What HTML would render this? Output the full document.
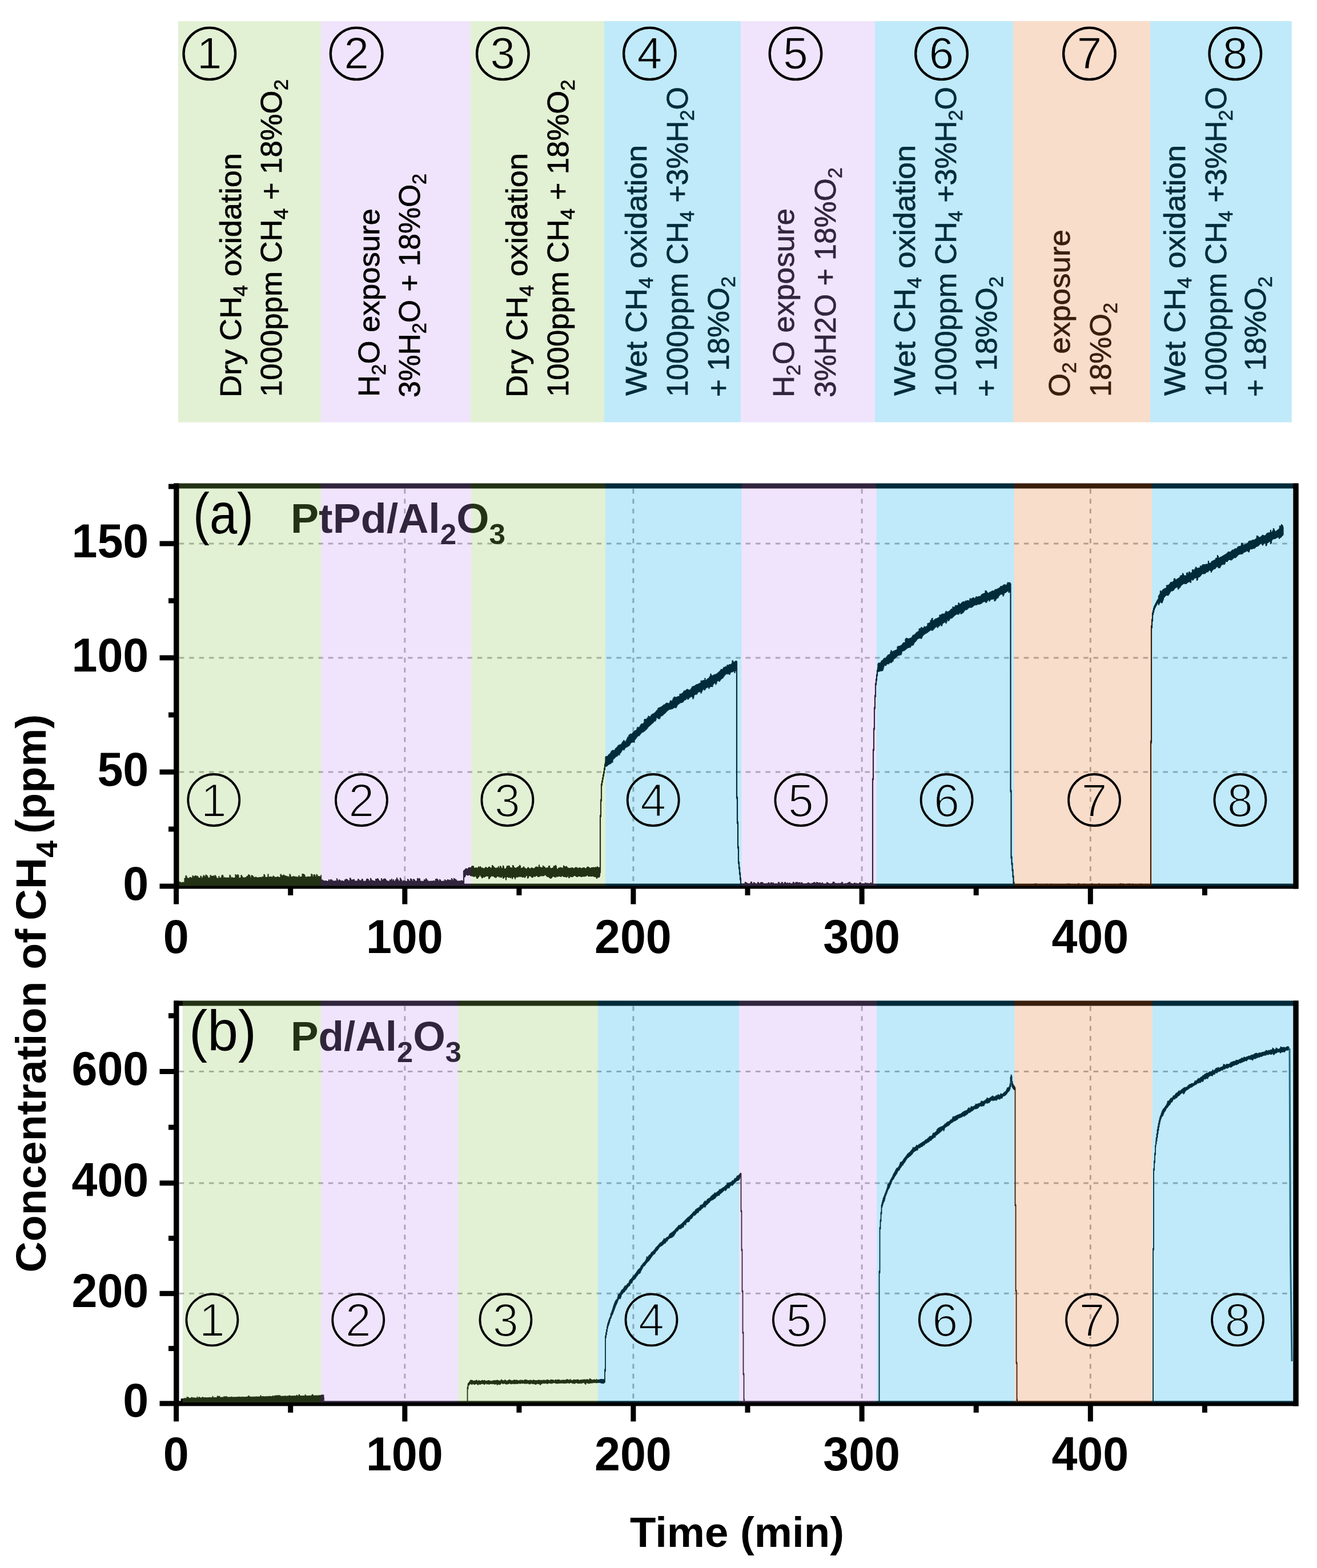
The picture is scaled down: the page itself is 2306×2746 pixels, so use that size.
<!DOCTYPE html>
<html><head><meta charset="utf-8"><title>CH4 concentration</title><style>html,body{margin:0;padding:0;background:#fff;}svg{display:block;}</style></head><body>
<svg xmlns="http://www.w3.org/2000/svg" width="2306" height="2746" viewBox="0 0 2306 2746" font-family='"Liberation Sans", Arial, sans-serif'>
<rect width="2306" height="2746" fill="#fff"/>
<rect x="312.0" y="37.0" width="249.7" height="702.5" fill="rgb(139,195,83)" fill-opacity="0.250"/>
<rect x="561.7" y="37.0" width="262.3" height="702.5" fill="rgb(195,147,243)" fill-opacity="0.250"/>
<rect x="824.0" y="37.0" width="234.0" height="702.5" fill="rgb(139,195,83)" fill-opacity="0.250"/>
<g fill="#000" stroke="#000" stroke-width="0.7">
<text transform="translate(422.1,696.0) rotate(-90)" font-size="52.0" textLength="427.8" lengthAdjust="spacingAndGlyphs"><tspan>Dry CH</tspan><tspan dy="11.0" font-size="34.3">4</tspan><tspan dy="-11.0"> oxidation</tspan></text>
<text transform="translate(493.0,695.0) rotate(-90)" font-size="52.0" textLength="556.0" lengthAdjust="spacingAndGlyphs"><tspan>1000ppm CH</tspan><tspan dy="11.0" font-size="34.3">4</tspan><tspan dy="-11.0"> + 18%O</tspan><tspan dy="11.0" font-size="34.3">2</tspan></text>
<text transform="translate(664.0,695.0) rotate(-90)" font-size="52.0" textLength="329.8" lengthAdjust="spacingAndGlyphs"><tspan>H</tspan><tspan dy="11.0" font-size="34.3">2</tspan><tspan dy="-11.0">O exposure</tspan></text>
<text transform="translate(735.4,696.0) rotate(-90)" font-size="52.0" textLength="392.0" lengthAdjust="spacingAndGlyphs"><tspan>3%H</tspan><tspan dy="11.0" font-size="34.3">2</tspan><tspan dy="-11.0">O + 18%O</tspan><tspan dy="11.0" font-size="34.3">2</tspan></text>
<text transform="translate(923.0,696.0) rotate(-90)" font-size="52.0" textLength="427.8" lengthAdjust="spacingAndGlyphs"><tspan>Dry CH</tspan><tspan dy="11.0" font-size="34.3">4</tspan><tspan dy="-11.0"> oxidation</tspan></text>
<text transform="translate(995.0,695.0) rotate(-90)" font-size="52.0" textLength="555.6" lengthAdjust="spacingAndGlyphs"><tspan>1000ppm CH</tspan><tspan dy="11.0" font-size="34.3">4</tspan><tspan dy="-11.0"> + 18%O</tspan><tspan dy="11.0" font-size="34.3">2</tspan></text>
<text transform="translate(1132.0,693.0) rotate(-90)" font-size="52.0" textLength="439.0" lengthAdjust="spacingAndGlyphs"><tspan>Wet CH</tspan><tspan dy="11.0" font-size="34.3">4</tspan><tspan dy="-11.0"> oxidation</tspan></text>
<text transform="translate(1204.0,695.0) rotate(-90)" font-size="52.0" textLength="543.0" lengthAdjust="spacingAndGlyphs"><tspan>1000ppm CH</tspan><tspan dy="11.0" font-size="34.3">4</tspan><tspan dy="-11.0"> +3%H</tspan><tspan dy="11.0" font-size="34.3">2</tspan><tspan dy="-11.0">O</tspan></text>
<text transform="translate(1276.0,695.0) rotate(-90)" font-size="52.0" textLength="211.0" lengthAdjust="spacingAndGlyphs"><tspan>+ 18%O</tspan><tspan dy="11.0" font-size="34.3">2</tspan></text>
<text transform="translate(1390.0,696.0) rotate(-90)" font-size="52.0" textLength="330.8" lengthAdjust="spacingAndGlyphs"><tspan>H</tspan><tspan dy="11.0" font-size="34.3">2</tspan><tspan dy="-11.0">O exposure</tspan></text>
<text transform="translate(1463.0,696.0) rotate(-90)" font-size="52.0" textLength="402.8" lengthAdjust="spacingAndGlyphs"><tspan>3%H2O + 18%O</tspan><tspan dy="11.0" font-size="34.3">2</tspan></text>
<text transform="translate(1601.6,693.0) rotate(-90)" font-size="52.0" textLength="439.0" lengthAdjust="spacingAndGlyphs"><tspan>Wet CH</tspan><tspan dy="11.0" font-size="34.3">4</tspan><tspan dy="-11.0"> oxidation</tspan></text>
<text transform="translate(1673.5,695.0) rotate(-90)" font-size="52.0" textLength="543.0" lengthAdjust="spacingAndGlyphs"><tspan>1000ppm CH</tspan><tspan dy="11.0" font-size="34.3">4</tspan><tspan dy="-11.0"> +3%H</tspan><tspan dy="11.0" font-size="34.3">2</tspan><tspan dy="-11.0">O</tspan></text>
<text transform="translate(1744.5,695.0) rotate(-90)" font-size="52.0" textLength="211.0" lengthAdjust="spacingAndGlyphs"><tspan>+ 18%O</tspan><tspan dy="11.0" font-size="34.3">2</tspan></text>
<text transform="translate(1873.0,695.0) rotate(-90)" font-size="52.0" textLength="293.0" lengthAdjust="spacingAndGlyphs"><tspan>O</tspan><tspan dy="11.0" font-size="34.3">2</tspan><tspan dy="-11.0"> exposure</tspan></text>
<text transform="translate(1945.0,695.0) rotate(-90)" font-size="52.0" textLength="165.0" lengthAdjust="spacingAndGlyphs"><tspan>18%O</tspan><tspan dy="11.0" font-size="34.3">2</tspan></text>
<text transform="translate(2074.7,693.0) rotate(-90)" font-size="52.0" textLength="439.0" lengthAdjust="spacingAndGlyphs"><tspan>Wet CH</tspan><tspan dy="11.0" font-size="34.3">4</tspan><tspan dy="-11.0"> oxidation</tspan></text>
<text transform="translate(2146.7,695.0) rotate(-90)" font-size="52.0" textLength="543.0" lengthAdjust="spacingAndGlyphs"><tspan>1000ppm CH</tspan><tspan dy="11.0" font-size="34.3">4</tspan><tspan dy="-11.0"> +3%H</tspan><tspan dy="11.0" font-size="34.3">2</tspan><tspan dy="-11.0">O</tspan></text>
<text transform="translate(2216.0,695.0) rotate(-90)" font-size="52.0" textLength="211.0" lengthAdjust="spacingAndGlyphs"><tspan>+ 18%O</tspan><tspan dy="11.0" font-size="34.3">2</tspan></text>
</g>
<rect x="1058.0" y="37.0" width="239.0" height="702.5" fill="rgb(3,171,231)" fill-opacity="0.250"/>
<rect x="1297.0" y="37.0" width="235.0" height="702.5" fill="rgb(195,147,243)" fill-opacity="0.250"/>
<rect x="1532.0" y="37.0" width="242.0" height="702.5" fill="rgb(3,171,231)" fill-opacity="0.250"/>
<rect x="1774.0" y="37.0" width="240.0" height="702.5" fill="rgb(231,119,47)" fill-opacity="0.250"/>
<rect x="2014.0" y="37.0" width="247.8" height="702.5" fill="rgb(3,171,231)" fill-opacity="0.250"/>
<circle cx="366.8" cy="93.9" r="45.3" fill="none" stroke="#000" stroke-width="4.3"/><text x="366.8" y="120.2" font-size="78.0" text-anchor="middle" stroke="rgb(226,240,212)" stroke-width="1.1">1</text>
<circle cx="624.1" cy="93.9" r="45.3" fill="none" stroke="#000" stroke-width="4.3"/><text x="624.1" y="120.2" font-size="78.0" text-anchor="middle" stroke="rgb(240,228,252)" stroke-width="1.1">2</text>
<circle cx="880.3" cy="93.9" r="45.3" fill="none" stroke="#000" stroke-width="4.3"/><text x="880.3" y="120.2" font-size="78.0" text-anchor="middle" stroke="rgb(226,240,212)" stroke-width="1.1">3</text>
<circle cx="1137.4" cy="93.9" r="45.3" fill="none" stroke="#000" stroke-width="4.3"/><text x="1137.4" y="120.2" font-size="78.0" text-anchor="middle" stroke="rgb(192,234,249)" stroke-width="1.1">4</text>
<circle cx="1393.0" cy="93.9" r="45.3" fill="none" stroke="#000" stroke-width="4.3"/><text x="1393.0" y="120.2" font-size="78.0" text-anchor="middle" stroke="rgb(240,228,252)" stroke-width="1.1">5</text>
<circle cx="1648.5" cy="93.9" r="45.3" fill="none" stroke="#000" stroke-width="4.3"/><text x="1648.5" y="120.2" font-size="78.0" text-anchor="middle" stroke="rgb(192,234,249)" stroke-width="1.1">6</text>
<circle cx="1907.4" cy="93.9" r="45.3" fill="none" stroke="#000" stroke-width="4.3"/><text x="1907.4" y="120.2" font-size="78.0" text-anchor="middle" stroke="rgb(249,221,203)" stroke-width="1.1">7</text>
<circle cx="2162.8" cy="93.9" r="45.3" fill="none" stroke="#000" stroke-width="4.3"/><text x="2162.8" y="120.2" font-size="78.0" text-anchor="middle" stroke="rgb(192,234,249)" stroke-width="1.1">8</text>
<line x1="313.8" y1="1352.0" x2="2263.0" y2="1352.0" stroke="#aaa" stroke-width="3" stroke-dasharray="8.5,8.9" fill="none"/>
<line x1="313.8" y1="1152.0" x2="2263.0" y2="1152.0" stroke="#aaa" stroke-width="3" stroke-dasharray="8.5,8.9" fill="none"/>
<line x1="313.8" y1="952.0" x2="2263.0" y2="952.0" stroke="#aaa" stroke-width="3" stroke-dasharray="8.5,8.9" fill="none"/>
<line x1="708.8" y1="856.0" x2="708.8" y2="1547.0" stroke="#aaa" stroke-width="3" stroke-dasharray="8.5,8.9" fill="none"/>
<line x1="1108.9" y1="856.0" x2="1108.9" y2="1547.0" stroke="#aaa" stroke-width="3" stroke-dasharray="8.5,8.9" fill="none"/>
<line x1="1509.1" y1="856.0" x2="1509.1" y2="1547.0" stroke="#aaa" stroke-width="3" stroke-dasharray="8.5,8.9" fill="none"/>
<line x1="1909.3" y1="856.0" x2="1909.3" y2="1547.0" stroke="#aaa" stroke-width="3" stroke-dasharray="8.5,8.9" fill="none"/>
<path d="M313.0,1545.8 314.0,1545.8 314.0,1544.2 315.0,1544.2 315.0,1545.2 316.0,1545.2 316.0,1545.8 317.0,1545.8 317.0,1546.0 318.0,1546.0 318.0,1545.7 319.0,1545.7 319.0,1545.5 320.0,1545.5 320.0,1545.2 321.0,1545.2 321.0,1545.7 322.0,1545.7 322.0,1545.8 323.0,1545.8 323.0,1538.5 324.0,1538.5 324.0,1537.7 325.0,1537.7 325.0,1533.7 326.0,1533.7 326.0,1534.2 327.0,1534.2 327.0,1538.4 328.0,1538.4 328.0,1537.7 329.0,1537.7 329.0,1538.0 330.0,1538.0 330.0,1538.4 331.0,1538.4 331.0,1538.5 332.0,1538.5 332.0,1536.6 333.0,1536.6 333.0,1536.4 334.0,1536.4 334.0,1537.3 335.0,1537.3 335.0,1538.7 336.0,1538.7 336.0,1537.6 337.0,1537.6 337.0,1533.5 338.0,1533.5 338.0,1537.3 339.0,1537.3 339.0,1535.2 340.0,1535.2 340.0,1535.9 341.0,1535.9 341.0,1534.4 342.0,1534.4 342.0,1533.3 343.0,1533.3 343.0,1534.9 344.0,1534.9 344.0,1536.2 345.0,1536.2 345.0,1534.4 346.0,1534.4 346.0,1535.1 347.0,1535.1 347.0,1538.6 348.0,1538.6 348.0,1537.5 349.0,1537.5 349.0,1537.5 350.0,1537.5 350.0,1538.2 351.0,1538.2 351.0,1534.1 352.0,1534.1 352.0,1535.8 353.0,1535.8 353.0,1538.6 354.0,1538.6 354.0,1538.0 355.0,1538.0 355.0,1535.5 356.0,1535.5 356.0,1533.1 357.0,1533.1 357.0,1533.9 358.0,1533.9 358.0,1535.7 359.0,1535.7 359.0,1538.1 360.0,1538.1 360.0,1532.0 361.0,1532.0 361.0,1537.3 362.0,1537.3 362.0,1533.4 363.0,1533.4 363.0,1535.2 364.0,1535.2 364.0,1538.3 365.0,1538.3 365.0,1537.9 366.0,1537.9 366.0,1537.2 367.0,1537.2 367.0,1538.2 368.0,1538.2 368.0,1532.9 369.0,1532.9 369.0,1538.2 370.0,1538.2 370.0,1534.1 371.0,1534.1 371.0,1534.7 372.0,1534.7 372.0,1537.8 373.0,1537.8 373.0,1533.9 374.0,1533.9 374.0,1534.9 375.0,1534.9 375.0,1535.3 376.0,1535.3 376.0,1532.9 377.0,1532.9 377.0,1534.1 378.0,1534.1 378.0,1535.7 379.0,1535.7 379.0,1538.1 380.0,1538.1 380.0,1538.0 381.0,1538.0 381.0,1538.1 382.0,1538.1 382.0,1538.2 383.0,1538.2 383.0,1534.6 384.0,1534.6 384.0,1538.0 385.0,1538.0 385.0,1537.9 386.0,1537.9 386.0,1537.4 387.0,1537.4 387.0,1537.0 388.0,1537.0 388.0,1533.5 389.0,1533.5 389.0,1532.4 390.0,1532.4 390.0,1533.8 391.0,1533.8 391.0,1538.1 392.0,1538.1 392.0,1537.3 393.0,1537.3 393.0,1536.5 394.0,1536.5 394.0,1537.5 395.0,1537.5 395.0,1537.8 396.0,1537.8 396.0,1537.1 397.0,1537.1 397.0,1537.5 398.0,1537.5 398.0,1537.4 399.0,1537.4 399.0,1537.1 400.0,1537.1 400.0,1538.0 401.0,1538.0 401.0,1537.3 402.0,1537.3 402.0,1532.3 403.0,1532.3 403.0,1534.0 404.0,1534.0 404.0,1537.9 405.0,1537.9 405.0,1537.2 406.0,1537.2 406.0,1536.9 407.0,1536.9 407.0,1537.0 408.0,1537.0 408.0,1537.4 409.0,1537.4 409.0,1537.7 410.0,1537.7 410.0,1537.6 411.0,1537.6 411.0,1537.4 412.0,1537.4 412.0,1531.5 413.0,1531.5 413.0,1533.0 414.0,1533.0 414.0,1534.1 415.0,1534.1 415.0,1532.9 416.0,1532.9 416.0,1531.6 417.0,1531.6 417.0,1533.0 418.0,1533.0 418.0,1537.8 419.0,1537.8 419.0,1537.7 420.0,1537.7 420.0,1537.8 421.0,1537.8 421.0,1537.0 422.0,1537.0 422.0,1532.7 423.0,1532.7 423.0,1534.4 424.0,1534.4 424.0,1535.5 425.0,1535.5 425.0,1537.7 426.0,1537.7 426.0,1537.4 427.0,1537.4 427.0,1537.2 428.0,1537.2 428.0,1537.2 429.0,1537.2 429.0,1537.3 430.0,1537.3 430.0,1536.3 431.0,1536.3 431.0,1536.3 432.0,1536.3 432.0,1534.6 433.0,1534.6 433.0,1535.4 434.0,1535.4 434.0,1533.6 435.0,1533.6 435.0,1531.5 436.0,1531.5 436.0,1532.6 437.0,1532.6 437.0,1534.2 438.0,1534.2 438.0,1537.4 439.0,1537.4 439.0,1537.5 440.0,1537.5 440.0,1533.0 441.0,1533.0 441.0,1533.4 442.0,1533.4 442.0,1534.2 443.0,1534.2 443.0,1535.3 444.0,1535.3 444.0,1537.2 445.0,1537.2 445.0,1536.8 446.0,1536.8 446.0,1536.3 447.0,1536.3 447.0,1536.2 448.0,1536.2 448.0,1536.2 449.0,1536.2 449.0,1536.5 450.0,1536.5 450.0,1537.3 451.0,1537.3 451.0,1537.3 452.0,1537.3 452.0,1537.0 453.0,1537.0 453.0,1536.5 454.0,1536.5 454.0,1536.7 455.0,1536.7 455.0,1537.3 456.0,1537.3 456.0,1536.3 457.0,1536.3 457.0,1537.0 458.0,1537.0 458.0,1537.2 459.0,1537.2 459.0,1535.6 460.0,1535.6 460.0,1535.7 461.0,1535.7 461.0,1536.0 462.0,1536.0 462.0,1531.3 463.0,1531.3 463.0,1532.8 464.0,1532.8 464.0,1536.6 465.0,1536.6 465.0,1536.4 466.0,1536.4 466.0,1536.7 467.0,1536.7 467.0,1536.5 468.0,1536.5 468.0,1535.9 469.0,1535.9 469.0,1531.1 470.0,1531.1 470.0,1537.0 471.0,1537.0 471.0,1536.0 472.0,1536.0 472.0,1535.9 473.0,1535.9 473.0,1535.7 474.0,1535.7 474.0,1535.4 475.0,1535.4 475.0,1536.9 476.0,1536.9 476.0,1536.7 477.0,1536.7 477.0,1535.9 478.0,1535.9 478.0,1534.0 479.0,1534.0 479.0,1535.1 480.0,1535.1 480.0,1535.5 481.0,1535.5 481.0,1536.9 482.0,1536.9 482.0,1536.6 483.0,1536.6 483.0,1536.5 484.0,1536.5 484.0,1536.1 485.0,1536.1 485.0,1536.7 486.0,1536.7 486.0,1535.4 487.0,1535.4 487.0,1536.3 488.0,1536.3 488.0,1536.7 489.0,1536.7 489.0,1536.6 490.0,1536.6 490.0,1536.8 491.0,1536.8 491.0,1531.1 492.0,1531.1 492.0,1532.4 493.0,1532.4 493.0,1535.9 494.0,1535.9 494.0,1533.7 495.0,1533.7 495.0,1536.2 496.0,1536.2 496.0,1532.0 497.0,1532.0 497.0,1533.0 498.0,1533.0 498.0,1533.3 499.0,1533.3 499.0,1534.5 500.0,1534.5 500.0,1534.2 501.0,1534.2 501.0,1534.5 502.0,1534.5 502.0,1535.9 503.0,1535.9 503.0,1535.1 504.0,1535.1 504.0,1535.0 505.0,1535.0 505.0,1536.3 506.0,1536.3 506.0,1536.4 507.0,1536.4 507.0,1530.9 508.0,1530.9 508.0,1532.6 509.0,1532.6 509.0,1536.6 510.0,1536.6 510.0,1535.7 511.0,1535.7 511.0,1536.5 512.0,1536.5 512.0,1535.8 513.0,1535.8 513.0,1534.5 514.0,1534.5 514.0,1535.0 515.0,1535.0 515.0,1536.2 516.0,1536.2 516.0,1535.2 517.0,1535.2 517.0,1536.4 518.0,1536.4 518.0,1536.2 519.0,1536.2 519.0,1535.6 520.0,1535.6 520.0,1536.3 521.0,1536.3 521.0,1536.2 522.0,1536.2 522.0,1536.0 523.0,1536.0 523.0,1533.4 524.0,1533.4 524.0,1536.4 525.0,1536.4 525.0,1535.9 526.0,1535.9 526.0,1536.1 527.0,1536.1 527.0,1535.6 528.0,1535.6 528.0,1535.6 529.0,1535.6 529.0,1530.7 530.0,1530.7 530.0,1531.3 531.0,1531.3 531.0,1530.8 532.0,1530.8 532.0,1531.5 533.0,1531.5 533.0,1532.9 534.0,1532.9 534.0,1536.2 535.0,1536.2 535.0,1536.0 536.0,1536.0 536.0,1535.9 537.0,1535.9 537.0,1536.2 538.0,1536.2 538.0,1535.7 539.0,1535.7 539.0,1535.4 540.0,1535.4 540.0,1535.5 541.0,1535.5 541.0,1536.0 542.0,1536.0 542.0,1536.1 543.0,1536.1 543.0,1535.1 544.0,1535.1 544.0,1535.8 545.0,1535.8 545.0,1530.6 546.0,1530.6 546.0,1531.9 547.0,1531.9 547.0,1535.9 548.0,1535.9 548.0,1535.9 549.0,1535.9 549.0,1532.0 550.0,1532.0 550.0,1531.8 551.0,1531.8 551.0,1532.8 552.0,1532.8 552.0,1535.7 553.0,1535.7 553.0,1535.6 554.0,1535.6 554.0,1531.4 555.0,1531.4 555.0,1532.7 556.0,1532.7 556.0,1535.7 557.0,1535.7 557.0,1535.2 558.0,1535.2 558.0,1534.5 559.0,1534.5 559.0,1535.6 560.0,1535.6 560.0,1535.2 561.0,1535.2 561.0,1535.6 562.0,1535.6 562.0,1532.6 562.5,1532.6 562.5,1543.5 563.5,1543.5 563.5,1540.8 564.5,1540.8 564.5,1541.3 565.5,1541.3 565.5,1543.3 566.5,1543.3 566.5,1542.7 567.5,1542.7 567.5,1542.8 568.5,1542.8 568.5,1543.3 569.5,1543.3 569.5,1542.7 570.5,1542.7 570.5,1542.7 571.5,1542.7 571.5,1543.5 572.5,1543.5 572.5,1543.4 573.5,1543.4 573.5,1543.5 574.5,1543.5 574.5,1543.0 575.5,1543.0 575.5,1540.7 576.5,1540.7 576.5,1542.6 577.5,1542.6 577.5,1542.6 578.5,1542.6 578.5,1540.4 579.5,1540.4 579.5,1540.9 580.5,1540.9 580.5,1540.9 581.5,1540.9 581.5,1542.4 582.5,1542.4 582.5,1543.1 583.5,1543.1 583.5,1542.9 584.5,1542.9 584.5,1543.3 585.5,1543.3 585.5,1543.2 586.5,1543.2 586.5,1542.7 587.5,1542.7 587.5,1542.9 588.5,1542.9 588.5,1543.1 589.5,1543.1 589.5,1538.6 590.5,1538.6 590.5,1541.4 591.5,1541.4 591.5,1543.0 592.5,1543.0 592.5,1542.8 593.5,1542.8 593.5,1540.7 594.5,1540.7 594.5,1541.5 595.5,1541.5 595.5,1542.0 596.5,1542.0 596.5,1543.4 597.5,1543.4 597.5,1543.3 598.5,1543.3 598.5,1542.3 599.5,1542.3 599.5,1543.4 600.5,1543.4 600.5,1543.2 601.5,1543.2 601.5,1543.3 602.5,1543.3 602.5,1543.4 603.5,1543.4 603.5,1540.9 604.5,1540.9 604.5,1542.6 605.5,1542.6 605.5,1539.7 606.5,1539.7 606.5,1539.8 607.5,1539.8 607.5,1540.4 608.5,1540.4 608.5,1541.4 609.5,1541.4 609.5,1542.6 610.5,1542.6 610.5,1543.3 611.5,1543.3 611.5,1542.3 612.5,1542.3 612.5,1537.7 613.5,1537.7 613.5,1538.9 614.5,1538.9 614.5,1540.9 615.5,1540.9 615.5,1543.3 616.5,1543.3 616.5,1541.1 617.5,1541.1 617.5,1540.7 618.5,1540.7 618.5,1541.1 619.5,1541.1 619.5,1540.1 620.5,1540.1 620.5,1542.9 621.5,1542.9 621.5,1543.3 622.5,1543.3 622.5,1542.8 623.5,1542.8 623.5,1542.9 624.5,1542.9 624.5,1543.4 625.5,1543.4 625.5,1542.8 626.5,1542.8 626.5,1539.5 627.5,1539.5 627.5,1540.1 628.5,1540.1 628.5,1541.7 629.5,1541.7 629.5,1542.5 630.5,1542.5 630.5,1543.1 631.5,1543.1 631.5,1541.8 632.5,1541.8 632.5,1542.9 633.5,1542.9 633.5,1539.3 634.5,1539.3 634.5,1540.3 635.5,1540.3 635.5,1543.5 636.5,1543.5 636.5,1543.4 637.5,1543.4 637.5,1543.0 638.5,1543.0 638.5,1543.5 639.5,1543.5 639.5,1543.4 640.5,1543.4 640.5,1542.7 641.5,1542.7 641.5,1539.9 642.5,1539.9 642.5,1539.0 643.5,1539.0 643.5,1539.6 644.5,1539.6 644.5,1540.4 645.5,1540.4 645.5,1542.8 646.5,1542.8 646.5,1543.3 647.5,1543.3 647.5,1542.7 648.5,1542.7 648.5,1538.2 649.5,1538.2 649.5,1540.1 650.5,1540.1 650.5,1541.3 651.5,1541.3 651.5,1543.1 652.5,1543.1 652.5,1542.4 653.5,1542.4 653.5,1543.1 654.5,1543.1 654.5,1542.7 655.5,1542.7 655.5,1543.5 656.5,1543.5 656.5,1543.3 657.5,1543.3 657.5,1539.5 658.5,1539.5 658.5,1539.7 659.5,1539.7 659.5,1543.1 660.5,1543.1 660.5,1538.5 661.5,1538.5 661.5,1539.4 662.5,1539.4 662.5,1540.9 663.5,1540.9 663.5,1543.0 664.5,1543.0 664.5,1542.6 665.5,1542.6 665.5,1543.3 666.5,1543.3 666.5,1543.4 667.5,1543.4 667.5,1538.6 668.5,1538.6 668.5,1541.1 669.5,1541.1 669.5,1540.9 670.5,1540.9 670.5,1542.3 671.5,1542.3 671.5,1539.3 672.5,1539.3 672.5,1540.6 673.5,1540.6 673.5,1538.9 674.5,1538.9 674.5,1539.8 675.5,1539.8 675.5,1541.2 676.5,1541.2 676.5,1542.7 677.5,1542.7 677.5,1542.9 678.5,1542.9 678.5,1543.0 679.5,1543.0 679.5,1543.0 680.5,1543.0 680.5,1543.4 681.5,1543.4 681.5,1543.4 682.5,1543.4 682.5,1540.8 683.5,1540.8 683.5,1541.5 684.5,1541.5 684.5,1542.7 685.5,1542.7 685.5,1539.4 686.5,1539.4 686.5,1542.4 687.5,1542.4 687.5,1542.9 688.5,1542.9 688.5,1540.5 689.5,1540.5 689.5,1543.4 690.5,1543.4 690.5,1543.5 691.5,1543.5 691.5,1542.8 692.5,1542.8 692.5,1540.3 693.5,1540.3 693.5,1541.2 694.5,1541.2 694.5,1537.4 695.5,1537.4 695.5,1540.2 696.5,1540.2 696.5,1540.7 697.5,1540.7 697.5,1543.3 698.5,1543.3 698.5,1542.9 699.5,1542.9 699.5,1543.4 700.5,1543.4 700.5,1537.5 701.5,1537.5 701.5,1539.8 702.5,1539.8 702.5,1541.1 703.5,1541.1 703.5,1543.2 704.5,1543.2 704.5,1543.2 705.5,1543.2 705.5,1543.2 706.5,1543.2 706.5,1542.1 707.5,1542.1 707.5,1542.5 708.5,1542.5 708.5,1542.9 709.5,1542.9 709.5,1543.0 710.5,1543.0 710.5,1543.3 711.5,1543.3 711.5,1543.5 712.5,1543.5 712.5,1543.3 713.5,1543.3 713.5,1539.7 714.5,1539.7 714.5,1540.7 715.5,1540.7 715.5,1542.9 716.5,1542.9 716.5,1543.2 717.5,1543.2 717.5,1542.9 718.5,1542.9 718.5,1538.8 719.5,1538.8 719.5,1539.6 720.5,1539.6 720.5,1540.7 721.5,1540.7 721.5,1543.3 722.5,1543.3 722.5,1543.1 723.5,1543.1 723.5,1539.6 724.5,1539.6 724.5,1540.4 725.5,1540.4 725.5,1541.5 726.5,1541.5 726.5,1543.3 727.5,1543.3 727.5,1543.2 728.5,1543.2 728.5,1543.1 729.5,1543.1 729.5,1542.8 730.5,1542.8 730.5,1538.3 731.5,1538.3 731.5,1540.1 732.5,1540.1 732.5,1539.4 733.5,1539.4 733.5,1538.3 734.5,1538.3 734.5,1539.7 735.5,1539.7 735.5,1543.0 736.5,1543.0 736.5,1543.1 737.5,1543.1 737.5,1543.5 738.5,1543.5 738.5,1543.3 739.5,1543.3 739.5,1543.4 740.5,1543.4 740.5,1543.4 741.5,1543.4 741.5,1543.5 742.5,1543.5 742.5,1540.6 743.5,1540.6 743.5,1541.1 744.5,1541.1 744.5,1541.4 745.5,1541.4 745.5,1538.7 746.5,1538.7 746.5,1540.4 747.5,1540.4 747.5,1541.2 748.5,1541.2 748.5,1543.4 749.5,1543.4 749.5,1543.0 750.5,1543.0 750.5,1543.0 751.5,1543.0 751.5,1543.3 752.5,1543.3 752.5,1543.5 753.5,1543.5 753.5,1543.3 754.5,1543.3 754.5,1543.2 755.5,1543.2 755.5,1543.1 756.5,1543.1 756.5,1543.3 757.5,1543.3 757.5,1543.2 758.5,1543.2 758.5,1542.6 759.5,1542.6 759.5,1542.7 760.5,1542.7 760.5,1543.3 761.5,1543.3 761.5,1543.2 762.5,1543.2 762.5,1539.6 763.5,1539.6 763.5,1542.8 764.5,1542.8 764.5,1539.2 765.5,1539.2 765.5,1540.0 766.5,1540.0 766.5,1541.3 767.5,1541.3 767.5,1543.2 768.5,1543.2 768.5,1543.2 769.5,1543.2 769.5,1540.3 770.5,1540.3 770.5,1541.0 771.5,1541.0 771.5,1542.9 772.5,1542.9 772.5,1543.4 773.5,1543.4 773.5,1543.5 774.5,1543.5 774.5,1543.3 775.5,1543.3 775.5,1543.0 776.5,1543.0 776.5,1543.0 777.5,1543.0 777.5,1543.2 778.5,1543.2 778.5,1540.5 779.5,1540.5 779.5,1542.0 780.5,1542.0 780.5,1543.5 781.5,1543.5 781.5,1542.1 782.5,1542.1 782.5,1542.8 783.5,1542.8 783.5,1540.4 784.5,1540.4 784.5,1541.0 785.5,1541.0 785.5,1541.8 786.5,1541.8 786.5,1543.5 787.5,1543.5 787.5,1541.2 788.5,1541.2 788.5,1541.8 789.5,1541.8 789.5,1542.3 790.5,1542.3 790.5,1538.3 791.5,1538.3 791.5,1540.2 792.5,1540.2 792.5,1542.0 793.5,1542.0 793.5,1542.0 794.5,1542.0 794.5,1538.3 795.5,1538.3 795.5,1539.2 796.5,1539.2 796.5,1541.9 797.5,1541.9 797.5,1540.0 798.5,1540.0 798.5,1541.4 799.5,1541.4 799.5,1542.8 800.5,1542.8 800.5,1542.9 801.5,1542.9 801.5,1543.0 802.5,1543.0 802.5,1543.1 803.5,1543.1 803.5,1542.9 804.5,1542.9 804.5,1543.2 805.5,1543.2 805.5,1543.1 806.5,1543.1 806.5,1542.5 807.5,1542.5 807.5,1542.2 808.5,1542.2 808.5,1542.1 809.5,1542.1 809.5,1543.0 810.5,1543.0 810.5,1543.4 811.5,1543.4 811.5,1524.9 812.5,1524.9 812.5,1524.3 813.5,1524.3 813.5,1523.4 814.5,1523.4 814.5,1522.1 815.5,1522.1 815.5,1521.1 816.5,1521.1 816.5,1521.4 817.5,1521.4 817.5,1522.4 818.5,1522.4 818.5,1522.1 819.5,1522.1 819.5,1520.4 820.5,1520.4 820.5,1519.5 821.5,1519.5 821.5,1519.4 822.5,1519.4 822.5,1519.7 823.5,1519.7 823.5,1519.5 824.5,1519.5 824.5,1519.6 825.5,1519.6 825.5,1517.3 826.5,1517.3 826.5,1517.1 827.5,1517.1 827.5,1516.7 828.5,1516.7 828.5,1517.4 829.5,1517.4 829.5,1520.0 830.5,1520.0 830.5,1520.3 831.5,1520.3 831.5,1520.1 832.5,1520.1 832.5,1519.9 833.5,1519.9 833.5,1519.8 834.5,1519.8 834.5,1519.9 835.5,1519.9 835.5,1520.4 836.5,1520.4 836.5,1520.6 837.5,1520.6 837.5,1517.9 838.5,1517.9 838.5,1518.9 839.5,1518.9 839.5,1520.1 840.5,1520.1 840.5,1517.7 841.5,1517.7 841.5,1519.4 842.5,1519.4 842.5,1519.9 843.5,1519.9 843.5,1520.5 844.5,1520.5 844.5,1520.0 845.5,1520.0 845.5,1520.8 846.5,1520.8 846.5,1521.2 847.5,1521.2 847.5,1521.3 848.5,1521.3 848.5,1520.6 849.5,1520.6 849.5,1519.0 850.5,1519.0 850.5,1518.8 851.5,1518.8 851.5,1520.2 852.5,1520.2 852.5,1520.7 853.5,1520.7 853.5,1520.5 854.5,1520.5 854.5,1519.6 855.5,1519.6 855.5,1518.3 856.5,1518.3 856.5,1518.2 857.5,1518.2 857.5,1519.6 858.5,1519.6 858.5,1520.2 859.5,1520.2 859.5,1520.0 860.5,1520.0 860.5,1520.0 861.5,1520.0 861.5,1515.7 862.5,1515.7 862.5,1516.7 863.5,1516.7 863.5,1517.4 864.5,1517.4 864.5,1519.5 865.5,1519.5 865.5,1519.4 866.5,1519.4 866.5,1520.0 867.5,1520.0 867.5,1521.1 868.5,1521.1 868.5,1521.1 869.5,1521.1 869.5,1519.8 870.5,1519.8 870.5,1519.8 871.5,1519.8 871.5,1521.0 872.5,1521.0 872.5,1517.7 873.5,1517.7 873.5,1520.9 874.5,1520.9 874.5,1520.8 875.5,1520.8 875.5,1516.9 876.5,1516.9 876.5,1517.9 877.5,1517.9 877.5,1520.8 878.5,1520.8 878.5,1520.6 879.5,1520.6 879.5,1520.2 880.5,1520.2 880.5,1516.2 881.5,1516.2 881.5,1518.0 882.5,1518.0 882.5,1521.6 883.5,1521.6 883.5,1521.6 884.5,1521.6 884.5,1521.5 885.5,1521.5 885.5,1521.4 886.5,1521.4 886.5,1519.0 887.5,1519.0 887.5,1516.5 888.5,1516.5 888.5,1517.2 889.5,1517.2 889.5,1520.0 890.5,1520.0 890.5,1516.0 891.5,1516.0 891.5,1517.1 892.5,1517.1 892.5,1519.9 893.5,1519.9 893.5,1519.6 894.5,1519.6 894.5,1519.7 895.5,1519.7 895.5,1520.1 896.5,1520.1 896.5,1520.0 897.5,1520.0 897.5,1515.7 898.5,1515.7 898.5,1516.4 899.5,1516.4 899.5,1519.2 900.5,1519.2 900.5,1519.6 901.5,1519.6 901.5,1520.4 902.5,1520.4 902.5,1520.6 903.5,1520.6 903.5,1520.2 904.5,1520.2 904.5,1519.6 905.5,1519.6 905.5,1518.9 906.5,1518.9 906.5,1519.3 907.5,1519.3 907.5,1517.7 908.5,1517.7 908.5,1521.0 909.5,1521.0 909.5,1515.4 910.5,1515.4 910.5,1516.3 911.5,1516.3 911.5,1520.7 912.5,1520.7 912.5,1520.9 913.5,1520.9 913.5,1520.2 914.5,1520.2 914.5,1519.8 915.5,1519.8 915.5,1519.8 916.5,1519.8 916.5,1517.8 917.5,1517.8 917.5,1519.8 918.5,1519.8 918.5,1520.2 919.5,1520.2 919.5,1521.0 920.5,1521.0 920.5,1521.7 921.5,1521.7 921.5,1522.3 922.5,1522.3 922.5,1521.6 923.5,1521.6 923.5,1519.5 924.5,1519.5 924.5,1519.1 925.5,1519.1 925.5,1520.4 926.5,1520.4 926.5,1521.3 927.5,1521.3 927.5,1521.6 928.5,1521.6 928.5,1521.3 929.5,1521.3 929.5,1520.3 930.5,1520.3 930.5,1519.9 931.5,1519.9 931.5,1520.0 932.5,1520.0 932.5,1520.5 933.5,1520.5 933.5,1521.4 934.5,1521.4 934.5,1521.5 935.5,1521.5 935.5,1520.7 936.5,1520.7 936.5,1519.8 937.5,1519.8 937.5,1518.6 938.5,1518.6 938.5,1518.1 939.5,1518.1 939.5,1518.4 940.5,1518.4 940.5,1518.7 941.5,1518.7 941.5,1519.0 942.5,1519.0 942.5,1518.9 943.5,1518.9 943.5,1514.8 944.5,1514.8 944.5,1518.4 945.5,1518.4 945.5,1518.8 946.5,1518.8 946.5,1519.2 947.5,1519.2 947.5,1519.5 948.5,1519.5 948.5,1519.5 949.5,1519.5 949.5,1519.3 950.5,1519.3 950.5,1516.4 951.5,1516.4 951.5,1518.0 952.5,1518.0 952.5,1518.1 953.5,1518.1 953.5,1518.6 954.5,1518.6 954.5,1520.5 955.5,1520.5 955.5,1520.7 956.5,1520.7 956.5,1520.4 957.5,1520.4 957.5,1519.7 958.5,1519.7 958.5,1519.8 959.5,1519.8 959.5,1520.7 960.5,1520.7 960.5,1516.5 961.5,1516.5 961.5,1516.4 962.5,1516.4 962.5,1519.5 963.5,1519.5 963.5,1520.9 964.5,1520.9 964.5,1521.4 965.5,1521.4 965.5,1520.8 966.5,1520.8 966.5,1520.4 967.5,1520.4 967.5,1520.0 968.5,1520.0 968.5,1519.3 969.5,1519.3 969.5,1516.6 970.5,1516.6 970.5,1516.9 971.5,1516.9 971.5,1518.1 972.5,1518.1 972.5,1515.4 973.5,1515.4 973.5,1517.5 974.5,1517.5 974.5,1521.6 975.5,1521.6 975.5,1522.3 976.5,1522.3 976.5,1522.7 977.5,1522.7 977.5,1520.0 978.5,1520.0 978.5,1521.7 979.5,1521.7 979.5,1519.8 980.5,1519.8 980.5,1519.0 981.5,1519.0 981.5,1519.5 982.5,1519.5 982.5,1519.9 983.5,1519.9 983.5,1520.2 984.5,1520.2 984.5,1520.2 985.5,1520.2 985.5,1520.0 986.5,1520.0 986.5,1516.2 987.5,1516.2 987.5,1517.1 988.5,1517.1 988.5,1518.2 989.5,1518.2 989.5,1518.1 990.5,1518.1 990.5,1517.7 991.5,1517.7 991.5,1517.3 992.5,1517.3 992.5,1519.0 993.5,1519.0 993.5,1519.8 994.5,1519.8 994.5,1520.3 995.5,1520.3 995.5,1520.5 996.5,1520.5 996.5,1520.5 997.5,1520.5 997.5,1520.4 998.5,1520.4 998.5,1520.3 999.5,1520.3 999.5,1520.1 1000.5,1520.1 1000.5,1519.9 1001.5,1519.9 1001.5,1519.7 1002.5,1519.7 1002.5,1520.2 1003.5,1520.2 1003.5,1521.4 1004.5,1521.4 1004.5,1521.6 1005.5,1521.6 1005.5,1520.7 1006.5,1520.7 1006.5,1519.8 1007.5,1519.8 1007.5,1519.1 1008.5,1519.1 1008.5,1519.0 1009.5,1519.0 1009.5,1519.6 1010.5,1519.6 1010.5,1520.3 1011.5,1520.3 1011.5,1521.0 1012.5,1521.0 1012.5,1520.9 1013.5,1520.9 1013.5,1519.9 1014.5,1519.9 1014.5,1519.6 1015.5,1519.6 1015.5,1520.2 1016.5,1520.2 1016.5,1520.7 1017.5,1520.7 1017.5,1521.1 1018.5,1521.1 1018.5,1520.9 1019.5,1520.9 1019.5,1520.3 1020.5,1520.3 1020.5,1519.9 1021.5,1519.9 1021.5,1519.6 1022.5,1519.6 1022.5,1519.8 1023.5,1519.8 1023.5,1520.5 1024.5,1520.5 1024.5,1521.0 1025.5,1521.0 1025.5,1521.2 1026.5,1521.2 1026.5,1520.5 1027.5,1520.5 1027.5,1518.8 1028.5,1518.8 1028.5,1518.2 1029.5,1518.2 1029.5,1518.6 1030.5,1518.6 1030.5,1519.1 1031.5,1519.1 1031.5,1519.8 1032.5,1519.8 1032.5,1520.4 1033.5,1520.4 1033.5,1521.0 1034.5,1521.0 1034.5,1520.7 1035.5,1520.7 1035.5,1519.4 1036.5,1519.4 1036.5,1519.5 1037.5,1519.5 1037.5,1520.9 1038.5,1520.9 1038.5,1519.0 1039.5,1519.0 1039.5,1519.4 1040.5,1519.4 1040.5,1520.5 1041.5,1520.5 1041.5,1519.3 1042.5,1519.3 1042.5,1518.8 1043.5,1518.8 1043.5,1519.1 1044.5,1519.1 1044.5,1519.5 1045.5,1519.5 1045.5,1517.9 1046.5,1517.9 1046.5,1518.9 1047.5,1518.9 1047.5,1519.7 1048.5,1519.7 1048.5,1520.3 1049.5,1520.3 1049.5,1519.1 1050.5,1519.1 1050.5,1427.7 1051.5,1427.7 1051.5,1400.2 1052.5,1400.2 1052.5,1372.7 1053.5,1372.7 1053.5,1367.4 1054.5,1367.4 1054.5,1362.0 1055.5,1362.0 1055.5,1356.6 1056.5,1356.6 1056.5,1351.2 1057.5,1351.2 1057.5,1345.1 1058.5,1345.1 1058.5,1338.2 1059.5,1338.2 1059.5,1334.7 1060.0,1334.7 1060.0,1325.6 1061.0,1325.6 1061.0,1324.5 1062.0,1324.5 1062.0,1324.7 1063.0,1324.7 1063.0,1325.0 1064.0,1325.0 1064.0,1323.8 1065.0,1323.8 1065.0,1322.3 1066.0,1322.3 1066.0,1321.2 1067.0,1321.2 1067.0,1320.5 1068.0,1320.5 1068.0,1319.8 1069.0,1319.8 1069.0,1317.9 1070.0,1317.9 1070.0,1316.1 1071.0,1316.1 1071.0,1314.9 1072.0,1314.9 1072.0,1314.3 1073.0,1314.3 1073.0,1313.9 1074.0,1313.9 1074.0,1314.3 1075.0,1314.3 1075.0,1314.8 1076.0,1314.8 1076.0,1313.5 1077.0,1313.5 1077.0,1311.7 1078.0,1311.7 1078.0,1310.4 1079.0,1310.4 1079.0,1309.5 1080.0,1309.5 1080.0,1308.7 1081.0,1308.7 1081.0,1307.3 1082.0,1307.3 1082.0,1305.9 1083.0,1305.9 1083.0,1305.1 1084.0,1305.1 1084.0,1304.6 1085.0,1304.6 1085.0,1304.2 1086.0,1304.2 1086.0,1304.0 1087.0,1304.0 1087.0,1303.8 1088.0,1303.8 1088.0,1302.4 1089.0,1302.4 1089.0,1300.7 1090.0,1300.7 1090.0,1299.2 1091.0,1299.2 1091.0,1297.9 1092.0,1297.9 1092.0,1296.6 1093.0,1296.6 1093.0,1298.1 1094.0,1298.1 1094.0,1299.6 1095.0,1299.6 1095.0,1299.0 1096.0,1299.0 1096.0,1297.1 1097.0,1297.1 1097.0,1295.0 1098.0,1295.0 1098.0,1292.8 1099.0,1292.8 1099.0,1290.5 1100.0,1290.5 1100.0,1290.4 1101.0,1290.4 1101.0,1287.2 1102.0,1287.2 1102.0,1288.0 1103.0,1288.0 1103.0,1285.5 1104.0,1285.5 1104.0,1285.3 1105.0,1285.3 1105.0,1286.9 1106.0,1286.9 1106.0,1285.4 1107.0,1285.4 1107.0,1284.2 1108.0,1284.2 1108.0,1283.1 1109.0,1283.1 1109.0,1282.1 1110.0,1282.1 1110.0,1281.0 1111.0,1281.0 1111.0,1280.0 1112.0,1280.0 1112.0,1279.6 1113.0,1279.6 1113.0,1279.4 1114.0,1279.4 1114.0,1278.3 1115.0,1278.3 1115.0,1275.8 1116.0,1275.8 1116.0,1273.3 1117.0,1273.3 1117.0,1274.0 1118.0,1274.0 1118.0,1274.6 1119.0,1274.6 1119.0,1273.8 1120.0,1273.8 1120.0,1272.0 1121.0,1272.0 1121.0,1270.3 1122.0,1270.3 1122.0,1268.9 1123.0,1268.9 1123.0,1267.6 1124.0,1267.6 1124.0,1267.6 1125.0,1267.6 1125.0,1267.9 1126.0,1267.9 1126.0,1267.3 1127.0,1267.3 1127.0,1265.5 1128.0,1265.5 1128.0,1260.1 1129.0,1260.1 1129.0,1259.3 1130.0,1259.3 1130.0,1260.4 1131.0,1260.4 1131.0,1259.7 1132.0,1259.7 1132.0,1259.7 1133.0,1259.7 1133.0,1257.0 1134.0,1257.0 1134.0,1257.6 1135.0,1257.6 1135.0,1254.0 1136.0,1254.0 1136.0,1254.5 1137.0,1254.5 1137.0,1256.3 1138.0,1256.3 1138.0,1255.9 1139.0,1255.9 1139.0,1254.1 1140.0,1254.1 1140.0,1252.4 1141.0,1252.4 1141.0,1251.6 1142.0,1251.6 1142.0,1250.7 1143.0,1250.7 1143.0,1250.2 1144.0,1250.2 1144.0,1249.8 1145.0,1249.8 1145.0,1249.3 1146.0,1249.3 1146.0,1248.4 1147.0,1248.4 1147.0,1247.5 1148.0,1247.5 1148.0,1246.3 1149.0,1246.3 1149.0,1245.0 1150.0,1245.0 1150.0,1243.9 1151.0,1243.9 1151.0,1243.1 1152.0,1243.1 1152.0,1240.3 1153.0,1240.3 1153.0,1239.6 1154.0,1239.6 1154.0,1239.8 1155.0,1239.8 1155.0,1239.0 1156.0,1239.0 1156.0,1238.6 1157.0,1238.6 1157.0,1238.1 1158.0,1238.1 1158.0,1237.5 1159.0,1237.5 1159.0,1237.0 1160.0,1237.0 1160.0,1236.1 1161.0,1236.1 1161.0,1235.1 1162.0,1235.1 1162.0,1234.4 1163.0,1234.4 1163.0,1234.1 1164.0,1234.1 1164.0,1233.9 1165.0,1233.9 1165.0,1232.7 1166.0,1232.7 1166.0,1231.6 1167.0,1231.6 1167.0,1231.2 1168.0,1231.2 1168.0,1231.3 1169.0,1231.3 1169.0,1231.5 1170.0,1231.5 1170.0,1232.1 1171.0,1232.1 1171.0,1232.8 1172.0,1232.8 1172.0,1230.8 1173.0,1230.8 1173.0,1228.1 1174.0,1228.1 1174.0,1226.9 1175.0,1226.9 1175.0,1228.0 1176.0,1228.0 1176.0,1229.1 1177.0,1229.1 1177.0,1226.5 1178.0,1226.5 1178.0,1223.9 1179.0,1223.9 1179.0,1222.2 1180.0,1222.2 1180.0,1221.0 1181.0,1221.0 1181.0,1220.3 1182.0,1220.3 1182.0,1221.1 1183.0,1221.1 1183.0,1222.0 1184.0,1222.0 1184.0,1221.4 1185.0,1221.4 1185.0,1220.5 1186.0,1220.5 1186.0,1219.9 1187.0,1219.9 1187.0,1219.9 1188.0,1219.9 1188.0,1219.9 1189.0,1219.9 1189.0,1219.3 1190.0,1219.3 1190.0,1215.7 1191.0,1215.7 1191.0,1215.3 1192.0,1215.3 1192.0,1216.1 1193.0,1216.1 1193.0,1214.9 1194.0,1214.9 1194.0,1214.4 1195.0,1214.4 1195.0,1213.9 1196.0,1213.9 1196.0,1212.4 1197.0,1212.4 1197.0,1210.7 1198.0,1210.7 1198.0,1209.7 1199.0,1209.7 1199.0,1209.8 1200.0,1209.8 1200.0,1209.9 1201.0,1209.9 1201.0,1208.6 1202.0,1208.6 1202.0,1207.3 1203.0,1207.3 1203.0,1207.1 1204.0,1207.1 1204.0,1207.6 1205.0,1207.6 1205.0,1208.2 1206.0,1208.2 1206.0,1208.7 1207.0,1208.7 1207.0,1209.1 1208.0,1209.1 1208.0,1208.3 1209.0,1208.3 1209.0,1207.1 1210.0,1207.1 1210.0,1205.8 1211.0,1205.8 1211.0,1204.1 1212.0,1204.1 1212.0,1202.4 1213.0,1202.4 1213.0,1202.2 1214.0,1202.2 1214.0,1201.9 1215.0,1201.9 1215.0,1201.6 1216.0,1201.6 1216.0,1201.1 1217.0,1201.1 1217.0,1200.5 1218.0,1200.5 1218.0,1199.7 1219.0,1199.7 1219.0,1198.9 1220.0,1198.9 1220.0,1198.7 1221.0,1198.7 1221.0,1198.6 1222.0,1198.6 1222.0,1198.2 1223.0,1198.2 1223.0,1197.5 1224.0,1197.5 1224.0,1196.8 1225.0,1196.8 1225.0,1196.6 1226.0,1196.6 1226.0,1196.4 1227.0,1196.4 1227.0,1192.6 1228.0,1192.6 1228.0,1192.2 1229.0,1192.2 1229.0,1193.4 1230.0,1193.4 1230.0,1192.4 1231.0,1192.4 1231.0,1191.5 1232.0,1191.5 1232.0,1191.3 1233.0,1191.3 1233.0,1191.3 1234.0,1191.3 1234.0,1187.8 1235.0,1187.8 1235.0,1191.5 1236.0,1191.5 1236.0,1191.6 1237.0,1191.6 1237.0,1190.5 1238.0,1190.5 1238.0,1189.3 1239.0,1189.3 1239.0,1188.6 1240.0,1188.6 1240.0,1188.1 1241.0,1188.1 1241.0,1187.4 1242.0,1187.4 1242.0,1185.6 1243.0,1185.6 1243.0,1183.8 1244.0,1183.8 1244.0,1180.2 1245.0,1180.2 1245.0,1182.3 1246.0,1182.3 1246.0,1183.4 1247.0,1183.4 1247.0,1184.2 1248.0,1184.2 1248.0,1183.0 1249.0,1183.0 1249.0,1182.4 1250.0,1182.4 1250.0,1181.8 1251.0,1181.8 1251.0,1181.4 1252.0,1181.4 1252.0,1181.2 1253.0,1181.2 1253.0,1181.0 1254.0,1181.0 1254.0,1180.4 1255.0,1180.4 1255.0,1179.9 1256.0,1179.9 1256.0,1179.1 1257.0,1179.1 1257.0,1178.1 1258.0,1178.1 1258.0,1177.3 1259.0,1177.3 1259.0,1176.4 1260.0,1176.4 1260.0,1175.5 1261.0,1175.5 1261.0,1174.0 1262.0,1174.0 1262.0,1172.5 1263.0,1172.5 1263.0,1172.1 1264.0,1172.1 1264.0,1172.4 1265.0,1172.4 1265.0,1172.3 1266.0,1172.3 1266.0,1170.4 1267.0,1170.4 1267.0,1168.6 1268.0,1168.6 1268.0,1168.5 1269.0,1168.5 1269.0,1168.9 1270.0,1168.9 1270.0,1167.0 1271.0,1167.0 1271.0,1168.4 1272.0,1168.4 1272.0,1167.9 1273.0,1167.9 1273.0,1164.6 1274.0,1164.6 1274.0,1165.0 1275.0,1165.0 1275.0,1166.2 1276.0,1166.2 1276.0,1164.7 1277.0,1164.7 1277.0,1163.5 1278.0,1163.5 1278.0,1163.9 1279.0,1163.9 1279.0,1164.3 1280.0,1164.3 1280.0,1163.3 1281.0,1163.3 1281.0,1161.9 1282.0,1161.9 1282.0,1156.9 1283.0,1156.9 1283.0,1157.8 1284.0,1157.8 1284.0,1160.6 1285.0,1160.6 1285.0,1159.8 1286.0,1159.8 1286.0,1159.0 1287.0,1159.0 1287.0,1158.3 1288.0,1158.3 1288.0,1157.6 1289.0,1157.6 1289.0,1157.4 1289.5,1157.4 1289.5,1158.7 1290.5,1158.7 1290.5,1395.6 1291.5,1395.6 1291.5,1439.2 1292.5,1439.2 1292.5,1482.7 1293.5,1482.7 1293.5,1509.3 1294.5,1509.3 1294.5,1518.8 1295.5,1518.8 1295.5,1528.3 1296.5,1528.3 1296.5,1537.7 1297.5,1537.7 1297.5,1547.5 1298.5,1547.5 1298.5,1547.6 1299.5,1547.6 1299.5,1547.8 1300.5,1547.8 1300.5,1547.9 1301.5,1547.9 1301.5,1547.9 1302.5,1547.9 1302.5,1547.6 1303.5,1547.6 1303.5,1547.2 1304.5,1547.2 1304.5,1544.9 1305.5,1544.9 1305.5,1545.5 1306.5,1545.5 1306.5,1546.1 1307.5,1546.1 1307.5,1546.5 1308.5,1546.5 1308.5,1547.4 1309.5,1547.4 1309.5,1547.7 1310.5,1547.7 1310.5,1547.6 1311.5,1547.6 1311.5,1547.5 1312.5,1547.5 1312.5,1547.4 1313.5,1547.4 1313.5,1547.0 1314.5,1547.0 1314.5,1544.3 1315.5,1544.3 1315.5,1544.5 1316.5,1544.5 1316.5,1547.1 1317.5,1547.1 1317.5,1547.5 1318.5,1547.5 1318.5,1547.7 1319.5,1547.7 1319.5,1545.3 1320.5,1545.3 1320.5,1546.0 1321.5,1546.0 1321.5,1546.9 1322.5,1546.9 1322.5,1547.9 1323.5,1547.9 1323.5,1547.9 1324.5,1547.9 1324.5,1547.7 1325.5,1547.7 1325.5,1547.9 1326.5,1547.9 1326.5,1545.1 1327.5,1545.1 1327.5,1545.5 1328.5,1545.5 1328.5,1547.8 1329.5,1547.8 1329.5,1547.4 1330.5,1547.4 1330.5,1547.0 1331.5,1547.0 1331.5,1545.5 1332.5,1545.5 1332.5,1547.4 1333.5,1547.4 1333.5,1545.2 1334.5,1545.2 1334.5,1545.7 1335.5,1545.7 1335.5,1546.3 1336.5,1546.3 1336.5,1547.9 1337.5,1547.9 1337.5,1547.6 1338.5,1547.6 1338.5,1547.6 1339.5,1547.6 1339.5,1547.8 1340.5,1547.8 1340.5,1547.4 1341.5,1547.4 1341.5,1547.6 1342.5,1547.6 1342.5,1547.4 1343.5,1547.4 1343.5,1547.4 1344.5,1547.4 1344.5,1546.7 1345.5,1546.7 1345.5,1545.7 1346.5,1545.7 1346.5,1547.2 1347.5,1547.2 1347.5,1547.5 1348.5,1547.5 1348.5,1547.7 1349.5,1547.7 1349.5,1545.5 1350.5,1545.5 1350.5,1546.0 1351.5,1546.0 1351.5,1546.3 1352.5,1546.3 1352.5,1547.9 1353.5,1547.9 1353.5,1546.1 1354.5,1546.1 1354.5,1547.8 1355.5,1547.8 1355.5,1547.8 1356.5,1547.8 1356.5,1547.7 1357.5,1547.7 1357.5,1547.5 1358.5,1547.5 1358.5,1547.6 1359.5,1547.6 1359.5,1547.8 1360.5,1547.8 1360.5,1547.9 1361.5,1547.9 1361.5,1547.6 1362.5,1547.6 1362.5,1545.0 1363.5,1545.0 1363.5,1545.2 1364.5,1545.2 1364.5,1547.4 1365.5,1547.4 1365.5,1547.9 1366.5,1547.9 1366.5,1547.0 1367.5,1547.0 1367.5,1547.7 1368.5,1547.7 1368.5,1545.0 1369.5,1545.0 1369.5,1545.4 1370.5,1545.4 1370.5,1547.5 1371.5,1547.5 1371.5,1547.7 1372.5,1547.7 1372.5,1547.8 1373.5,1547.8 1373.5,1545.4 1374.5,1545.4 1374.5,1545.2 1375.5,1545.2 1375.5,1546.8 1376.5,1546.8 1376.5,1546.9 1377.5,1546.9 1377.5,1547.2 1378.5,1547.2 1378.5,1546.0 1379.5,1546.0 1379.5,1547.9 1380.5,1547.9 1380.5,1548.0 1381.5,1548.0 1381.5,1546.3 1382.5,1546.3 1382.5,1546.4 1383.5,1546.4 1383.5,1547.7 1384.5,1547.7 1384.5,1547.9 1385.5,1547.9 1385.5,1547.6 1386.5,1547.6 1386.5,1547.3 1387.5,1547.3 1387.5,1547.2 1388.5,1547.2 1388.5,1544.9 1389.5,1544.9 1389.5,1545.8 1390.5,1545.8 1390.5,1546.8 1391.5,1546.8 1391.5,1548.0 1392.5,1548.0 1392.5,1546.3 1393.5,1546.3 1393.5,1545.0 1394.5,1545.0 1394.5,1546.9 1395.5,1546.9 1395.5,1545.2 1396.5,1545.2 1396.5,1546.2 1397.5,1546.2 1397.5,1547.0 1398.5,1547.0 1398.5,1545.8 1399.5,1545.8 1399.5,1545.5 1400.5,1545.5 1400.5,1547.6 1401.5,1547.6 1401.5,1547.9 1402.5,1547.9 1402.5,1545.3 1403.5,1545.3 1403.5,1546.3 1404.5,1546.3 1404.5,1546.7 1405.5,1546.7 1405.5,1547.8 1406.5,1547.8 1406.5,1547.8 1407.5,1547.8 1407.5,1547.7 1408.5,1547.7 1408.5,1547.9 1409.5,1547.9 1409.5,1547.6 1410.5,1547.6 1410.5,1547.5 1411.5,1547.5 1411.5,1547.7 1412.5,1547.7 1412.5,1547.2 1413.5,1547.2 1413.5,1547.4 1414.5,1547.4 1414.5,1545.8 1415.5,1545.8 1415.5,1546.4 1416.5,1546.4 1416.5,1547.9 1417.5,1547.9 1417.5,1547.1 1418.5,1547.1 1418.5,1547.8 1419.5,1547.8 1419.5,1547.8 1420.5,1547.8 1420.5,1547.7 1421.5,1547.7 1421.5,1546.8 1422.5,1546.8 1422.5,1546.5 1423.5,1546.5 1423.5,1547.3 1424.5,1547.3 1424.5,1545.6 1425.5,1545.6 1425.5,1545.2 1426.5,1545.2 1426.5,1546.2 1427.5,1546.2 1427.5,1546.9 1428.5,1546.9 1428.5,1547.7 1429.5,1547.7 1429.5,1545.2 1430.5,1545.2 1430.5,1545.7 1431.5,1545.7 1431.5,1545.8 1432.5,1545.8 1432.5,1546.5 1433.5,1546.5 1433.5,1548.0 1434.5,1548.0 1434.5,1546.2 1435.5,1546.2 1435.5,1546.1 1436.5,1546.1 1436.5,1546.8 1437.5,1546.8 1437.5,1547.5 1438.5,1547.5 1438.5,1547.2 1439.5,1547.2 1439.5,1545.8 1440.5,1545.8 1440.5,1547.7 1441.5,1547.7 1441.5,1547.8 1442.5,1547.8 1442.5,1548.0 1443.5,1548.0 1443.5,1548.0 1444.5,1548.0 1444.5,1547.9 1445.5,1547.9 1445.5,1547.9 1446.5,1547.9 1446.5,1547.6 1447.5,1547.6 1447.5,1545.4 1448.5,1545.4 1448.5,1546.7 1449.5,1546.7 1449.5,1546.4 1450.5,1546.4 1450.5,1547.4 1451.5,1547.4 1451.5,1547.8 1452.5,1547.8 1452.5,1547.8 1453.5,1547.8 1453.5,1547.5 1454.5,1547.5 1454.5,1547.7 1455.5,1547.7 1455.5,1547.6 1456.5,1547.6 1456.5,1547.2 1457.5,1547.2 1457.5,1546.3 1458.5,1546.3 1458.5,1544.5 1459.5,1544.5 1459.5,1544.7 1460.5,1544.7 1460.5,1545.8 1461.5,1545.8 1461.5,1547.9 1462.5,1547.9 1462.5,1547.0 1463.5,1547.0 1463.5,1547.5 1464.5,1547.5 1464.5,1547.1 1465.5,1547.1 1465.5,1548.0 1466.5,1548.0 1466.5,1547.4 1467.5,1547.4 1467.5,1547.0 1468.5,1547.0 1468.5,1547.0 1469.5,1547.0 1469.5,1547.4 1470.5,1547.4 1470.5,1547.4 1471.5,1547.4 1471.5,1546.9 1472.5,1546.9 1472.5,1548.0 1473.5,1548.0 1473.5,1545.1 1474.5,1545.1 1474.5,1545.1 1475.5,1545.1 1475.5,1547.6 1476.5,1547.6 1476.5,1547.8 1477.5,1547.8 1477.5,1547.9 1478.5,1547.9 1478.5,1547.9 1479.5,1547.9 1479.5,1547.8 1480.5,1547.8 1480.5,1547.1 1481.5,1547.1 1481.5,1547.7 1482.5,1547.7 1482.5,1547.9 1483.5,1547.9 1483.5,1546.5 1484.5,1546.5 1484.5,1546.8 1485.5,1546.8 1485.5,1545.3 1486.5,1545.3 1486.5,1545.8 1487.5,1545.8 1487.5,1544.9 1488.5,1544.9 1488.5,1547.8 1489.5,1547.8 1489.5,1546.9 1490.5,1546.9 1490.5,1547.4 1491.5,1547.4 1491.5,1547.6 1492.5,1547.6 1492.5,1547.5 1493.5,1547.5 1493.5,1547.9 1494.5,1547.9 1494.5,1547.5 1495.5,1547.5 1495.5,1546.4 1496.5,1546.4 1496.5,1546.6 1497.5,1546.6 1497.5,1547.5 1498.5,1547.5 1498.5,1547.0 1499.5,1547.0 1499.5,1547.0 1500.5,1547.0 1500.5,1547.3 1501.5,1547.3 1501.5,1548.0 1502.5,1548.0 1502.5,1547.9 1503.5,1547.9 1503.5,1547.8 1504.5,1547.8 1504.5,1546.5 1505.5,1546.5 1505.5,1545.4 1506.5,1545.4 1506.5,1546.0 1507.5,1546.0 1507.5,1547.8 1508.5,1547.8 1508.5,1547.6 1509.5,1547.6 1509.5,1547.4 1510.5,1547.4 1510.5,1547.6 1511.5,1547.6 1511.5,1547.7 1512.5,1547.7 1512.5,1547.9 1513.5,1547.9 1513.5,1547.7 1514.5,1547.7 1514.5,1546.2 1515.5,1546.2 1515.5,1547.5 1516.5,1547.5 1516.5,1546.9 1517.5,1546.9 1517.5,1546.8 1518.5,1546.8 1518.5,1546.9 1519.5,1546.9 1519.5,1547.3 1520.5,1547.3 1520.5,1547.4 1521.5,1547.4 1521.5,1548.0 1522.5,1548.0 1522.5,1547.1 1523.5,1547.1 1523.5,1547.8 1524.5,1547.8 1524.5,1545.8 1525.5,1545.8 1525.5,1547.8 1526.5,1547.8 1526.5,1547.8 1527.5,1547.8 1527.5,1363.3 1528.5,1363.3 1528.5,1312.0 1529.5,1312.0 1529.5,1275.2 1530.5,1275.2 1530.5,1238.6 1531.5,1238.6 1531.5,1217.5 1532.5,1217.5 1532.5,1196.5 1533.5,1196.5 1533.5,1188.9 1534.5,1188.9 1534.5,1181.2 1535.5,1181.2 1535.5,1173.5 1536.5,1173.5 1536.5,1169.6 1537.0,1169.6 1537.0,1162.6 1538.0,1162.6 1538.0,1161.2 1539.0,1161.2 1539.0,1160.9 1540.0,1160.9 1540.0,1161.3 1541.0,1161.3 1541.0,1161.3 1542.0,1161.3 1542.0,1159.5 1543.0,1159.5 1543.0,1157.7 1544.0,1157.7 1544.0,1156.9 1545.0,1156.9 1545.0,1156.3 1546.0,1156.3 1546.0,1155.4 1547.0,1155.4 1547.0,1153.9 1548.0,1153.9 1548.0,1152.5 1549.0,1152.5 1549.0,1153.0 1550.0,1153.0 1550.0,1153.5 1551.0,1153.5 1551.0,1152.6 1552.0,1152.6 1552.0,1150.7 1553.0,1150.7 1553.0,1149.0 1554.0,1149.0 1554.0,1147.9 1555.0,1147.9 1555.0,1146.8 1556.0,1146.8 1556.0,1146.5 1557.0,1146.5 1557.0,1146.6 1558.0,1146.6 1558.0,1145.3 1559.0,1145.3 1559.0,1142.2 1560.0,1142.2 1560.0,1139.1 1561.0,1139.1 1561.0,1140.5 1562.0,1140.5 1562.0,1141.9 1563.0,1141.9 1563.0,1142.4 1564.0,1142.4 1564.0,1140.2 1565.0,1140.2 1565.0,1140.5 1566.0,1140.5 1566.0,1139.5 1567.0,1139.5 1567.0,1139.1 1568.0,1139.1 1568.0,1138.7 1569.0,1138.7 1569.0,1138.6 1570.0,1138.6 1570.0,1137.5 1571.0,1137.5 1571.0,1132.9 1572.0,1132.9 1572.0,1131.9 1573.0,1131.9 1573.0,1131.8 1574.0,1131.8 1574.0,1131.7 1575.0,1131.7 1575.0,1131.4 1576.0,1131.4 1576.0,1131.1 1577.0,1131.1 1577.0,1130.7 1578.0,1130.7 1578.0,1129.8 1579.0,1129.8 1579.0,1129.0 1580.0,1129.0 1580.0,1127.6 1581.0,1127.6 1581.0,1126.2 1582.0,1126.2 1582.0,1125.4 1583.0,1125.4 1583.0,1125.7 1584.0,1125.7 1584.0,1125.9 1585.0,1125.9 1585.0,1119.7 1586.0,1119.7 1586.0,1117.8 1587.0,1117.8 1587.0,1117.6 1588.0,1117.6 1588.0,1118.2 1589.0,1118.2 1589.0,1118.7 1590.0,1118.7 1590.0,1119.1 1591.0,1119.1 1591.0,1118.5 1592.0,1118.5 1592.0,1118.2 1593.0,1118.2 1593.0,1117.9 1594.0,1117.9 1594.0,1117.5 1595.0,1117.5 1595.0,1117.0 1596.0,1117.0 1596.0,1116.5 1597.0,1116.5 1597.0,1114.6 1598.0,1114.6 1598.0,1112.8 1599.0,1112.8 1599.0,1112.0 1600.0,1112.0 1600.0,1112.0 1601.0,1112.0 1601.0,1111.7 1602.0,1111.7 1602.0,1110.6 1603.0,1110.6 1603.0,1109.4 1604.0,1109.4 1604.0,1108.4 1605.0,1108.4 1605.0,1107.3 1606.0,1107.3 1606.0,1106.6 1607.0,1106.6 1607.0,1106.2 1608.0,1106.2 1608.0,1105.8 1609.0,1105.8 1609.0,1101.1 1610.0,1101.1 1610.0,1101.1 1611.0,1101.1 1611.0,1102.2 1612.0,1102.2 1612.0,1100.0 1613.0,1100.0 1613.0,1098.5 1614.0,1098.5 1614.0,1099.6 1615.0,1099.6 1615.0,1100.6 1616.0,1100.6 1616.0,1100.2 1617.0,1100.2 1617.0,1099.4 1618.0,1099.4 1618.0,1097.1 1619.0,1097.1 1619.0,1097.7 1620.0,1097.7 1620.0,1099.3 1621.0,1099.3 1621.0,1098.2 1622.0,1098.2 1622.0,1097.1 1623.0,1097.1 1623.0,1096.1 1624.0,1096.1 1624.0,1091.9 1625.0,1091.9 1625.0,1091.7 1626.0,1091.7 1626.0,1092.4 1627.0,1092.4 1627.0,1090.5 1628.0,1090.5 1628.0,1090.5 1629.0,1090.5 1629.0,1086.5 1630.0,1086.5 1630.0,1087.0 1631.0,1087.0 1631.0,1083.7 1632.0,1083.7 1632.0,1082.5 1633.0,1082.5 1633.0,1086.6 1634.0,1086.6 1634.0,1087.3 1635.0,1087.3 1635.0,1086.7 1636.0,1086.7 1636.0,1085.2 1637.0,1085.2 1637.0,1084.0 1638.0,1084.0 1638.0,1083.8 1639.0,1083.8 1639.0,1083.7 1640.0,1083.7 1640.0,1083.1 1641.0,1083.1 1641.0,1082.5 1642.0,1082.5 1642.0,1082.0 1643.0,1082.0 1643.0,1081.6 1644.0,1081.6 1644.0,1081.2 1645.0,1081.2 1645.0,1077.0 1646.0,1077.0 1646.0,1077.2 1647.0,1077.2 1647.0,1076.8 1648.0,1076.8 1648.0,1076.7 1649.0,1076.7 1649.0,1075.3 1650.0,1075.3 1650.0,1075.2 1651.0,1075.2 1651.0,1075.1 1652.0,1075.1 1652.0,1075.2 1653.0,1075.2 1653.0,1075.3 1654.0,1075.3 1654.0,1074.6 1655.0,1074.6 1655.0,1072.5 1656.0,1072.5 1656.0,1070.4 1657.0,1070.4 1657.0,1071.2 1658.0,1071.2 1658.0,1071.9 1659.0,1071.9 1659.0,1071.9 1660.0,1071.9 1660.0,1071.3 1661.0,1071.3 1661.0,1070.7 1662.0,1070.7 1662.0,1070.0 1663.0,1070.0 1663.0,1069.3 1664.0,1069.3 1664.0,1068.2 1665.0,1068.2 1665.0,1067.0 1666.0,1067.0 1666.0,1066.4 1667.0,1066.4 1667.0,1066.5 1668.0,1066.5 1668.0,1062.8 1669.0,1062.8 1669.0,1063.0 1670.0,1063.0 1670.0,1065.1 1671.0,1065.1 1671.0,1063.6 1672.0,1063.6 1672.0,1061.6 1673.0,1061.6 1673.0,1060.1 1674.0,1060.1 1674.0,1060.5 1675.0,1060.5 1675.0,1060.8 1676.0,1060.8 1676.0,1060.3 1677.0,1060.3 1677.0,1059.5 1678.0,1059.5 1678.0,1055.8 1679.0,1055.8 1679.0,1056.8 1680.0,1056.8 1680.0,1059.4 1681.0,1059.4 1681.0,1058.4 1682.0,1058.4 1682.0,1057.4 1683.0,1057.4 1683.0,1056.4 1684.0,1056.4 1684.0,1055.3 1685.0,1055.3 1685.0,1054.3 1686.0,1054.3 1686.0,1053.9 1687.0,1053.9 1687.0,1053.6 1688.0,1053.6 1688.0,1054.3 1689.0,1054.3 1689.0,1055.3 1690.0,1055.3 1690.0,1052.4 1691.0,1052.4 1691.0,1052.8 1692.0,1052.8 1692.0,1053.2 1693.0,1053.2 1693.0,1051.6 1694.0,1051.6 1694.0,1052.1 1695.0,1052.1 1695.0,1051.8 1696.0,1051.8 1696.0,1052.2 1697.0,1052.2 1697.0,1052.4 1698.0,1052.4 1698.0,1048.2 1699.0,1048.2 1699.0,1048.7 1700.0,1048.7 1700.0,1050.3 1701.0,1050.3 1701.0,1048.8 1702.0,1048.8 1702.0,1047.7 1703.0,1047.7 1703.0,1047.2 1704.0,1047.2 1704.0,1046.6 1705.0,1046.6 1705.0,1047.8 1706.0,1047.8 1706.0,1048.9 1707.0,1048.9 1707.0,1048.2 1708.0,1048.2 1708.0,1046.3 1709.0,1046.3 1709.0,1044.9 1710.0,1044.9 1710.0,1045.4 1711.0,1045.4 1711.0,1046.0 1712.0,1046.0 1712.0,1045.5 1713.0,1045.5 1713.0,1044.6 1714.0,1044.6 1714.0,1044.3 1715.0,1044.3 1715.0,1044.6 1716.0,1044.6 1716.0,1045.0 1717.0,1045.0 1717.0,1043.5 1718.0,1043.5 1718.0,1041.9 1719.0,1041.9 1719.0,1040.9 1720.0,1040.9 1720.0,1040.3 1721.0,1040.3 1721.0,1039.8 1722.0,1039.8 1722.0,1039.6 1723.0,1039.6 1723.0,1039.4 1724.0,1039.4 1724.0,1038.9 1725.0,1038.9 1725.0,1034.3 1726.0,1034.3 1726.0,1035.0 1727.0,1035.0 1727.0,1035.7 1728.0,1035.7 1728.0,1037.5 1729.0,1037.5 1729.0,1038.3 1730.0,1038.3 1730.0,1039.1 1731.0,1039.1 1731.0,1038.8 1732.0,1038.8 1732.0,1037.9 1733.0,1037.9 1733.0,1037.0 1734.0,1037.0 1734.0,1036.7 1735.0,1036.7 1735.0,1036.3 1736.0,1036.3 1736.0,1035.6 1737.0,1035.6 1737.0,1034.9 1738.0,1034.9 1738.0,1034.6 1739.0,1034.6 1739.0,1035.0 1740.0,1035.0 1740.0,1035.3 1741.0,1035.3 1741.0,1034.0 1742.0,1034.0 1742.0,1032.7 1743.0,1032.7 1743.0,1032.2 1744.0,1032.2 1744.0,1032.3 1745.0,1032.3 1745.0,1032.2 1746.0,1032.2 1746.0,1031.5 1747.0,1031.5 1747.0,1030.8 1748.0,1030.8 1748.0,1030.3 1749.0,1030.3 1749.0,1030.0 1750.0,1030.0 1750.0,1029.2 1751.0,1029.2 1751.0,1028.0 1752.0,1028.0 1752.0,1026.7 1753.0,1026.7 1753.0,1026.8 1754.0,1026.8 1754.0,1026.9 1755.0,1026.9 1755.0,1026.3 1756.0,1026.3 1756.0,1025.2 1757.0,1025.2 1757.0,1024.3 1758.0,1024.3 1758.0,1024.1 1759.0,1024.1 1759.0,1023.8 1760.0,1023.8 1760.0,1024.4 1761.0,1024.4 1761.0,1025.3 1762.0,1025.3 1762.0,1024.8 1763.0,1024.8 1763.0,1022.5 1764.0,1022.5 1764.0,1020.2 1765.0,1020.2 1765.0,1020.3 1766.0,1020.3 1766.0,1020.4 1767.0,1020.4 1767.0,1020.4 1768.0,1020.4 1768.0,1020.4 1769.0,1020.4 1769.0,1022.4 1770.0,1022.4 1770.0,1383.9 1771.0,1383.9 1771.0,1500.2 1772.0,1500.2 1772.0,1511.3 1773.0,1511.3 1773.0,1522.5 1774.0,1522.5 1774.0,1533.7 1775.0,1533.7 1775.0,1544.8 1776.0,1544.8 1776.0,1549.3 1777.0,1549.3 1777.0,1549.2 1778.0,1549.2 1778.0,1549.2 1779.0,1549.2 1779.0,1548.8 1780.0,1548.8 1780.0,1549.1 1781.0,1549.1 1781.0,1549.1 1782.0,1549.1 1782.0,1548.6 1783.0,1548.6 1783.0,1549.0 1784.0,1549.0 1784.0,1549.3 1785.0,1549.3 1785.0,1549.2 1786.0,1549.2 1786.0,1549.2 1787.0,1549.2 1787.0,1549.1 1788.0,1549.1 1788.0,1549.3 1789.0,1549.3 1789.0,1549.1 1790.0,1549.1 1790.0,1549.2 1791.0,1549.2 1791.0,1548.9 1792.0,1548.9 1792.0,1549.1 1793.0,1549.1 1793.0,1548.9 1794.0,1548.9 1794.0,1548.9 1795.0,1548.9 1795.0,1549.2 1796.0,1549.2 1796.0,1549.3 1797.0,1549.3 1797.0,1549.2 1798.0,1549.2 1798.0,1549.0 1799.0,1549.0 1799.0,1549.2 1800.0,1549.2 1800.0,1549.0 1801.0,1549.0 1801.0,1548.9 1802.0,1548.9 1802.0,1548.8 1803.0,1548.8 1803.0,1548.7 1804.0,1548.7 1804.0,1549.1 1805.0,1549.1 1805.0,1548.9 1806.0,1548.9 1806.0,1549.3 1807.0,1549.3 1807.0,1548.8 1808.0,1548.8 1808.0,1548.7 1809.0,1548.7 1809.0,1548.9 1810.0,1548.9 1810.0,1548.9 1811.0,1548.9 1811.0,1547.9 1812.0,1547.9 1812.0,1548.1 1813.0,1548.1 1813.0,1549.1 1814.0,1549.1 1814.0,1547.5 1815.0,1547.5 1815.0,1548.9 1816.0,1548.9 1816.0,1549.1 1817.0,1549.1 1817.0,1549.0 1818.0,1549.0 1818.0,1548.8 1819.0,1548.8 1819.0,1549.2 1820.0,1549.2 1820.0,1549.1 1821.0,1549.1 1821.0,1549.0 1822.0,1549.0 1822.0,1549.1 1823.0,1549.1 1823.0,1549.2 1824.0,1549.2 1824.0,1548.7 1825.0,1548.7 1825.0,1549.3 1826.0,1549.3 1826.0,1549.3 1827.0,1549.3 1827.0,1549.0 1828.0,1549.0 1828.0,1549.1 1829.0,1549.1 1829.0,1548.8 1830.0,1548.8 1830.0,1548.7 1831.0,1548.7 1831.0,1549.2 1832.0,1549.2 1832.0,1548.8 1833.0,1548.8 1833.0,1548.1 1834.0,1548.1 1834.0,1549.3 1835.0,1549.3 1835.0,1548.8 1836.0,1548.8 1836.0,1549.2 1837.0,1549.2 1837.0,1549.0 1838.0,1549.0 1838.0,1548.9 1839.0,1548.9 1839.0,1549.2 1840.0,1549.2 1840.0,1548.1 1841.0,1548.1 1841.0,1549.3 1842.0,1549.3 1842.0,1548.3 1843.0,1548.3 1843.0,1548.5 1844.0,1548.5 1844.0,1549.1 1845.0,1549.1 1845.0,1549.2 1846.0,1549.2 1846.0,1548.8 1847.0,1548.8 1847.0,1548.8 1848.0,1548.8 1848.0,1549.2 1849.0,1549.2 1849.0,1549.3 1850.0,1549.3 1850.0,1549.3 1851.0,1549.3 1851.0,1549.1 1852.0,1549.1 1852.0,1549.2 1853.0,1549.2 1853.0,1549.0 1854.0,1549.0 1854.0,1548.8 1855.0,1548.8 1855.0,1548.9 1856.0,1548.9 1856.0,1549.2 1857.0,1549.2 1857.0,1549.0 1858.0,1549.0 1858.0,1549.2 1859.0,1549.2 1859.0,1549.3 1860.0,1549.3 1860.0,1549.2 1861.0,1549.2 1861.0,1549.0 1862.0,1549.0 1862.0,1549.1 1863.0,1549.1 1863.0,1549.2 1864.0,1549.2 1864.0,1549.3 1865.0,1549.3 1865.0,1549.3 1866.0,1549.3 1866.0,1549.2 1867.0,1549.2 1867.0,1548.9 1868.0,1548.9 1868.0,1548.9 1869.0,1548.9 1869.0,1547.6 1870.0,1547.6 1870.0,1549.1 1871.0,1549.1 1871.0,1549.1 1872.0,1549.1 1872.0,1547.9 1873.0,1547.9 1873.0,1548.4 1874.0,1548.4 1874.0,1548.6 1875.0,1548.6 1875.0,1548.9 1876.0,1548.9 1876.0,1549.3 1877.0,1549.3 1877.0,1549.2 1878.0,1549.2 1878.0,1549.2 1879.0,1549.2 1879.0,1549.0 1880.0,1549.0 1880.0,1549.0 1881.0,1549.0 1881.0,1549.2 1882.0,1549.2 1882.0,1549.1 1883.0,1549.1 1883.0,1549.1 1884.0,1549.1 1884.0,1549.2 1885.0,1549.2 1885.0,1549.3 1886.0,1549.3 1886.0,1549.2 1887.0,1549.2 1887.0,1549.1 1888.0,1549.1 1888.0,1547.3 1889.0,1547.3 1889.0,1547.8 1890.0,1547.8 1890.0,1549.1 1891.0,1549.1 1891.0,1549.3 1892.0,1549.3 1892.0,1549.2 1893.0,1549.2 1893.0,1548.9 1894.0,1548.9 1894.0,1549.0 1895.0,1549.0 1895.0,1549.2 1896.0,1549.2 1896.0,1549.1 1897.0,1549.1 1897.0,1548.1 1898.0,1548.1 1898.0,1548.0 1899.0,1548.0 1899.0,1548.4 1900.0,1548.4 1900.0,1548.4 1901.0,1548.4 1901.0,1548.8 1902.0,1548.8 1902.0,1548.9 1903.0,1548.9 1903.0,1549.2 1904.0,1549.2 1904.0,1549.1 1905.0,1549.1 1905.0,1549.1 1906.0,1549.1 1906.0,1549.2 1907.0,1549.2 1907.0,1549.0 1908.0,1549.0 1908.0,1549.0 1909.0,1549.0 1909.0,1549.2 1910.0,1549.2 1910.0,1549.2 1911.0,1549.2 1911.0,1547.4 1912.0,1547.4 1912.0,1548.0 1913.0,1548.0 1913.0,1549.0 1914.0,1549.0 1914.0,1549.2 1915.0,1549.2 1915.0,1549.2 1916.0,1549.2 1916.0,1549.2 1917.0,1549.2 1917.0,1549.2 1918.0,1549.2 1918.0,1549.2 1919.0,1549.2 1919.0,1549.3 1920.0,1549.3 1920.0,1549.2 1921.0,1549.2 1921.0,1549.1 1922.0,1549.1 1922.0,1549.0 1923.0,1549.0 1923.0,1549.1 1924.0,1549.1 1924.0,1547.3 1925.0,1547.3 1925.0,1549.0 1926.0,1549.0 1926.0,1549.2 1927.0,1549.2 1927.0,1549.2 1928.0,1549.2 1928.0,1549.3 1929.0,1549.3 1929.0,1549.2 1930.0,1549.2 1930.0,1549.1 1931.0,1549.1 1931.0,1549.2 1932.0,1549.2 1932.0,1549.0 1933.0,1549.0 1933.0,1548.7 1934.0,1548.7 1934.0,1548.8 1935.0,1548.8 1935.0,1549.2 1936.0,1549.2 1936.0,1549.3 1937.0,1549.3 1937.0,1549.2 1938.0,1549.2 1938.0,1548.9 1939.0,1548.9 1939.0,1548.8 1940.0,1548.8 1940.0,1548.9 1941.0,1548.9 1941.0,1549.1 1942.0,1549.1 1942.0,1548.7 1943.0,1548.7 1943.0,1548.8 1944.0,1548.8 1944.0,1549.2 1945.0,1549.2 1945.0,1549.2 1946.0,1549.2 1946.0,1549.2 1947.0,1549.2 1947.0,1549.3 1948.0,1549.3 1948.0,1549.3 1949.0,1549.3 1949.0,1549.2 1950.0,1549.2 1950.0,1549.2 1951.0,1549.2 1951.0,1549.1 1952.0,1549.1 1952.0,1549.0 1953.0,1549.0 1953.0,1549.1 1954.0,1549.1 1954.0,1549.2 1955.0,1549.2 1955.0,1549.2 1956.0,1549.2 1956.0,1549.3 1957.0,1549.3 1957.0,1549.2 1958.0,1549.2 1958.0,1549.3 1959.0,1549.3 1959.0,1549.0 1960.0,1549.0 1960.0,1549.2 1961.0,1549.2 1961.0,1547.3 1962.0,1547.3 1962.0,1547.6 1963.0,1547.6 1963.0,1549.2 1964.0,1549.2 1964.0,1549.2 1965.0,1549.2 1965.0,1547.8 1966.0,1547.8 1966.0,1547.8 1967.0,1547.8 1967.0,1549.1 1968.0,1549.1 1968.0,1548.6 1969.0,1548.6 1969.0,1549.0 1970.0,1549.0 1970.0,1549.2 1971.0,1549.2 1971.0,1549.1 1972.0,1549.1 1972.0,1549.0 1973.0,1549.0 1973.0,1548.9 1974.0,1548.9 1974.0,1548.0 1975.0,1548.0 1975.0,1548.0 1976.0,1548.0 1976.0,1548.8 1977.0,1548.8 1977.0,1547.7 1978.0,1547.7 1978.0,1548.3 1979.0,1548.3 1979.0,1548.4 1980.0,1548.4 1980.0,1549.1 1981.0,1549.1 1981.0,1549.2 1982.0,1549.2 1982.0,1549.1 1983.0,1549.1 1983.0,1547.9 1984.0,1547.9 1984.0,1549.0 1985.0,1549.0 1985.0,1549.0 1986.0,1549.0 1986.0,1549.1 1987.0,1549.1 1987.0,1549.1 1988.0,1549.1 1988.0,1549.3 1989.0,1549.3 1989.0,1548.9 1990.0,1548.9 1990.0,1548.8 1991.0,1548.8 1991.0,1549.0 1992.0,1549.0 1992.0,1549.1 1993.0,1549.1 1993.0,1548.9 1994.0,1548.9 1994.0,1549.0 1995.0,1549.0 1995.0,1549.2 1996.0,1549.2 1996.0,1549.2 1997.0,1549.2 1997.0,1547.9 1998.0,1547.9 1998.0,1548.1 1999.0,1548.1 1999.0,1549.2 2000.0,1549.2 2000.0,1549.3 2001.0,1549.3 2001.0,1548.9 2002.0,1548.9 2002.0,1548.9 2003.0,1548.9 2003.0,1549.1 2004.0,1549.1 2004.0,1549.2 2005.0,1549.2 2005.0,1549.3 2006.0,1549.3 2006.0,1549.2 2007.0,1549.2 2007.0,1549.1 2008.0,1549.1 2008.0,1549.2 2009.0,1549.2 2009.0,1549.2 2010.0,1549.2 2010.0,1549.0 2011.0,1549.0 2011.0,1548.7 2012.0,1548.7 2012.0,1548.7 2013.0,1548.7 2013.0,1549.2 2014.0,1549.2 2014.0,1548.4 2014.5,1548.4 2014.5,1297.2 2015.5,1297.2 2015.5,1095.7 2016.5,1095.7 2016.5,1084.4 2017.5,1084.4 2017.5,1073.1 2018.5,1073.1 2018.5,1069.0 2019.5,1069.0 2019.5,1064.9 2020.5,1064.9 2020.5,1061.9 2021.5,1061.9 2021.5,1060.0 2022.5,1060.0 2022.5,1058.1 2023.5,1058.1 2023.5,1056.1 2024.5,1056.1 2024.5,1054.2 2025.5,1054.2 2025.5,1052.2 2026.5,1052.2 2026.5,1050.4 2027.5,1050.4 2027.5,1049.1 2028.4,1049.1 2028.4,1043.5 2029.4,1043.5 2029.4,1042.0 2030.4,1042.0 2030.4,1040.4 2031.4,1040.4 2031.4,1034.7 2032.4,1034.7 2032.4,1037.7 2033.4,1037.7 2033.4,1036.2 2034.4,1036.2 2034.4,1034.7 2035.4,1034.7 2035.4,1033.3 2036.4,1033.3 2036.4,1032.4 2037.4,1032.4 2037.4,1031.6 2038.4,1031.6 2038.4,1031.1 2039.4,1031.1 2039.4,1030.7 2040.4,1030.7 2040.4,1030.3 2041.4,1030.3 2041.4,1029.8 2042.4,1029.8 2042.4,1025.1 2043.4,1025.1 2043.4,1025.2 2044.4,1025.2 2044.4,1025.1 2045.4,1025.1 2045.4,1024.4 2046.4,1024.4 2046.4,1024.7 2047.4,1024.7 2047.4,1023.1 2048.4,1023.1 2048.4,1021.5 2049.4,1021.5 2049.4,1019.9 2050.4,1019.9 2050.4,1019.7 2051.4,1019.7 2051.4,1019.8 2052.4,1019.8 2052.4,1019.5 2053.4,1019.5 2053.4,1018.6 2054.4,1018.6 2054.4,1017.8 2055.4,1017.8 2055.4,1013.5 2056.4,1013.5 2056.4,1013.1 2057.4,1013.1 2057.4,1015.0 2058.4,1015.0 2058.4,1015.1 2059.4,1015.1 2059.4,1015.1 2060.4,1015.1 2060.4,1014.4 2061.4,1014.4 2061.4,1013.8 2062.4,1013.8 2062.4,1013.1 2063.4,1013.1 2063.4,1012.4 2064.4,1012.4 2064.4,1011.8 2065.4,1011.8 2065.4,1011.1 2066.4,1011.1 2066.4,1008.5 2067.4,1008.5 2067.4,1008.1 2068.4,1008.1 2068.4,1007.6 2069.4,1007.6 2069.4,1008.2 2070.4,1008.2 2070.4,1004.2 2071.4,1004.2 2071.4,1005.3 2072.4,1005.3 2072.4,1008.1 2073.4,1008.1 2073.4,1007.9 2074.4,1007.9 2074.4,1008.2 2075.4,1008.2 2075.4,1008.6 2076.4,1008.6 2076.4,1008.3 2077.4,1008.3 2077.4,1003.6 2078.4,1003.6 2078.4,1002.9 2079.4,1002.9 2079.4,1005.2 2080.4,1005.2 2080.4,1005.1 2081.4,1005.1 2081.4,1001.7 2082.4,1001.7 2082.4,1001.5 2083.4,1001.5 2083.4,1003.0 2084.4,1003.0 2084.4,1003.4 2085.4,1003.4 2085.4,1003.9 2086.4,1003.9 2086.4,1002.7 2087.4,1002.7 2087.4,997.9 2088.4,997.9 2088.4,997.5 2089.4,997.5 2089.4,999.4 2090.4,999.4 2090.4,998.8 2091.4,998.8 2091.4,997.3 2092.4,997.3 2092.4,995.8 2093.4,995.8 2093.4,993.0 2094.4,993.0 2094.4,994.0 2095.4,994.0 2095.4,996.0 2096.4,996.0 2096.4,995.5 2097.4,995.5 2097.4,994.9 2098.4,994.9 2098.4,994.7 2099.4,994.7 2099.4,994.5 2100.4,994.5 2100.4,994.4 2101.4,994.4 2101.4,991.2 2102.4,991.2 2102.4,991.9 2103.4,991.9 2103.4,992.3 2104.4,992.3 2104.4,990.3 2105.4,990.3 2105.4,989.2 2106.4,989.2 2106.4,988.9 2107.4,988.9 2107.4,988.7 2108.4,988.7 2108.4,988.8 2109.4,988.8 2109.4,989.0 2110.4,989.0 2110.4,988.7 2111.4,988.7 2111.4,988.2 2112.4,988.2 2112.4,988.0 2113.4,988.0 2113.4,988.0 2114.4,988.0 2114.4,988.0 2115.4,988.0 2115.4,982.7 2116.4,982.7 2116.4,986.2 2117.4,986.2 2117.4,986.0 2118.4,986.0 2118.4,986.4 2119.4,986.4 2119.4,986.5 2120.4,986.5 2120.4,984.9 2121.4,984.9 2121.4,983.3 2122.4,983.3 2122.4,982.7 2123.4,982.7 2123.4,982.3 2124.4,982.3 2124.4,981.8 2125.4,981.8 2125.4,981.2 2126.4,981.2 2126.4,980.6 2127.4,980.6 2127.4,980.9 2128.4,980.9 2128.4,977.8 2129.4,977.8 2129.4,977.4 2130.4,977.4 2130.4,977.8 2131.4,977.8 2131.4,972.7 2132.4,972.7 2132.4,974.3 2133.4,974.3 2133.4,977.7 2134.4,977.7 2134.4,977.3 2135.4,977.3 2135.4,976.5 2136.4,976.5 2136.4,975.9 2137.4,975.9 2137.4,975.6 2138.4,975.6 2138.4,975.2 2139.4,975.2 2139.4,974.6 2140.4,974.6 2140.4,973.9 2141.4,973.9 2141.4,973.3 2142.4,973.3 2142.4,972.7 2143.4,972.7 2143.4,972.2 2144.4,972.2 2144.4,971.6 2145.4,971.6 2145.4,970.9 2146.4,970.9 2146.4,970.3 2147.4,970.3 2147.4,969.6 2148.4,969.6 2148.4,968.8 2149.4,968.8 2149.4,967.6 2150.4,967.6 2150.4,966.4 2151.4,966.4 2151.4,966.6 2152.4,966.6 2152.4,966.9 2153.4,966.9 2153.4,966.7 2154.4,966.7 2154.4,966.3 2155.4,966.3 2155.4,965.7 2156.4,965.7 2156.4,964.4 2157.4,964.4 2157.4,963.2 2158.4,963.2 2158.4,963.0 2159.4,963.0 2159.4,963.1 2160.4,963.1 2160.4,962.7 2161.4,962.7 2161.4,961.7 2162.4,961.7 2162.4,960.8 2163.4,960.8 2163.4,961.0 2164.4,961.0 2164.4,961.2 2165.4,961.2 2165.4,960.4 2166.4,960.4 2166.4,958.8 2167.4,958.8 2167.4,957.5 2168.4,957.5 2168.4,957.2 2169.4,957.2 2169.4,956.9 2170.4,956.9 2170.4,956.7 2171.4,956.7 2171.4,956.5 2172.4,956.5 2172.4,956.0 2173.4,956.0 2173.4,951.3 2174.4,951.3 2174.4,951.1 2175.4,951.1 2175.4,952.4 2176.4,952.4 2176.4,954.7 2177.4,954.7 2177.4,954.5 2178.4,954.5 2178.4,954.1 2179.4,954.1 2179.4,953.6 2180.4,953.6 2180.4,953.2 2181.4,953.2 2181.4,952.9 2182.4,952.9 2182.4,952.4 2183.4,952.4 2183.4,951.9 2184.4,951.9 2184.4,951.0 2185.4,951.0 2185.4,949.5 2186.4,949.5 2186.4,947.9 2187.4,947.9 2187.4,947.6 2188.4,947.6 2188.4,947.4 2189.4,947.4 2189.4,947.2 2190.4,947.2 2190.4,947.0 2191.4,947.0 2191.4,946.8 2192.4,946.8 2192.4,946.2 2193.4,946.2 2193.4,945.5 2194.4,945.5 2194.4,945.6 2195.4,945.6 2195.4,945.7 2196.4,945.7 2196.4,945.5 2197.4,945.5 2197.4,944.7 2198.4,944.7 2198.4,943.9 2199.4,943.9 2199.4,943.0 2200.4,943.0 2200.4,938.4 2201.4,938.4 2201.4,938.8 2202.4,938.8 2202.4,939.4 2203.4,939.4 2203.4,941.1 2204.4,941.1 2204.4,941.1 2205.4,941.1 2205.4,941.1 2206.4,941.1 2206.4,940.7 2207.4,940.7 2207.4,940.1 2208.4,940.1 2208.4,939.4 2209.4,939.4 2209.4,938.2 2210.4,938.2 2210.4,937.1 2211.4,937.1 2211.4,937.5 2212.4,937.5 2212.4,937.9 2213.4,937.9 2213.4,938.1 2214.4,938.1 2214.4,938.2 2215.4,938.2 2215.4,937.9 2216.4,937.9 2216.4,936.3 2217.4,936.3 2217.4,934.8 2218.4,934.8 2218.4,934.0 2219.4,934.0 2219.4,933.4 2220.4,933.4 2220.4,933.0 2221.4,933.0 2221.4,933.0 2222.4,933.0 2222.4,933.0 2223.4,933.0 2223.4,932.4 2224.4,932.4 2224.4,928.4 2225.4,928.4 2225.4,932.1 2226.4,932.1 2226.4,933.3 2227.4,933.3 2227.4,930.8 2228.4,930.8 2228.4,929.0 2229.4,929.0 2229.4,925.6 2230.4,925.6 2230.4,927.2 2231.4,927.2 2231.4,929.6 2232.4,929.6 2232.4,931.8 2233.4,931.8 2233.4,931.0 2234.4,931.0 2234.4,930.1 2235.4,930.1 2235.4,929.3 2236.4,929.3 2236.4,928.6 2237.4,928.6 2237.4,927.8 2238.4,927.8 2238.4,927.0 2239.4,927.0 2239.4,926.2 2240.4,926.2 2240.4,921.1 2241.4,921.1 2241.4,921.2 2242.4,921.2 2242.4,921.2 2243.4,921.2 2243.4,918.7 2244.4,918.7 2244.4,919.5 2245.4,919.5 2245.4,920.9 2246.4,920.9 2246.4,923.5 2247.0,923.5 2247.0,936.9 2246.4,936.9 2246.4,937.0 2245.4,937.0 2245.4,938.5 2244.4,938.5 2244.4,939.5 2243.4,939.5 2243.4,940.8 2242.4,940.8 2242.4,941.2 2241.4,941.2 2241.4,941.9 2240.4,941.9 2240.4,943.2 2239.4,943.2 2239.4,940.1 2238.4,940.1 2238.4,940.7 2237.4,940.7 2237.4,941.1 2236.4,941.1 2236.4,941.5 2235.4,941.5 2235.4,941.8 2234.4,941.8 2234.4,942.5 2233.4,942.5 2233.4,943.2 2232.4,943.2 2232.4,943.5 2231.4,943.5 2231.4,943.6 2230.4,943.6 2230.4,943.8 2229.4,943.8 2229.4,944.2 2228.4,944.2 2228.4,944.5 2227.4,944.5 2227.4,946.4 2226.4,946.4 2226.4,950.8 2225.4,950.8 2225.4,952.5 2224.4,952.5 2224.4,948.5 2223.4,948.5 2223.4,947.4 2222.4,947.4 2222.4,948.6 2221.4,948.6 2221.4,949.8 2220.4,949.8 2220.4,950.5 2219.4,950.5 2219.4,950.9 2218.4,950.9 2218.4,954.5 2217.4,954.5 2217.4,955.8 2216.4,955.8 2216.4,951.5 2215.4,951.5 2215.4,951.2 2214.4,951.2 2214.4,950.8 2213.4,950.8 2213.4,951.3 2212.4,951.3 2212.4,953.1 2211.4,953.1 2211.4,954.9 2210.4,954.9 2210.4,953.3 2209.4,953.3 2209.4,951.7 2208.4,951.7 2208.4,951.5 2207.4,951.5 2207.4,952.2 2206.4,952.2 2206.4,953.0 2205.4,953.0 2205.4,954.0 2204.4,954.0 2204.4,955.0 2203.4,955.0 2203.4,955.8 2202.4,955.8 2202.4,956.4 2201.4,956.4 2201.4,956.9 2200.4,956.9 2200.4,957.1 2199.4,957.1 2199.4,957.4 2198.4,957.4 2198.4,958.7 2197.4,958.7 2197.4,960.0 2196.4,960.0 2196.4,960.4 2195.4,960.4 2195.4,960.3 2194.4,960.3 2194.4,960.3 2193.4,960.3 2193.4,960.9 2192.4,960.9 2192.4,961.6 2191.4,961.6 2191.4,961.3 2190.4,961.3 2190.4,960.8 2189.4,960.8 2189.4,961.3 2188.4,961.3 2188.4,963.5 2187.4,963.5 2187.4,966.8 2186.4,966.8 2186.4,966.1 2185.4,966.1 2185.4,965.4 2184.4,965.4 2184.4,963.3 2183.4,963.3 2183.4,964.5 2182.4,964.5 2182.4,965.6 2181.4,965.6 2181.4,966.0 2180.4,966.0 2180.4,966.5 2179.4,966.5 2179.4,966.9 2178.4,966.9 2178.4,967.3 2177.4,967.3 2177.4,967.9 2176.4,967.9 2176.4,969.1 2175.4,969.1 2175.4,970.2 2174.4,970.2 2174.4,970.2 2173.4,970.2 2173.4,970.2 2172.4,970.2 2172.4,970.3 2171.4,970.3 2171.4,970.5 2170.4,970.5 2170.4,970.7 2169.4,970.7 2169.4,971.2 2168.4,971.2 2168.4,971.7 2167.4,971.7 2167.4,972.8 2166.4,972.8 2166.4,974.0 2165.4,974.0 2165.4,975.0 2164.4,975.0 2164.4,975.9 2163.4,975.9 2163.4,976.8 2162.4,976.8 2162.4,976.6 2161.4,976.6 2161.4,976.5 2160.4,976.5 2160.4,977.0 2159.4,977.0 2159.4,978.1 2158.4,978.1 2158.4,979.1 2157.4,979.1 2157.4,979.9 2156.4,979.9 2156.4,980.8 2155.4,980.8 2155.4,980.6 2154.4,980.6 2154.4,980.2 2153.4,980.2 2153.4,980.0 2152.4,980.0 2152.4,980.2 2151.4,980.2 2151.4,980.3 2150.4,980.3 2150.4,981.8 2149.4,981.8 2149.4,983.3 2148.4,983.3 2148.4,983.6 2147.4,983.6 2147.4,983.2 2146.4,983.2 2146.4,983.0 2145.4,983.0 2145.4,986.6 2144.4,986.6 2144.4,988.3 2143.4,988.3 2143.4,986.1 2142.4,986.1 2142.4,987.8 2141.4,987.8 2141.4,988.8 2140.4,988.8 2140.4,988.7 2139.4,988.7 2139.4,988.6 2138.4,988.6 2138.4,990.7 2137.4,990.7 2137.4,992.0 2136.4,992.0 2136.4,994.3 2135.4,994.3 2135.4,993.2 2134.4,993.2 2134.4,994.7 2133.4,994.7 2133.4,993.2 2132.4,993.2 2132.4,991.7 2131.4,991.7 2131.4,992.0 2130.4,992.0 2130.4,992.9 2129.4,992.9 2129.4,993.9 2128.4,993.9 2128.4,995.2 2127.4,995.2 2127.4,996.5 2126.4,996.5 2126.4,996.5 2125.4,996.5 2125.4,996.6 2124.4,996.6 2124.4,997.4 2123.4,997.4 2123.4,998.8 2122.4,998.8 2122.4,999.6 2121.4,999.6 2121.4,1002.2 2120.4,1002.2 2120.4,998.5 2119.4,998.5 2119.4,999.4 2118.4,999.4 2118.4,997.2 2117.4,997.2 2117.4,998.3 2116.4,998.3 2116.4,1000.0 2115.4,1000.0 2115.4,1001.7 2114.4,1001.7 2114.4,1001.7 2113.4,1001.7 2113.4,1001.7 2112.4,1001.7 2112.4,1002.3 2111.4,1002.3 2111.4,1003.3 2110.4,1003.3 2110.4,1004.3 2109.4,1004.3 2109.4,1004.6 2108.4,1004.6 2108.4,1005.0 2107.4,1005.0 2107.4,1004.8 2106.4,1004.8 2106.4,1004.3 2105.4,1004.3 2105.4,1004.6 2104.4,1004.6 2104.4,1005.8 2103.4,1005.8 2103.4,1007.1 2102.4,1007.1 2102.4,1008.3 2101.4,1008.3 2101.4,1009.4 2100.4,1009.4 2100.4,1010.2 2099.4,1010.2 2099.4,1010.6 2098.4,1010.6 2098.4,1011.1 2097.4,1011.1 2097.4,1014.9 2096.4,1014.9 2096.4,1016.5 2095.4,1016.5 2095.4,1012.2 2094.4,1012.2 2094.4,1012.1 2093.4,1012.1 2093.4,1012.1 2092.4,1012.1 2092.4,1012.4 2091.4,1012.4 2091.4,1012.8 2090.4,1012.8 2090.4,1014.3 2089.4,1014.3 2089.4,1015.8 2088.4,1015.8 2088.4,1015.9 2087.4,1015.9 2087.4,1015.1 2086.4,1015.1 2086.4,1014.8 2085.4,1014.8 2085.4,1020.2 2084.4,1020.2 2084.4,1018.3 2083.4,1018.3 2083.4,1018.8 2082.4,1018.8 2082.4,1019.0 2081.4,1019.0 2081.4,1019.3 2080.4,1019.3 2080.4,1019.7 2079.4,1019.7 2079.4,1020.2 2078.4,1020.2 2078.4,1021.2 2077.4,1021.2 2077.4,1022.2 2076.4,1022.2 2076.4,1022.4 2075.4,1022.4 2075.4,1022.2 2074.4,1022.2 2074.4,1022.0 2073.4,1022.0 2073.4,1022.1 2072.4,1022.1 2072.4,1022.2 2071.4,1022.2 2071.4,1022.9 2070.4,1022.9 2070.4,1023.8 2069.4,1023.8 2069.4,1024.6 2068.4,1024.6 2068.4,1025.2 2067.4,1025.2 2067.4,1027.2 2066.4,1027.2 2066.4,1028.9 2065.4,1028.9 2065.4,1028.0 2064.4,1028.0 2064.4,1031.1 2063.4,1031.1 2063.4,1031.8 2062.4,1031.8 2062.4,1028.2 2061.4,1028.2 2061.4,1028.4 2060.4,1028.4 2060.4,1028.6 2059.4,1028.6 2059.4,1029.0 2058.4,1029.0 2058.4,1029.5 2057.4,1029.5 2057.4,1030.4 2056.4,1030.4 2056.4,1031.8 2055.4,1031.8 2055.4,1033.3 2054.4,1033.3 2054.4,1033.9 2053.4,1033.9 2053.4,1034.6 2052.4,1034.6 2052.4,1034.9 2051.4,1034.9 2051.4,1034.9 2050.4,1034.9 2050.4,1035.3 2049.4,1035.3 2049.4,1037.0 2048.4,1037.0 2048.4,1038.7 2047.4,1038.7 2047.4,1040.4 2046.4,1040.4 2046.4,1042.0 2045.4,1042.0 2045.4,1042.8 2044.4,1042.8 2044.4,1042.3 2043.4,1042.3 2043.4,1041.9 2042.4,1041.9 2042.4,1042.5 2041.4,1042.5 2041.4,1043.2 2040.4,1043.2 2040.4,1044.1 2039.4,1044.1 2039.4,1045.2 2038.4,1045.2 2038.4,1046.5 2037.4,1046.5 2037.4,1050.0 2036.4,1050.0 2036.4,1052.8 2035.4,1052.8 2035.4,1055.2 2034.4,1055.2 2034.4,1056.0 2033.4,1056.0 2033.4,1054.4 2032.4,1054.4 2032.4,1054.6 2031.4,1054.6 2031.4,1054.8 2030.4,1054.8 2030.4,1057.0 2029.4,1057.0 2029.4,1059.2 2028.4,1059.2 2028.4,1054.5 2027.5,1054.5 2027.5,1056.0 2026.5,1056.0 2026.5,1057.7 2025.5,1057.7 2025.5,1059.6 2024.5,1059.6 2024.5,1061.5 2023.5,1061.5 2023.5,1063.4 2022.5,1063.4 2022.5,1065.3 2021.5,1065.3 2021.5,1068.5 2020.5,1068.5 2020.5,1072.7 2019.5,1072.7 2019.5,1076.6 2018.5,1076.6 2018.5,1088.1 2017.5,1088.1 2017.5,1099.7 2016.5,1099.7 2016.5,1301.2 2015.5,1301.2 2015.5,1549.8 2014.5,1549.8 2014.5,1551.0 2014.0,1551.0 2014.0,1551.0 2013.0,1551.0 2013.0,1551.0 2012.0,1551.0 2012.0,1551.0 2011.0,1551.0 2011.0,1551.0 2010.0,1551.0 2010.0,1551.0 2009.0,1551.0 2009.0,1551.0 2008.0,1551.0 2008.0,1551.0 2007.0,1551.0 2007.0,1551.0 2006.0,1551.0 2006.0,1551.0 2005.0,1551.0 2005.0,1551.0 2004.0,1551.0 2004.0,1551.0 2003.0,1551.0 2003.0,1551.0 2002.0,1551.0 2002.0,1551.0 2001.0,1551.0 2001.0,1551.0 2000.0,1551.0 2000.0,1551.0 1999.0,1551.0 1999.0,1551.0 1998.0,1551.0 1998.0,1551.0 1997.0,1551.0 1997.0,1551.0 1996.0,1551.0 1996.0,1551.0 1995.0,1551.0 1995.0,1551.0 1994.0,1551.0 1994.0,1551.0 1993.0,1551.0 1993.0,1551.0 1992.0,1551.0 1992.0,1551.0 1991.0,1551.0 1991.0,1551.0 1990.0,1551.0 1990.0,1551.0 1989.0,1551.0 1989.0,1551.0 1988.0,1551.0 1988.0,1551.0 1987.0,1551.0 1987.0,1551.0 1986.0,1551.0 1986.0,1551.0 1985.0,1551.0 1985.0,1551.0 1984.0,1551.0 1984.0,1551.0 1983.0,1551.0 1983.0,1551.0 1982.0,1551.0 1982.0,1551.0 1981.0,1551.0 1981.0,1551.0 1980.0,1551.0 1980.0,1551.0 1979.0,1551.0 1979.0,1551.0 1978.0,1551.0 1978.0,1551.0 1977.0,1551.0 1977.0,1551.0 1976.0,1551.0 1976.0,1551.0 1975.0,1551.0 1975.0,1551.0 1974.0,1551.0 1974.0,1551.0 1973.0,1551.0 1973.0,1551.0 1972.0,1551.0 1972.0,1551.0 1971.0,1551.0 1971.0,1551.0 1970.0,1551.0 1970.0,1551.0 1969.0,1551.0 1969.0,1551.0 1968.0,1551.0 1968.0,1551.0 1967.0,1551.0 1967.0,1551.0 1966.0,1551.0 1966.0,1551.0 1965.0,1551.0 1965.0,1551.0 1964.0,1551.0 1964.0,1551.0 1963.0,1551.0 1963.0,1551.0 1962.0,1551.0 1962.0,1551.0 1961.0,1551.0 1961.0,1551.0 1960.0,1551.0 1960.0,1551.0 1959.0,1551.0 1959.0,1551.0 1958.0,1551.0 1958.0,1551.0 1957.0,1551.0 1957.0,1551.0 1956.0,1551.0 1956.0,1551.0 1955.0,1551.0 1955.0,1551.0 1954.0,1551.0 1954.0,1551.0 1953.0,1551.0 1953.0,1551.0 1952.0,1551.0 1952.0,1551.0 1951.0,1551.0 1951.0,1551.0 1950.0,1551.0 1950.0,1551.0 1949.0,1551.0 1949.0,1551.0 1948.0,1551.0 1948.0,1551.0 1947.0,1551.0 1947.0,1551.0 1946.0,1551.0 1946.0,1551.0 1945.0,1551.0 1945.0,1551.0 1944.0,1551.0 1944.0,1551.0 1943.0,1551.0 1943.0,1551.0 1942.0,1551.0 1942.0,1551.0 1941.0,1551.0 1941.0,1551.0 1940.0,1551.0 1940.0,1551.0 1939.0,1551.0 1939.0,1551.0 1938.0,1551.0 1938.0,1551.0 1937.0,1551.0 1937.0,1551.0 1936.0,1551.0 1936.0,1551.0 1935.0,1551.0 1935.0,1551.0 1934.0,1551.0 1934.0,1551.0 1933.0,1551.0 1933.0,1551.0 1932.0,1551.0 1932.0,1551.0 1931.0,1551.0 1931.0,1551.0 1930.0,1551.0 1930.0,1551.0 1929.0,1551.0 1929.0,1551.0 1928.0,1551.0 1928.0,1551.0 1927.0,1551.0 1927.0,1551.0 1926.0,1551.0 1926.0,1551.0 1925.0,1551.0 1925.0,1551.0 1924.0,1551.0 1924.0,1551.0 1923.0,1551.0 1923.0,1551.0 1922.0,1551.0 1922.0,1551.0 1921.0,1551.0 1921.0,1551.0 1920.0,1551.0 1920.0,1551.0 1919.0,1551.0 1919.0,1551.0 1918.0,1551.0 1918.0,1551.0 1917.0,1551.0 1917.0,1551.0 1916.0,1551.0 1916.0,1551.0 1915.0,1551.0 1915.0,1551.0 1914.0,1551.0 1914.0,1551.0 1913.0,1551.0 1913.0,1551.0 1912.0,1551.0 1912.0,1551.0 1911.0,1551.0 1911.0,1551.0 1910.0,1551.0 1910.0,1551.0 1909.0,1551.0 1909.0,1551.0 1908.0,1551.0 1908.0,1551.0 1907.0,1551.0 1907.0,1551.0 1906.0,1551.0 1906.0,1551.0 1905.0,1551.0 1905.0,1551.0 1904.0,1551.0 1904.0,1551.0 1903.0,1551.0 1903.0,1551.0 1902.0,1551.0 1902.0,1551.0 1901.0,1551.0 1901.0,1551.0 1900.0,1551.0 1900.0,1551.0 1899.0,1551.0 1899.0,1551.0 1898.0,1551.0 1898.0,1551.0 1897.0,1551.0 1897.0,1551.0 1896.0,1551.0 1896.0,1551.0 1895.0,1551.0 1895.0,1551.0 1894.0,1551.0 1894.0,1551.0 1893.0,1551.0 1893.0,1551.0 1892.0,1551.0 1892.0,1551.0 1891.0,1551.0 1891.0,1551.0 1890.0,1551.0 1890.0,1551.0 1889.0,1551.0 1889.0,1551.0 1888.0,1551.0 1888.0,1551.0 1887.0,1551.0 1887.0,1551.0 1886.0,1551.0 1886.0,1551.0 1885.0,1551.0 1885.0,1551.0 1884.0,1551.0 1884.0,1551.0 1883.0,1551.0 1883.0,1551.0 1882.0,1551.0 1882.0,1551.0 1881.0,1551.0 1881.0,1551.0 1880.0,1551.0 1880.0,1551.0 1879.0,1551.0 1879.0,1551.0 1878.0,1551.0 1878.0,1551.0 1877.0,1551.0 1877.0,1551.0 1876.0,1551.0 1876.0,1551.0 1875.0,1551.0 1875.0,1551.0 1874.0,1551.0 1874.0,1551.0 1873.0,1551.0 1873.0,1551.0 1872.0,1551.0 1872.0,1551.0 1871.0,1551.0 1871.0,1551.0 1870.0,1551.0 1870.0,1551.0 1869.0,1551.0 1869.0,1551.0 1868.0,1551.0 1868.0,1551.0 1867.0,1551.0 1867.0,1551.0 1866.0,1551.0 1866.0,1551.0 1865.0,1551.0 1865.0,1551.0 1864.0,1551.0 1864.0,1551.0 1863.0,1551.0 1863.0,1551.0 1862.0,1551.0 1862.0,1551.0 1861.0,1551.0 1861.0,1551.0 1860.0,1551.0 1860.0,1551.0 1859.0,1551.0 1859.0,1551.0 1858.0,1551.0 1858.0,1551.0 1857.0,1551.0 1857.0,1551.0 1856.0,1551.0 1856.0,1551.0 1855.0,1551.0 1855.0,1551.0 1854.0,1551.0 1854.0,1551.0 1853.0,1551.0 1853.0,1551.0 1852.0,1551.0 1852.0,1551.0 1851.0,1551.0 1851.0,1551.0 1850.0,1551.0 1850.0,1551.0 1849.0,1551.0 1849.0,1551.0 1848.0,1551.0 1848.0,1551.0 1847.0,1551.0 1847.0,1551.0 1846.0,1551.0 1846.0,1551.0 1845.0,1551.0 1845.0,1551.0 1844.0,1551.0 1844.0,1551.0 1843.0,1551.0 1843.0,1551.0 1842.0,1551.0 1842.0,1551.0 1841.0,1551.0 1841.0,1551.0 1840.0,1551.0 1840.0,1551.0 1839.0,1551.0 1839.0,1551.0 1838.0,1551.0 1838.0,1551.0 1837.0,1551.0 1837.0,1551.0 1836.0,1551.0 1836.0,1551.0 1835.0,1551.0 1835.0,1551.0 1834.0,1551.0 1834.0,1551.0 1833.0,1551.0 1833.0,1551.0 1832.0,1551.0 1832.0,1551.0 1831.0,1551.0 1831.0,1551.0 1830.0,1551.0 1830.0,1551.0 1829.0,1551.0 1829.0,1551.0 1828.0,1551.0 1828.0,1551.0 1827.0,1551.0 1827.0,1551.0 1826.0,1551.0 1826.0,1551.0 1825.0,1551.0 1825.0,1551.0 1824.0,1551.0 1824.0,1551.0 1823.0,1551.0 1823.0,1551.0 1822.0,1551.0 1822.0,1551.0 1821.0,1551.0 1821.0,1551.0 1820.0,1551.0 1820.0,1551.0 1819.0,1551.0 1819.0,1551.0 1818.0,1551.0 1818.0,1551.0 1817.0,1551.0 1817.0,1551.0 1816.0,1551.0 1816.0,1551.0 1815.0,1551.0 1815.0,1551.0 1814.0,1551.0 1814.0,1551.0 1813.0,1551.0 1813.0,1551.0 1812.0,1551.0 1812.0,1551.0 1811.0,1551.0 1811.0,1551.0 1810.0,1551.0 1810.0,1551.0 1809.0,1551.0 1809.0,1551.0 1808.0,1551.0 1808.0,1551.0 1807.0,1551.0 1807.0,1551.0 1806.0,1551.0 1806.0,1551.0 1805.0,1551.0 1805.0,1551.0 1804.0,1551.0 1804.0,1551.0 1803.0,1551.0 1803.0,1551.0 1802.0,1551.0 1802.0,1551.0 1801.0,1551.0 1801.0,1551.0 1800.0,1551.0 1800.0,1551.0 1799.0,1551.0 1799.0,1551.0 1798.0,1551.0 1798.0,1551.0 1797.0,1551.0 1797.0,1551.0 1796.0,1551.0 1796.0,1551.0 1795.0,1551.0 1795.0,1551.0 1794.0,1551.0 1794.0,1551.0 1793.0,1551.0 1793.0,1551.0 1792.0,1551.0 1792.0,1551.0 1791.0,1551.0 1791.0,1551.0 1790.0,1551.0 1790.0,1551.0 1789.0,1551.0 1789.0,1551.0 1788.0,1551.0 1788.0,1551.0 1787.0,1551.0 1787.0,1551.0 1786.0,1551.0 1786.0,1551.0 1785.0,1551.0 1785.0,1551.0 1784.0,1551.0 1784.0,1551.0 1783.0,1551.0 1783.0,1551.0 1782.0,1551.0 1782.0,1551.0 1781.0,1551.0 1781.0,1551.0 1780.0,1551.0 1780.0,1551.0 1779.0,1551.0 1779.0,1551.0 1778.0,1551.0 1778.0,1551.0 1777.0,1551.0 1777.0,1551.0 1776.0,1551.0 1776.0,1549.3 1775.0,1549.3 1775.0,1547.1 1774.0,1547.1 1774.0,1536.2 1773.0,1536.2 1773.0,1525.2 1772.0,1525.2 1772.0,1514.2 1771.0,1514.2 1771.0,1503.2 1770.0,1503.2 1770.0,1387.0 1769.0,1387.0 1769.0,1034.4 1768.0,1034.4 1768.0,1036.8 1767.0,1036.8 1767.0,1037.7 1766.0,1037.7 1766.0,1034.3 1765.0,1034.3 1765.0,1034.8 1764.0,1034.8 1764.0,1035.6 1763.0,1035.6 1763.0,1036.3 1762.0,1036.3 1762.0,1037.0 1761.0,1037.0 1761.0,1037.8 1760.0,1037.8 1760.0,1038.4 1759.0,1038.4 1759.0,1038.6 1758.0,1038.6 1758.0,1042.0 1757.0,1042.0 1757.0,1043.9 1756.0,1043.9 1756.0,1040.5 1755.0,1040.5 1755.0,1041.0 1754.0,1041.0 1754.0,1040.6 1753.0,1040.6 1753.0,1040.3 1752.0,1040.3 1752.0,1041.0 1751.0,1041.0 1751.0,1041.8 1750.0,1041.8 1750.0,1042.9 1749.0,1042.9 1749.0,1044.4 1748.0,1044.4 1748.0,1047.0 1747.0,1047.0 1747.0,1047.3 1746.0,1047.3 1746.0,1045.1 1745.0,1045.1 1745.0,1048.7 1744.0,1048.7 1744.0,1051.0 1743.0,1051.0 1743.0,1051.6 1742.0,1051.6 1742.0,1052.6 1741.0,1052.6 1741.0,1048.1 1740.0,1048.1 1740.0,1048.7 1739.0,1048.7 1739.0,1049.3 1738.0,1049.3 1738.0,1049.4 1737.0,1049.4 1737.0,1049.3 1736.0,1049.3 1736.0,1049.4 1735.0,1049.4 1735.0,1050.1 1734.0,1050.1 1734.0,1050.9 1733.0,1050.9 1733.0,1053.0 1732.0,1053.0 1732.0,1050.1 1731.0,1050.1 1731.0,1050.3 1730.0,1050.3 1730.0,1051.5 1729.0,1051.5 1729.0,1052.7 1728.0,1052.7 1728.0,1054.5 1727.0,1054.5 1727.0,1055.5 1726.0,1055.5 1726.0,1053.7 1725.0,1053.7 1725.0,1053.6 1724.0,1053.6 1724.0,1053.5 1723.0,1053.5 1723.0,1053.7 1722.0,1053.7 1722.0,1053.9 1721.0,1053.9 1721.0,1054.7 1720.0,1054.7 1720.0,1055.6 1719.0,1055.6 1719.0,1056.4 1718.0,1056.4 1718.0,1056.9 1717.0,1056.9 1717.0,1057.5 1716.0,1057.5 1716.0,1057.9 1715.0,1057.9 1715.0,1058.2 1714.0,1058.2 1714.0,1058.2 1713.0,1058.2 1713.0,1058.1 1712.0,1058.1 1712.0,1058.2 1711.0,1058.2 1711.0,1058.9 1710.0,1058.9 1710.0,1059.7 1709.0,1059.7 1709.0,1059.6 1708.0,1059.6 1708.0,1059.4 1707.0,1059.4 1707.0,1059.5 1706.0,1059.5 1706.0,1060.2 1705.0,1060.2 1705.0,1060.9 1704.0,1060.9 1704.0,1061.9 1703.0,1061.9 1703.0,1062.8 1702.0,1062.8 1702.0,1063.4 1701.0,1063.4 1701.0,1063.8 1700.0,1063.8 1700.0,1064.0 1699.0,1064.0 1699.0,1063.8 1698.0,1063.8 1698.0,1063.5 1697.0,1063.5 1697.0,1064.1 1696.0,1064.1 1696.0,1064.9 1695.0,1064.9 1695.0,1065.8 1694.0,1065.8 1694.0,1066.8 1693.0,1066.8 1693.0,1067.8 1692.0,1067.8 1692.0,1067.6 1691.0,1067.6 1691.0,1067.5 1690.0,1067.5 1690.0,1068.3 1689.0,1068.3 1689.0,1069.7 1688.0,1069.7 1688.0,1071.1 1687.0,1071.1 1687.0,1072.4 1686.0,1072.4 1686.0,1073.6 1685.0,1073.6 1685.0,1073.1 1684.0,1073.1 1684.0,1074.7 1683.0,1074.7 1683.0,1075.1 1682.0,1075.1 1682.0,1072.1 1681.0,1072.1 1681.0,1072.5 1680.0,1072.5 1680.0,1074.2 1679.0,1074.2 1679.0,1075.8 1678.0,1075.8 1678.0,1076.0 1677.0,1076.0 1677.0,1075.3 1676.0,1075.3 1676.0,1074.8 1675.0,1074.8 1675.0,1075.6 1674.0,1075.6 1674.0,1076.3 1673.0,1076.3 1673.0,1076.9 1672.0,1076.9 1672.0,1077.6 1671.0,1077.6 1671.0,1078.4 1670.0,1078.4 1670.0,1079.6 1669.0,1079.6 1669.0,1080.7 1668.0,1080.7 1668.0,1081.6 1667.0,1081.6 1667.0,1082.5 1666.0,1082.5 1666.0,1082.8 1665.0,1082.8 1665.0,1082.7 1664.0,1082.7 1664.0,1082.9 1663.0,1082.9 1663.0,1085.0 1662.0,1085.0 1662.0,1086.6 1661.0,1086.6 1661.0,1087.3 1660.0,1087.3 1660.0,1084.9 1659.0,1084.9 1659.0,1085.5 1658.0,1085.5 1658.0,1089.2 1657.0,1089.2 1657.0,1091.7 1656.0,1091.7 1656.0,1089.3 1655.0,1089.3 1655.0,1089.3 1654.0,1089.3 1654.0,1089.8 1653.0,1089.8 1653.0,1090.5 1652.0,1090.5 1652.0,1091.2 1651.0,1091.2 1651.0,1091.6 1650.0,1091.6 1650.0,1094.8 1649.0,1094.8 1649.0,1096.2 1648.0,1096.2 1648.0,1092.9 1647.0,1092.9 1647.0,1093.7 1646.0,1093.7 1646.0,1095.0 1645.0,1095.0 1645.0,1096.3 1644.0,1096.3 1644.0,1095.9 1643.0,1095.9 1643.0,1098.1 1642.0,1098.1 1642.0,1099.2 1641.0,1099.2 1641.0,1096.2 1640.0,1096.2 1640.0,1096.9 1639.0,1096.9 1639.0,1097.8 1638.0,1097.8 1638.0,1098.6 1637.0,1098.6 1637.0,1099.8 1636.0,1099.8 1636.0,1101.0 1635.0,1101.0 1635.0,1102.1 1634.0,1102.1 1634.0,1103.1 1633.0,1103.1 1633.0,1104.2 1632.0,1104.2 1632.0,1103.5 1631.0,1103.5 1631.0,1102.9 1630.0,1102.9 1630.0,1103.1 1629.0,1103.1 1629.0,1103.9 1628.0,1103.9 1628.0,1104.7 1627.0,1104.7 1627.0,1105.4 1626.0,1105.4 1626.0,1106.2 1625.0,1106.2 1625.0,1107.0 1624.0,1107.0 1624.0,1107.8 1623.0,1107.8 1623.0,1108.5 1622.0,1108.5 1622.0,1109.0 1621.0,1109.0 1621.0,1109.5 1620.0,1109.5 1620.0,1110.1 1619.0,1110.1 1619.0,1110.7 1618.0,1110.7 1618.0,1111.5 1617.0,1111.5 1617.0,1112.4 1616.0,1112.4 1616.0,1113.6 1615.0,1113.6 1615.0,1115.9 1614.0,1115.9 1614.0,1118.1 1613.0,1118.1 1613.0,1118.2 1612.0,1118.2 1612.0,1117.7 1611.0,1117.7 1611.0,1117.5 1610.0,1117.5 1610.0,1117.7 1609.0,1117.7 1609.0,1117.9 1608.0,1117.9 1608.0,1118.4 1607.0,1118.4 1607.0,1118.8 1606.0,1118.8 1606.0,1119.9 1605.0,1119.9 1605.0,1121.4 1604.0,1121.4 1604.0,1122.8 1603.0,1122.8 1603.0,1123.7 1602.0,1123.7 1602.0,1124.7 1601.0,1124.7 1601.0,1126.1 1600.0,1126.1 1600.0,1128.6 1599.0,1128.6 1599.0,1129.9 1598.0,1129.9 1598.0,1130.2 1597.0,1130.2 1597.0,1127.9 1596.0,1127.9 1596.0,1130.3 1595.0,1130.3 1595.0,1132.6 1594.0,1132.6 1594.0,1133.7 1593.0,1133.7 1593.0,1133.8 1592.0,1133.8 1592.0,1133.9 1591.0,1133.9 1591.0,1134.2 1590.0,1134.2 1590.0,1134.5 1589.0,1134.5 1589.0,1135.1 1588.0,1135.1 1588.0,1135.8 1587.0,1135.8 1587.0,1136.6 1586.0,1136.6 1586.0,1137.5 1585.0,1137.5 1585.0,1138.4 1584.0,1138.4 1584.0,1139.0 1583.0,1139.0 1583.0,1139.7 1582.0,1139.7 1582.0,1140.0 1581.0,1140.0 1581.0,1140.1 1580.0,1140.1 1580.0,1140.6 1579.0,1140.6 1579.0,1144.4 1578.0,1144.4 1578.0,1146.9 1577.0,1146.9 1577.0,1144.6 1576.0,1144.6 1576.0,1146.6 1575.0,1146.6 1575.0,1147.8 1574.0,1147.8 1574.0,1146.4 1573.0,1146.4 1573.0,1147.5 1572.0,1147.5 1572.0,1148.5 1571.0,1148.5 1571.0,1149.4 1570.0,1149.4 1570.0,1150.4 1569.0,1150.4 1569.0,1151.4 1568.0,1151.4 1568.0,1152.3 1567.0,1152.3 1567.0,1152.9 1566.0,1152.9 1566.0,1153.6 1565.0,1153.6 1565.0,1154.9 1564.0,1154.9 1564.0,1158.1 1563.0,1158.1 1563.0,1157.8 1562.0,1157.8 1562.0,1159.2 1561.0,1159.2 1561.0,1160.7 1560.0,1160.7 1560.0,1160.3 1559.0,1160.3 1559.0,1160.0 1558.0,1160.0 1558.0,1160.6 1557.0,1160.6 1557.0,1161.9 1556.0,1161.9 1556.0,1162.9 1555.0,1162.9 1555.0,1162.4 1554.0,1162.4 1554.0,1161.8 1553.0,1161.8 1553.0,1163.1 1552.0,1163.1 1552.0,1164.9 1551.0,1164.9 1551.0,1165.7 1550.0,1165.7 1550.0,1165.0 1549.0,1165.0 1549.0,1164.2 1548.0,1164.2 1548.0,1167.8 1547.0,1167.8 1547.0,1171.4 1546.0,1171.4 1546.0,1174.2 1545.0,1174.2 1545.0,1174.4 1544.0,1174.4 1544.0,1175.1 1543.0,1175.1 1543.0,1173.3 1542.0,1173.3 1542.0,1174.8 1541.0,1174.8 1541.0,1175.4 1540.0,1175.4 1540.0,1175.7 1539.0,1175.7 1539.0,1176.0 1538.0,1176.0 1538.0,1176.4 1537.0,1176.4 1537.0,1176.2 1536.5,1176.2 1536.5,1184.0 1535.5,1184.0 1535.5,1191.8 1534.5,1191.8 1534.5,1199.5 1533.5,1199.5 1533.5,1220.4 1532.5,1220.4 1532.5,1241.3 1531.5,1241.3 1531.5,1277.9 1530.5,1277.9 1530.5,1314.5 1529.5,1314.5 1529.5,1365.7 1528.5,1365.7 1528.5,1549.3 1527.5,1549.3 1527.5,1551.0 1526.5,1551.0 1526.5,1551.0 1525.5,1551.0 1525.5,1551.0 1524.5,1551.0 1524.5,1551.0 1523.5,1551.0 1523.5,1551.0 1522.5,1551.0 1522.5,1551.0 1521.5,1551.0 1521.5,1551.0 1520.5,1551.0 1520.5,1551.0 1519.5,1551.0 1519.5,1551.0 1518.5,1551.0 1518.5,1551.0 1517.5,1551.0 1517.5,1551.0 1516.5,1551.0 1516.5,1551.0 1515.5,1551.0 1515.5,1551.0 1514.5,1551.0 1514.5,1551.0 1513.5,1551.0 1513.5,1551.0 1512.5,1551.0 1512.5,1551.0 1511.5,1551.0 1511.5,1551.0 1510.5,1551.0 1510.5,1551.0 1509.5,1551.0 1509.5,1551.0 1508.5,1551.0 1508.5,1551.0 1507.5,1551.0 1507.5,1551.0 1506.5,1551.0 1506.5,1551.0 1505.5,1551.0 1505.5,1551.0 1504.5,1551.0 1504.5,1551.0 1503.5,1551.0 1503.5,1551.0 1502.5,1551.0 1502.5,1551.0 1501.5,1551.0 1501.5,1551.0 1500.5,1551.0 1500.5,1551.0 1499.5,1551.0 1499.5,1551.0 1498.5,1551.0 1498.5,1551.0 1497.5,1551.0 1497.5,1551.0 1496.5,1551.0 1496.5,1551.0 1495.5,1551.0 1495.5,1551.0 1494.5,1551.0 1494.5,1551.0 1493.5,1551.0 1493.5,1551.0 1492.5,1551.0 1492.5,1551.0 1491.5,1551.0 1491.5,1551.0 1490.5,1551.0 1490.5,1551.0 1489.5,1551.0 1489.5,1551.0 1488.5,1551.0 1488.5,1551.0 1487.5,1551.0 1487.5,1551.0 1486.5,1551.0 1486.5,1551.0 1485.5,1551.0 1485.5,1551.0 1484.5,1551.0 1484.5,1551.0 1483.5,1551.0 1483.5,1551.0 1482.5,1551.0 1482.5,1551.0 1481.5,1551.0 1481.5,1551.0 1480.5,1551.0 1480.5,1551.0 1479.5,1551.0 1479.5,1551.0 1478.5,1551.0 1478.5,1551.0 1477.5,1551.0 1477.5,1551.0 1476.5,1551.0 1476.5,1551.0 1475.5,1551.0 1475.5,1551.0 1474.5,1551.0 1474.5,1551.0 1473.5,1551.0 1473.5,1551.0 1472.5,1551.0 1472.5,1551.0 1471.5,1551.0 1471.5,1551.0 1470.5,1551.0 1470.5,1551.0 1469.5,1551.0 1469.5,1551.0 1468.5,1551.0 1468.5,1551.0 1467.5,1551.0 1467.5,1551.0 1466.5,1551.0 1466.5,1551.0 1465.5,1551.0 1465.5,1551.0 1464.5,1551.0 1464.5,1551.0 1463.5,1551.0 1463.5,1551.0 1462.5,1551.0 1462.5,1551.0 1461.5,1551.0 1461.5,1551.0 1460.5,1551.0 1460.5,1551.0 1459.5,1551.0 1459.5,1551.0 1458.5,1551.0 1458.5,1551.0 1457.5,1551.0 1457.5,1551.0 1456.5,1551.0 1456.5,1551.0 1455.5,1551.0 1455.5,1551.0 1454.5,1551.0 1454.5,1551.0 1453.5,1551.0 1453.5,1551.0 1452.5,1551.0 1452.5,1551.0 1451.5,1551.0 1451.5,1551.0 1450.5,1551.0 1450.5,1551.0 1449.5,1551.0 1449.5,1551.0 1448.5,1551.0 1448.5,1551.0 1447.5,1551.0 1447.5,1551.0 1446.5,1551.0 1446.5,1551.0 1445.5,1551.0 1445.5,1551.0 1444.5,1551.0 1444.5,1551.0 1443.5,1551.0 1443.5,1551.0 1442.5,1551.0 1442.5,1551.0 1441.5,1551.0 1441.5,1551.0 1440.5,1551.0 1440.5,1551.0 1439.5,1551.0 1439.5,1551.0 1438.5,1551.0 1438.5,1551.0 1437.5,1551.0 1437.5,1551.0 1436.5,1551.0 1436.5,1551.0 1435.5,1551.0 1435.5,1551.0 1434.5,1551.0 1434.5,1551.0 1433.5,1551.0 1433.5,1551.0 1432.5,1551.0 1432.5,1551.0 1431.5,1551.0 1431.5,1551.0 1430.5,1551.0 1430.5,1551.0 1429.5,1551.0 1429.5,1551.0 1428.5,1551.0 1428.5,1551.0 1427.5,1551.0 1427.5,1551.0 1426.5,1551.0 1426.5,1551.0 1425.5,1551.0 1425.5,1551.0 1424.5,1551.0 1424.5,1551.0 1423.5,1551.0 1423.5,1551.0 1422.5,1551.0 1422.5,1551.0 1421.5,1551.0 1421.5,1551.0 1420.5,1551.0 1420.5,1551.0 1419.5,1551.0 1419.5,1551.0 1418.5,1551.0 1418.5,1551.0 1417.5,1551.0 1417.5,1551.0 1416.5,1551.0 1416.5,1551.0 1415.5,1551.0 1415.5,1551.0 1414.5,1551.0 1414.5,1551.0 1413.5,1551.0 1413.5,1551.0 1412.5,1551.0 1412.5,1551.0 1411.5,1551.0 1411.5,1551.0 1410.5,1551.0 1410.5,1551.0 1409.5,1551.0 1409.5,1551.0 1408.5,1551.0 1408.5,1551.0 1407.5,1551.0 1407.5,1551.0 1406.5,1551.0 1406.5,1551.0 1405.5,1551.0 1405.5,1551.0 1404.5,1551.0 1404.5,1551.0 1403.5,1551.0 1403.5,1551.0 1402.5,1551.0 1402.5,1551.0 1401.5,1551.0 1401.5,1551.0 1400.5,1551.0 1400.5,1551.0 1399.5,1551.0 1399.5,1551.0 1398.5,1551.0 1398.5,1551.0 1397.5,1551.0 1397.5,1551.0 1396.5,1551.0 1396.5,1551.0 1395.5,1551.0 1395.5,1551.0 1394.5,1551.0 1394.5,1551.0 1393.5,1551.0 1393.5,1551.0 1392.5,1551.0 1392.5,1551.0 1391.5,1551.0 1391.5,1551.0 1390.5,1551.0 1390.5,1551.0 1389.5,1551.0 1389.5,1551.0 1388.5,1551.0 1388.5,1551.0 1387.5,1551.0 1387.5,1551.0 1386.5,1551.0 1386.5,1551.0 1385.5,1551.0 1385.5,1551.0 1384.5,1551.0 1384.5,1551.0 1383.5,1551.0 1383.5,1551.0 1382.5,1551.0 1382.5,1551.0 1381.5,1551.0 1381.5,1551.0 1380.5,1551.0 1380.5,1551.0 1379.5,1551.0 1379.5,1551.0 1378.5,1551.0 1378.5,1551.0 1377.5,1551.0 1377.5,1551.0 1376.5,1551.0 1376.5,1551.0 1375.5,1551.0 1375.5,1551.0 1374.5,1551.0 1374.5,1551.0 1373.5,1551.0 1373.5,1551.0 1372.5,1551.0 1372.5,1551.0 1371.5,1551.0 1371.5,1551.0 1370.5,1551.0 1370.5,1551.0 1369.5,1551.0 1369.5,1551.0 1368.5,1551.0 1368.5,1551.0 1367.5,1551.0 1367.5,1551.0 1366.5,1551.0 1366.5,1551.0 1365.5,1551.0 1365.5,1551.0 1364.5,1551.0 1364.5,1551.0 1363.5,1551.0 1363.5,1551.0 1362.5,1551.0 1362.5,1551.0 1361.5,1551.0 1361.5,1551.0 1360.5,1551.0 1360.5,1551.0 1359.5,1551.0 1359.5,1551.0 1358.5,1551.0 1358.5,1551.0 1357.5,1551.0 1357.5,1551.0 1356.5,1551.0 1356.5,1551.0 1355.5,1551.0 1355.5,1551.0 1354.5,1551.0 1354.5,1551.0 1353.5,1551.0 1353.5,1551.0 1352.5,1551.0 1352.5,1551.0 1351.5,1551.0 1351.5,1551.0 1350.5,1551.0 1350.5,1551.0 1349.5,1551.0 1349.5,1551.0 1348.5,1551.0 1348.5,1551.0 1347.5,1551.0 1347.5,1551.0 1346.5,1551.0 1346.5,1551.0 1345.5,1551.0 1345.5,1551.0 1344.5,1551.0 1344.5,1551.0 1343.5,1551.0 1343.5,1551.0 1342.5,1551.0 1342.5,1551.0 1341.5,1551.0 1341.5,1551.0 1340.5,1551.0 1340.5,1551.0 1339.5,1551.0 1339.5,1551.0 1338.5,1551.0 1338.5,1551.0 1337.5,1551.0 1337.5,1551.0 1336.5,1551.0 1336.5,1551.0 1335.5,1551.0 1335.5,1551.0 1334.5,1551.0 1334.5,1551.0 1333.5,1551.0 1333.5,1551.0 1332.5,1551.0 1332.5,1551.0 1331.5,1551.0 1331.5,1551.0 1330.5,1551.0 1330.5,1551.0 1329.5,1551.0 1329.5,1551.0 1328.5,1551.0 1328.5,1551.0 1327.5,1551.0 1327.5,1551.0 1326.5,1551.0 1326.5,1551.0 1325.5,1551.0 1325.5,1551.0 1324.5,1551.0 1324.5,1551.0 1323.5,1551.0 1323.5,1551.0 1322.5,1551.0 1322.5,1551.0 1321.5,1551.0 1321.5,1551.0 1320.5,1551.0 1320.5,1551.0 1319.5,1551.0 1319.5,1551.0 1318.5,1551.0 1318.5,1551.0 1317.5,1551.0 1317.5,1551.0 1316.5,1551.0 1316.5,1551.0 1315.5,1551.0 1315.5,1551.0 1314.5,1551.0 1314.5,1551.0 1313.5,1551.0 1313.5,1551.0 1312.5,1551.0 1312.5,1551.0 1311.5,1551.0 1311.5,1551.0 1310.5,1551.0 1310.5,1551.0 1309.5,1551.0 1309.5,1551.0 1308.5,1551.0 1308.5,1551.0 1307.5,1551.0 1307.5,1551.0 1306.5,1551.0 1306.5,1551.0 1305.5,1551.0 1305.5,1551.0 1304.5,1551.0 1304.5,1551.0 1303.5,1551.0 1303.5,1551.0 1302.5,1551.0 1302.5,1551.0 1301.5,1551.0 1301.5,1551.0 1300.5,1551.0 1300.5,1551.0 1299.5,1551.0 1299.5,1551.0 1298.5,1551.0 1298.5,1551.0 1297.5,1551.0 1297.5,1547.8 1296.5,1547.8 1296.5,1540.8 1295.5,1540.8 1295.5,1531.4 1294.5,1531.4 1294.5,1521.9 1293.5,1521.9 1293.5,1512.3 1292.5,1512.3 1292.5,1485.7 1291.5,1485.7 1291.5,1442.3 1290.5,1442.3 1290.5,1398.7 1289.5,1398.7 1289.5,1173.4 1289.0,1173.4 1289.0,1174.3 1288.0,1174.3 1288.0,1175.2 1287.0,1175.2 1287.0,1178.3 1286.0,1178.3 1286.0,1175.4 1285.0,1175.4 1285.0,1175.1 1284.0,1175.1 1284.0,1176.0 1283.0,1176.0 1283.0,1176.7 1282.0,1176.7 1282.0,1176.9 1281.0,1176.9 1281.0,1176.7 1280.0,1176.7 1280.0,1177.0 1279.0,1177.0 1279.0,1179.1 1278.0,1179.1 1278.0,1181.3 1277.0,1181.3 1277.0,1180.7 1276.0,1180.7 1276.0,1179.5 1275.0,1179.5 1275.0,1178.8 1274.0,1178.8 1274.0,1180.6 1273.0,1180.6 1273.0,1178.7 1272.0,1178.7 1272.0,1179.7 1271.0,1179.7 1271.0,1180.8 1270.0,1180.8 1270.0,1181.9 1269.0,1181.9 1269.0,1183.0 1268.0,1183.0 1268.0,1184.3 1267.0,1184.3 1267.0,1185.8 1266.0,1185.8 1266.0,1187.3 1265.0,1187.3 1265.0,1188.0 1264.0,1188.0 1264.0,1188.6 1263.0,1188.6 1263.0,1189.1 1262.0,1189.1 1262.0,1190.8 1261.0,1190.8 1261.0,1191.8 1260.0,1191.8 1260.0,1193.3 1259.0,1193.3 1259.0,1191.3 1258.0,1191.3 1258.0,1191.9 1257.0,1191.9 1257.0,1192.4 1256.0,1192.4 1256.0,1193.1 1255.0,1193.1 1255.0,1196.5 1254.0,1196.5 1254.0,1198.8 1253.0,1198.8 1253.0,1196.5 1252.0,1196.5 1252.0,1196.0 1251.0,1196.0 1251.0,1196.2 1250.0,1196.2 1250.0,1197.6 1249.0,1197.6 1249.0,1199.0 1248.0,1199.0 1248.0,1202.6 1247.0,1202.6 1247.0,1200.8 1246.0,1200.8 1246.0,1202.3 1245.0,1202.3 1245.0,1201.4 1244.0,1201.4 1244.0,1202.7 1243.0,1202.7 1243.0,1203.3 1242.0,1203.3 1242.0,1206.0 1241.0,1206.0 1241.0,1203.8 1240.0,1203.8 1240.0,1203.3 1239.0,1203.3 1239.0,1203.3 1238.0,1203.3 1238.0,1204.1 1237.0,1204.1 1237.0,1204.9 1236.0,1204.9 1236.0,1205.4 1235.0,1205.4 1235.0,1207.6 1234.0,1207.6 1234.0,1208.6 1233.0,1208.6 1233.0,1206.8 1232.0,1206.8 1232.0,1207.2 1231.0,1207.2 1231.0,1207.5 1230.0,1207.5 1230.0,1209.9 1229.0,1209.9 1229.0,1211.9 1228.0,1211.9 1228.0,1214.1 1227.0,1214.1 1227.0,1210.6 1226.0,1210.6 1226.0,1211.1 1225.0,1211.1 1225.0,1211.7 1224.0,1211.7 1224.0,1211.8 1223.0,1211.8 1223.0,1211.9 1222.0,1211.9 1222.0,1213.0 1221.0,1213.0 1221.0,1214.8 1220.0,1214.8 1220.0,1216.2 1219.0,1216.2 1219.0,1215.9 1218.0,1215.9 1218.0,1215.7 1217.0,1215.7 1217.0,1216.4 1216.0,1216.4 1216.0,1217.5 1215.0,1217.5 1215.0,1221.7 1214.0,1221.7 1214.0,1223.9 1213.0,1223.9 1213.0,1221.0 1212.0,1221.0 1212.0,1220.2 1211.0,1220.2 1211.0,1219.3 1210.0,1219.3 1210.0,1219.7 1209.0,1219.7 1209.0,1220.8 1208.0,1220.8 1208.0,1221.8 1207.0,1221.8 1207.0,1221.7 1206.0,1221.7 1206.0,1223.9 1205.0,1223.9 1205.0,1224.8 1204.0,1224.8 1204.0,1221.9 1203.0,1221.9 1203.0,1222.6 1202.0,1222.6 1202.0,1224.0 1201.0,1224.0 1201.0,1225.5 1200.0,1225.5 1200.0,1225.7 1199.0,1225.7 1199.0,1225.9 1198.0,1225.9 1198.0,1226.8 1197.0,1226.8 1197.0,1228.3 1196.0,1228.3 1196.0,1229.5 1195.0,1229.5 1195.0,1230.0 1194.0,1230.0 1194.0,1230.5 1193.0,1230.5 1193.0,1230.6 1192.0,1230.6 1192.0,1230.6 1191.0,1230.6 1191.0,1231.0 1190.0,1231.0 1190.0,1231.9 1189.0,1231.9 1189.0,1232.7 1188.0,1232.7 1188.0,1233.4 1187.0,1233.4 1187.0,1234.1 1186.0,1234.1 1186.0,1235.8 1185.0,1235.8 1185.0,1238.0 1184.0,1238.0 1184.0,1239.7 1183.0,1239.7 1183.0,1239.1 1182.0,1239.1 1182.0,1238.5 1181.0,1238.5 1181.0,1239.0 1180.0,1239.0 1180.0,1239.7 1179.0,1239.7 1179.0,1240.4 1178.0,1240.4 1178.0,1240.9 1177.0,1240.9 1177.0,1241.4 1176.0,1241.4 1176.0,1241.7 1175.0,1241.7 1175.0,1242.0 1174.0,1242.0 1174.0,1242.1 1173.0,1242.1 1173.0,1242.3 1172.0,1242.3 1172.0,1242.5 1171.0,1242.5 1171.0,1243.1 1170.0,1243.1 1170.0,1243.8 1169.0,1243.8 1169.0,1244.6 1168.0,1244.6 1168.0,1245.4 1167.0,1245.4 1167.0,1246.4 1166.0,1246.4 1166.0,1247.7 1165.0,1247.7 1165.0,1249.0 1164.0,1249.0 1164.0,1249.6 1163.0,1249.6 1163.0,1250.2 1162.0,1250.2 1162.0,1251.1 1161.0,1251.1 1161.0,1252.4 1160.0,1252.4 1160.0,1253.4 1159.0,1253.4 1159.0,1253.6 1158.0,1253.6 1158.0,1253.8 1157.0,1253.8 1157.0,1254.8 1156.0,1254.8 1156.0,1257.5 1155.0,1257.5 1155.0,1259.0 1154.0,1259.0 1154.0,1257.6 1153.0,1257.6 1153.0,1258.3 1152.0,1258.3 1152.0,1257.1 1151.0,1257.1 1151.0,1255.9 1150.0,1255.9 1150.0,1256.7 1149.0,1256.7 1149.0,1260.3 1148.0,1260.3 1148.0,1262.8 1147.0,1262.8 1147.0,1261.9 1146.0,1261.9 1146.0,1263.0 1145.0,1263.0 1145.0,1264.2 1144.0,1264.2 1144.0,1265.3 1143.0,1265.3 1143.0,1266.3 1142.0,1266.3 1142.0,1267.1 1141.0,1267.1 1141.0,1267.9 1140.0,1267.9 1140.0,1268.9 1139.0,1268.9 1139.0,1269.9 1138.0,1269.9 1138.0,1270.8 1137.0,1270.8 1137.0,1271.5 1136.0,1271.5 1136.0,1272.4 1135.0,1272.4 1135.0,1273.6 1134.0,1273.6 1134.0,1274.9 1133.0,1274.9 1133.0,1276.4 1132.0,1276.4 1132.0,1277.2 1131.0,1277.2 1131.0,1278.6 1130.0,1278.6 1130.0,1278.5 1129.0,1278.5 1129.0,1280.3 1128.0,1280.3 1128.0,1280.1 1127.0,1280.1 1127.0,1281.4 1126.0,1281.4 1126.0,1282.5 1125.0,1282.5 1125.0,1281.6 1124.0,1281.6 1124.0,1282.7 1123.0,1282.7 1123.0,1283.9 1122.0,1283.9 1122.0,1285.1 1121.0,1285.1 1121.0,1286.4 1120.0,1286.4 1120.0,1287.8 1119.0,1287.8 1119.0,1288.7 1118.0,1288.7 1118.0,1288.8 1117.0,1288.8 1117.0,1288.9 1116.0,1288.9 1116.0,1290.4 1115.0,1290.4 1115.0,1291.8 1114.0,1291.8 1114.0,1293.1 1113.0,1293.1 1113.0,1294.3 1112.0,1294.3 1112.0,1295.6 1111.0,1295.6 1111.0,1300.0 1110.0,1300.0 1110.0,1299.4 1109.0,1299.4 1109.0,1299.8 1108.0,1299.8 1108.0,1299.7 1107.0,1299.7 1107.0,1299.8 1106.0,1299.8 1106.0,1300.3 1105.0,1300.3 1105.0,1300.8 1104.0,1300.8 1104.0,1302.7 1103.0,1302.7 1103.0,1304.6 1102.0,1304.6 1102.0,1305.7 1101.0,1305.7 1101.0,1306.4 1100.0,1306.4 1100.0,1307.0 1099.0,1307.0 1099.0,1307.6 1098.0,1307.6 1098.0,1308.2 1097.0,1308.2 1097.0,1308.6 1096.0,1308.6 1096.0,1309.0 1095.0,1309.0 1095.0,1309.9 1094.0,1309.9 1094.0,1311.7 1093.0,1311.7 1093.0,1313.6 1092.0,1313.6 1092.0,1312.9 1091.0,1312.9 1091.0,1312.1 1090.0,1312.1 1090.0,1313.1 1089.0,1313.1 1089.0,1315.1 1088.0,1315.1 1088.0,1317.0 1087.0,1317.0 1087.0,1318.2 1086.0,1318.2 1086.0,1319.4 1085.0,1319.4 1085.0,1322.3 1084.0,1322.3 1084.0,1320.6 1083.0,1320.6 1083.0,1321.5 1082.0,1321.5 1082.0,1322.9 1081.0,1322.9 1081.0,1324.3 1080.0,1324.3 1080.0,1324.6 1079.0,1324.6 1079.0,1324.9 1078.0,1324.9 1078.0,1325.8 1077.0,1325.8 1077.0,1326.9 1076.0,1326.9 1076.0,1328.0 1075.0,1328.0 1075.0,1328.9 1074.0,1328.9 1074.0,1329.8 1073.0,1329.8 1073.0,1335.0 1072.0,1335.0 1072.0,1331.7 1071.0,1331.7 1071.0,1335.5 1070.0,1335.5 1070.0,1337.3 1069.0,1337.3 1069.0,1335.9 1068.0,1335.9 1068.0,1337.4 1067.0,1337.4 1067.0,1338.8 1066.0,1338.8 1066.0,1337.3 1065.0,1337.3 1065.0,1339.3 1064.0,1339.3 1064.0,1341.0 1063.0,1341.0 1063.0,1341.5 1062.0,1341.5 1062.0,1342.0 1061.0,1342.0 1061.0,1342.4 1060.0,1342.4 1060.0,1340.8 1059.5,1340.8 1059.5,1348.1 1058.5,1348.1 1058.5,1354.3 1057.5,1354.3 1057.5,1359.4 1056.5,1359.4 1056.5,1364.6 1055.5,1364.6 1055.5,1370.0 1054.5,1370.0 1054.5,1375.4 1053.5,1375.4 1053.5,1402.9 1052.5,1402.9 1052.5,1430.4 1051.5,1430.4 1051.5,1528.3 1050.5,1528.3 1050.5,1534.1 1049.5,1534.1 1049.5,1536.1 1048.5,1536.1 1048.5,1536.4 1047.5,1536.4 1047.5,1534.9 1046.5,1534.9 1046.5,1536.4 1045.5,1536.4 1045.5,1538.5 1044.5,1538.5 1044.5,1536.5 1043.5,1536.5 1043.5,1535.4 1042.5,1535.4 1042.5,1535.0 1041.5,1535.0 1041.5,1535.3 1040.5,1535.3 1040.5,1535.1 1039.5,1535.1 1039.5,1534.2 1038.5,1534.2 1038.5,1534.0 1037.5,1534.0 1037.5,1534.3 1036.5,1534.3 1036.5,1534.5 1035.5,1534.5 1035.5,1534.6 1034.5,1534.6 1034.5,1534.5 1033.5,1534.5 1033.5,1534.3 1032.5,1534.3 1032.5,1534.3 1031.5,1534.3 1031.5,1534.7 1030.5,1534.7 1030.5,1534.0 1029.5,1534.0 1029.5,1532.3 1028.5,1532.3 1028.5,1532.1 1027.5,1532.1 1027.5,1533.5 1026.5,1533.5 1026.5,1534.2 1025.5,1534.2 1025.5,1534.3 1024.5,1534.3 1024.5,1534.5 1023.5,1534.5 1023.5,1534.8 1022.5,1534.8 1022.5,1534.8 1021.5,1534.8 1021.5,1534.3 1020.5,1534.3 1020.5,1534.5 1019.5,1534.5 1019.5,1535.3 1018.5,1535.3 1018.5,1535.5 1017.5,1535.5 1017.5,1534.9 1016.5,1534.9 1016.5,1534.5 1015.5,1534.5 1015.5,1534.4 1014.5,1534.4 1014.5,1534.3 1013.5,1534.3 1013.5,1534.1 1012.5,1534.1 1012.5,1534.5 1011.5,1534.5 1011.5,1535.3 1010.5,1535.3 1010.5,1535.4 1009.5,1535.4 1009.5,1534.7 1008.5,1534.7 1008.5,1534.0 1007.5,1534.0 1007.5,1533.4 1006.5,1533.4 1006.5,1533.2 1005.5,1533.2 1005.5,1533.4 1004.5,1533.4 1004.5,1534.1 1003.5,1534.1 1003.5,1535.2 1002.5,1535.2 1002.5,1535.6 1001.5,1535.6 1001.5,1535.4 1000.5,1535.4 1000.5,1535.2 999.5,1535.2 999.5,1535.0 998.5,1535.0 998.5,1534.8 997.5,1534.8 997.5,1536.9 996.5,1536.9 996.5,1537.2 995.5,1537.2 995.5,1533.5 994.5,1533.5 994.5,1533.9 993.5,1533.9 993.5,1535.5 992.5,1535.5 992.5,1536.1 991.5,1536.1 991.5,1535.7 990.5,1535.7 990.5,1535.5 989.5,1535.5 989.5,1535.4 988.5,1535.4 988.5,1535.3 987.5,1535.3 987.5,1535.2 986.5,1535.2 986.5,1534.5 985.5,1534.5 985.5,1533.2 984.5,1533.2 984.5,1533.2 983.5,1533.2 983.5,1534.8 982.5,1534.8 982.5,1535.2 981.5,1535.2 981.5,1534.7 980.5,1534.7 980.5,1534.3 979.5,1534.3 979.5,1534.0 978.5,1534.0 978.5,1534.2 977.5,1534.2 977.5,1535.0 976.5,1535.0 976.5,1535.1 975.5,1535.1 975.5,1534.7 974.5,1534.7 974.5,1535.0 973.5,1535.0 973.5,1536.0 972.5,1536.0 972.5,1536.2 971.5,1536.2 971.5,1535.5 970.5,1535.5 970.5,1535.0 969.5,1535.0 969.5,1534.6 968.5,1534.6 968.5,1534.8 967.5,1534.8 967.5,1535.4 966.5,1535.4 966.5,1537.1 965.5,1537.1 965.5,1537.7 964.5,1537.7 964.5,1538.2 963.5,1538.2 963.5,1535.1 962.5,1535.1 962.5,1537.1 961.5,1537.1 961.5,1535.2 960.5,1535.2 960.5,1535.3 959.5,1535.3 959.5,1535.5 958.5,1535.5 958.5,1535.0 957.5,1535.0 957.5,1533.9 956.5,1533.9 956.5,1532.8 955.5,1532.8 955.5,1531.8 954.5,1531.8 954.5,1531.8 953.5,1531.8 953.5,1533.0 952.5,1533.0 952.5,1533.7 951.5,1533.7 951.5,1533.8 950.5,1533.8 950.5,1533.9 949.5,1533.9 949.5,1533.8 948.5,1533.8 948.5,1533.7 947.5,1533.7 947.5,1533.7 946.5,1533.7 946.5,1534.0 945.5,1534.0 945.5,1534.6 944.5,1534.6 944.5,1535.1 943.5,1535.1 943.5,1535.5 942.5,1535.5 942.5,1535.1 941.5,1535.1 941.5,1533.9 940.5,1533.9 940.5,1533.3 939.5,1533.3 939.5,1533.5 938.5,1533.5 938.5,1534.1 937.5,1534.1 937.5,1535.0 936.5,1535.0 936.5,1535.0 935.5,1535.0 935.5,1534.1 934.5,1534.1 934.5,1534.5 933.5,1534.5 933.5,1536.3 932.5,1536.3 932.5,1536.7 931.5,1536.7 931.5,1535.9 930.5,1535.9 930.5,1535.0 929.5,1535.0 929.5,1534.2 928.5,1534.2 928.5,1533.9 927.5,1533.9 927.5,1534.1 926.5,1534.1 926.5,1534.1 925.5,1534.1 925.5,1537.1 924.5,1537.1 924.5,1538.0 923.5,1538.0 923.5,1533.4 922.5,1533.4 922.5,1533.4 921.5,1533.4 921.5,1533.6 920.5,1533.6 920.5,1535.5 919.5,1535.5 919.5,1536.8 918.5,1536.8 918.5,1535.3 917.5,1535.3 917.5,1535.6 916.5,1535.6 916.5,1535.9 915.5,1535.9 915.5,1536.2 914.5,1536.2 914.5,1535.8 913.5,1535.8 913.5,1534.9 912.5,1534.9 912.5,1534.7 911.5,1534.7 911.5,1535.2 910.5,1535.2 910.5,1535.2 909.5,1535.2 909.5,1534.6 908.5,1534.6 908.5,1534.8 907.5,1534.8 907.5,1535.8 906.5,1535.8 906.5,1536.0 905.5,1536.0 905.5,1535.5 904.5,1535.5 904.5,1535.7 903.5,1535.7 903.5,1536.4 902.5,1536.4 902.5,1539.1 901.5,1539.1 901.5,1536.4 900.5,1536.4 900.5,1535.5 899.5,1535.5 899.5,1535.7 898.5,1535.7 898.5,1536.5 897.5,1536.5 897.5,1538.8 896.5,1538.8 896.5,1535.8 895.5,1535.8 895.5,1535.5 894.5,1535.5 894.5,1537.4 893.5,1537.4 893.5,1535.7 892.5,1535.7 892.5,1536.1 891.5,1536.1 891.5,1536.6 890.5,1536.6 890.5,1536.4 889.5,1536.4 889.5,1535.4 888.5,1535.4 888.5,1535.3 887.5,1535.3 887.5,1536.0 886.5,1536.0 886.5,1540.8 885.5,1540.8 885.5,1536.2 884.5,1536.2 884.5,1535.9 883.5,1535.9 883.5,1535.3 882.5,1535.3 882.5,1537.7 881.5,1537.7 881.5,1538.2 880.5,1538.2 880.5,1534.3 879.5,1534.3 879.5,1534.7 878.5,1534.7 878.5,1536.4 877.5,1536.4 877.5,1536.7 876.5,1536.7 876.5,1534.1 875.5,1534.1 875.5,1535.2 874.5,1535.2 874.5,1535.9 873.5,1535.9 873.5,1534.5 872.5,1534.5 872.5,1534.7 871.5,1534.7 871.5,1534.1 870.5,1534.1 870.5,1534.6 869.5,1534.6 869.5,1536.3 868.5,1536.3 868.5,1536.9 867.5,1536.9 867.5,1536.5 866.5,1536.5 866.5,1535.8 865.5,1535.8 865.5,1534.8 864.5,1534.8 864.5,1534.4 863.5,1534.4 863.5,1534.5 862.5,1534.5 862.5,1534.1 861.5,1534.1 861.5,1533.3 860.5,1533.3 860.5,1533.8 859.5,1533.8 859.5,1535.6 858.5,1535.6 858.5,1536.1 857.5,1536.1 857.5,1538.4 856.5,1538.4 856.5,1538.9 855.5,1538.9 855.5,1534.3 854.5,1534.3 854.5,1534.2 853.5,1534.2 853.5,1534.3 852.5,1534.3 852.5,1534.2 851.5,1534.2 851.5,1533.9 850.5,1533.9 850.5,1534.4 849.5,1534.4 849.5,1535.7 848.5,1535.7 848.5,1536.1 847.5,1536.1 847.5,1535.6 846.5,1535.6 846.5,1535.1 845.5,1535.1 845.5,1536.9 844.5,1536.9 844.5,1537.6 843.5,1537.6 843.5,1535.2 842.5,1535.2 842.5,1534.3 841.5,1534.3 841.5,1532.2 840.5,1532.2 840.5,1532.2 839.5,1532.2 839.5,1534.3 838.5,1534.3 838.5,1535.6 837.5,1535.6 837.5,1536.3 836.5,1536.3 836.5,1538.4 835.5,1538.4 835.5,1537.8 834.5,1537.8 834.5,1535.7 833.5,1535.7 833.5,1533.6 832.5,1533.6 832.5,1534.0 831.5,1534.0 831.5,1534.9 830.5,1534.9 830.5,1535.1 829.5,1535.1 829.5,1534.9 828.5,1534.9 828.5,1534.4 827.5,1534.4 827.5,1533.8 826.5,1533.8 826.5,1533.6 825.5,1533.6 825.5,1533.9 824.5,1533.9 824.5,1533.7 823.5,1533.7 823.5,1532.1 822.5,1532.1 822.5,1532.2 821.5,1532.2 821.5,1532.2 820.5,1532.2 820.5,1532.4 819.5,1532.4 819.5,1532.9 818.5,1532.9 818.5,1532.4 817.5,1532.4 817.5,1531.0 816.5,1531.0 816.5,1531.4 815.5,1531.4 815.5,1533.7 814.5,1533.7 814.5,1535.3 813.5,1535.3 813.5,1536.3 812.5,1536.3 812.5,1551.9 811.5,1551.9 811.5,1551.0 810.5,1551.0 810.5,1551.0 809.5,1551.0 809.5,1551.0 808.5,1551.0 808.5,1551.0 807.5,1551.0 807.5,1551.0 806.5,1551.0 806.5,1551.0 805.5,1551.0 805.5,1551.0 804.5,1551.0 804.5,1551.0 803.5,1551.0 803.5,1551.0 802.5,1551.0 802.5,1551.0 801.5,1551.0 801.5,1551.0 800.5,1551.0 800.5,1551.0 799.5,1551.0 799.5,1551.0 798.5,1551.0 798.5,1551.0 797.5,1551.0 797.5,1551.0 796.5,1551.0 796.5,1551.0 795.5,1551.0 795.5,1551.0 794.5,1551.0 794.5,1551.0 793.5,1551.0 793.5,1551.0 792.5,1551.0 792.5,1551.0 791.5,1551.0 791.5,1551.0 790.5,1551.0 790.5,1551.0 789.5,1551.0 789.5,1551.0 788.5,1551.0 788.5,1551.0 787.5,1551.0 787.5,1551.0 786.5,1551.0 786.5,1551.0 785.5,1551.0 785.5,1551.0 784.5,1551.0 784.5,1551.0 783.5,1551.0 783.5,1551.0 782.5,1551.0 782.5,1551.0 781.5,1551.0 781.5,1551.0 780.5,1551.0 780.5,1551.0 779.5,1551.0 779.5,1551.0 778.5,1551.0 778.5,1551.0 777.5,1551.0 777.5,1551.0 776.5,1551.0 776.5,1551.0 775.5,1551.0 775.5,1551.0 774.5,1551.0 774.5,1551.0 773.5,1551.0 773.5,1551.0 772.5,1551.0 772.5,1551.0 771.5,1551.0 771.5,1551.0 770.5,1551.0 770.5,1551.0 769.5,1551.0 769.5,1551.0 768.5,1551.0 768.5,1551.0 767.5,1551.0 767.5,1551.0 766.5,1551.0 766.5,1551.0 765.5,1551.0 765.5,1551.0 764.5,1551.0 764.5,1551.0 763.5,1551.0 763.5,1551.0 762.5,1551.0 762.5,1551.0 761.5,1551.0 761.5,1551.0 760.5,1551.0 760.5,1551.0 759.5,1551.0 759.5,1551.0 758.5,1551.0 758.5,1551.0 757.5,1551.0 757.5,1551.0 756.5,1551.0 756.5,1551.0 755.5,1551.0 755.5,1551.0 754.5,1551.0 754.5,1551.0 753.5,1551.0 753.5,1551.0 752.5,1551.0 752.5,1551.0 751.5,1551.0 751.5,1551.0 750.5,1551.0 750.5,1551.0 749.5,1551.0 749.5,1551.0 748.5,1551.0 748.5,1551.0 747.5,1551.0 747.5,1551.0 746.5,1551.0 746.5,1551.0 745.5,1551.0 745.5,1551.0 744.5,1551.0 744.5,1551.0 743.5,1551.0 743.5,1551.0 742.5,1551.0 742.5,1551.0 741.5,1551.0 741.5,1551.0 740.5,1551.0 740.5,1551.0 739.5,1551.0 739.5,1551.0 738.5,1551.0 738.5,1551.0 737.5,1551.0 737.5,1551.0 736.5,1551.0 736.5,1551.0 735.5,1551.0 735.5,1551.0 734.5,1551.0 734.5,1551.0 733.5,1551.0 733.5,1551.0 732.5,1551.0 732.5,1551.0 731.5,1551.0 731.5,1551.0 730.5,1551.0 730.5,1551.0 729.5,1551.0 729.5,1551.0 728.5,1551.0 728.5,1551.0 727.5,1551.0 727.5,1551.0 726.5,1551.0 726.5,1551.0 725.5,1551.0 725.5,1551.0 724.5,1551.0 724.5,1551.0 723.5,1551.0 723.5,1551.0 722.5,1551.0 722.5,1551.0 721.5,1551.0 721.5,1551.0 720.5,1551.0 720.5,1551.0 719.5,1551.0 719.5,1551.0 718.5,1551.0 718.5,1551.0 717.5,1551.0 717.5,1551.0 716.5,1551.0 716.5,1551.0 715.5,1551.0 715.5,1551.0 714.5,1551.0 714.5,1551.0 713.5,1551.0 713.5,1551.0 712.5,1551.0 712.5,1551.0 711.5,1551.0 711.5,1551.0 710.5,1551.0 710.5,1551.0 709.5,1551.0 709.5,1551.0 708.5,1551.0 708.5,1551.0 707.5,1551.0 707.5,1551.0 706.5,1551.0 706.5,1551.0 705.5,1551.0 705.5,1551.0 704.5,1551.0 704.5,1551.0 703.5,1551.0 703.5,1551.0 702.5,1551.0 702.5,1551.0 701.5,1551.0 701.5,1551.0 700.5,1551.0 700.5,1551.0 699.5,1551.0 699.5,1551.0 698.5,1551.0 698.5,1551.0 697.5,1551.0 697.5,1551.0 696.5,1551.0 696.5,1551.0 695.5,1551.0 695.5,1551.0 694.5,1551.0 694.5,1551.0 693.5,1551.0 693.5,1551.0 692.5,1551.0 692.5,1551.0 691.5,1551.0 691.5,1551.0 690.5,1551.0 690.5,1551.0 689.5,1551.0 689.5,1551.0 688.5,1551.0 688.5,1551.0 687.5,1551.0 687.5,1551.0 686.5,1551.0 686.5,1551.0 685.5,1551.0 685.5,1551.0 684.5,1551.0 684.5,1551.0 683.5,1551.0 683.5,1551.0 682.5,1551.0 682.5,1551.0 681.5,1551.0 681.5,1551.0 680.5,1551.0 680.5,1551.0 679.5,1551.0 679.5,1551.0 678.5,1551.0 678.5,1551.0 677.5,1551.0 677.5,1551.0 676.5,1551.0 676.5,1551.0 675.5,1551.0 675.5,1551.0 674.5,1551.0 674.5,1551.0 673.5,1551.0 673.5,1551.0 672.5,1551.0 672.5,1551.0 671.5,1551.0 671.5,1551.0 670.5,1551.0 670.5,1551.0 669.5,1551.0 669.5,1551.0 668.5,1551.0 668.5,1551.0 667.5,1551.0 667.5,1551.0 666.5,1551.0 666.5,1551.0 665.5,1551.0 665.5,1551.0 664.5,1551.0 664.5,1551.0 663.5,1551.0 663.5,1551.0 662.5,1551.0 662.5,1551.0 661.5,1551.0 661.5,1551.0 660.5,1551.0 660.5,1551.0 659.5,1551.0 659.5,1551.0 658.5,1551.0 658.5,1551.0 657.5,1551.0 657.5,1551.0 656.5,1551.0 656.5,1551.0 655.5,1551.0 655.5,1551.0 654.5,1551.0 654.5,1551.0 653.5,1551.0 653.5,1551.0 652.5,1551.0 652.5,1551.0 651.5,1551.0 651.5,1551.0 650.5,1551.0 650.5,1551.0 649.5,1551.0 649.5,1551.0 648.5,1551.0 648.5,1551.0 647.5,1551.0 647.5,1551.0 646.5,1551.0 646.5,1551.0 645.5,1551.0 645.5,1551.0 644.5,1551.0 644.5,1551.0 643.5,1551.0 643.5,1551.0 642.5,1551.0 642.5,1551.0 641.5,1551.0 641.5,1551.0 640.5,1551.0 640.5,1551.0 639.5,1551.0 639.5,1551.0 638.5,1551.0 638.5,1551.0 637.5,1551.0 637.5,1551.0 636.5,1551.0 636.5,1551.0 635.5,1551.0 635.5,1551.0 634.5,1551.0 634.5,1551.0 633.5,1551.0 633.5,1551.0 632.5,1551.0 632.5,1551.0 631.5,1551.0 631.5,1551.0 630.5,1551.0 630.5,1551.0 629.5,1551.0 629.5,1551.0 628.5,1551.0 628.5,1551.0 627.5,1551.0 627.5,1551.0 626.5,1551.0 626.5,1551.0 625.5,1551.0 625.5,1551.0 624.5,1551.0 624.5,1551.0 623.5,1551.0 623.5,1551.0 622.5,1551.0 622.5,1551.0 621.5,1551.0 621.5,1551.0 620.5,1551.0 620.5,1551.0 619.5,1551.0 619.5,1551.0 618.5,1551.0 618.5,1551.0 617.5,1551.0 617.5,1551.0 616.5,1551.0 616.5,1551.0 615.5,1551.0 615.5,1551.0 614.5,1551.0 614.5,1551.0 613.5,1551.0 613.5,1551.0 612.5,1551.0 612.5,1551.0 611.5,1551.0 611.5,1551.0 610.5,1551.0 610.5,1551.0 609.5,1551.0 609.5,1551.0 608.5,1551.0 608.5,1551.0 607.5,1551.0 607.5,1551.0 606.5,1551.0 606.5,1551.0 605.5,1551.0 605.5,1551.0 604.5,1551.0 604.5,1551.0 603.5,1551.0 603.5,1551.0 602.5,1551.0 602.5,1551.0 601.5,1551.0 601.5,1551.0 600.5,1551.0 600.5,1551.0 599.5,1551.0 599.5,1551.0 598.5,1551.0 598.5,1551.0 597.5,1551.0 597.5,1551.0 596.5,1551.0 596.5,1551.0 595.5,1551.0 595.5,1551.0 594.5,1551.0 594.5,1551.0 593.5,1551.0 593.5,1551.0 592.5,1551.0 592.5,1551.0 591.5,1551.0 591.5,1551.0 590.5,1551.0 590.5,1551.0 589.5,1551.0 589.5,1551.0 588.5,1551.0 588.5,1551.0 587.5,1551.0 587.5,1551.0 586.5,1551.0 586.5,1551.0 585.5,1551.0 585.5,1551.0 584.5,1551.0 584.5,1551.0 583.5,1551.0 583.5,1551.0 582.5,1551.0 582.5,1551.0 581.5,1551.0 581.5,1551.0 580.5,1551.0 580.5,1551.0 579.5,1551.0 579.5,1551.0 578.5,1551.0 578.5,1551.0 577.5,1551.0 577.5,1551.0 576.5,1551.0 576.5,1551.0 575.5,1551.0 575.5,1551.0 574.5,1551.0 574.5,1551.0 573.5,1551.0 573.5,1551.0 572.5,1551.0 572.5,1551.0 571.5,1551.0 571.5,1551.0 570.5,1551.0 570.5,1551.0 569.5,1551.0 569.5,1551.0 568.5,1551.0 568.5,1551.0 567.5,1551.0 567.5,1551.0 566.5,1551.0 566.5,1551.0 565.5,1551.0 565.5,1551.0 564.5,1551.0 564.5,1551.0 563.5,1551.0 563.5,1551.0 562.5,1551.0 562.5,1551.0 562.0,1551.0 562.0,1551.0 561.0,1551.0 561.0,1551.0 560.0,1551.0 560.0,1551.0 559.0,1551.0 559.0,1551.0 558.0,1551.0 558.0,1551.0 557.0,1551.0 557.0,1551.0 556.0,1551.0 556.0,1551.0 555.0,1551.0 555.0,1551.0 554.0,1551.0 554.0,1551.0 553.0,1551.0 553.0,1551.0 552.0,1551.0 552.0,1551.0 551.0,1551.0 551.0,1551.0 550.0,1551.0 550.0,1551.0 549.0,1551.0 549.0,1551.0 548.0,1551.0 548.0,1551.0 547.0,1551.0 547.0,1551.0 546.0,1551.0 546.0,1551.0 545.0,1551.0 545.0,1551.0 544.0,1551.0 544.0,1551.0 543.0,1551.0 543.0,1551.0 542.0,1551.0 542.0,1551.0 541.0,1551.0 541.0,1551.0 540.0,1551.0 540.0,1551.0 539.0,1551.0 539.0,1551.0 538.0,1551.0 538.0,1551.0 537.0,1551.0 537.0,1551.0 536.0,1551.0 536.0,1551.0 535.0,1551.0 535.0,1551.0 534.0,1551.0 534.0,1551.0 533.0,1551.0 533.0,1551.0 532.0,1551.0 532.0,1551.0 531.0,1551.0 531.0,1551.0 530.0,1551.0 530.0,1551.0 529.0,1551.0 529.0,1551.0 528.0,1551.0 528.0,1551.0 527.0,1551.0 527.0,1551.0 526.0,1551.0 526.0,1551.0 525.0,1551.0 525.0,1551.0 524.0,1551.0 524.0,1551.0 523.0,1551.0 523.0,1551.0 522.0,1551.0 522.0,1551.0 521.0,1551.0 521.0,1551.0 520.0,1551.0 520.0,1551.0 519.0,1551.0 519.0,1551.0 518.0,1551.0 518.0,1551.0 517.0,1551.0 517.0,1551.0 516.0,1551.0 516.0,1551.0 515.0,1551.0 515.0,1551.0 514.0,1551.0 514.0,1551.0 513.0,1551.0 513.0,1551.0 512.0,1551.0 512.0,1551.0 511.0,1551.0 511.0,1551.0 510.0,1551.0 510.0,1551.0 509.0,1551.0 509.0,1551.0 508.0,1551.0 508.0,1551.0 507.0,1551.0 507.0,1551.0 506.0,1551.0 506.0,1551.0 505.0,1551.0 505.0,1551.0 504.0,1551.0 504.0,1551.0 503.0,1551.0 503.0,1551.0 502.0,1551.0 502.0,1551.0 501.0,1551.0 501.0,1551.0 500.0,1551.0 500.0,1551.0 499.0,1551.0 499.0,1551.0 498.0,1551.0 498.0,1551.0 497.0,1551.0 497.0,1551.0 496.0,1551.0 496.0,1551.0 495.0,1551.0 495.0,1551.0 494.0,1551.0 494.0,1551.0 493.0,1551.0 493.0,1551.0 492.0,1551.0 492.0,1551.0 491.0,1551.0 491.0,1551.0 490.0,1551.0 490.0,1551.0 489.0,1551.0 489.0,1551.0 488.0,1551.0 488.0,1551.0 487.0,1551.0 487.0,1551.0 486.0,1551.0 486.0,1551.0 485.0,1551.0 485.0,1551.0 484.0,1551.0 484.0,1551.0 483.0,1551.0 483.0,1551.0 482.0,1551.0 482.0,1551.0 481.0,1551.0 481.0,1551.0 480.0,1551.0 480.0,1551.0 479.0,1551.0 479.0,1551.0 478.0,1551.0 478.0,1551.0 477.0,1551.0 477.0,1551.0 476.0,1551.0 476.0,1551.0 475.0,1551.0 475.0,1551.0 474.0,1551.0 474.0,1551.0 473.0,1551.0 473.0,1551.0 472.0,1551.0 472.0,1551.0 471.0,1551.0 471.0,1551.0 470.0,1551.0 470.0,1551.0 469.0,1551.0 469.0,1551.0 468.0,1551.0 468.0,1551.0 467.0,1551.0 467.0,1551.0 466.0,1551.0 466.0,1551.0 465.0,1551.0 465.0,1551.0 464.0,1551.0 464.0,1551.0 463.0,1551.0 463.0,1551.0 462.0,1551.0 462.0,1551.0 461.0,1551.0 461.0,1551.0 460.0,1551.0 460.0,1551.0 459.0,1551.0 459.0,1551.0 458.0,1551.0 458.0,1551.0 457.0,1551.0 457.0,1551.0 456.0,1551.0 456.0,1551.0 455.0,1551.0 455.0,1551.0 454.0,1551.0 454.0,1551.0 453.0,1551.0 453.0,1551.0 452.0,1551.0 452.0,1551.0 451.0,1551.0 451.0,1551.0 450.0,1551.0 450.0,1551.0 449.0,1551.0 449.0,1551.0 448.0,1551.0 448.0,1551.0 447.0,1551.0 447.0,1551.0 446.0,1551.0 446.0,1551.0 445.0,1551.0 445.0,1551.0 444.0,1551.0 444.0,1551.0 443.0,1551.0 443.0,1551.0 442.0,1551.0 442.0,1551.0 441.0,1551.0 441.0,1551.0 440.0,1551.0 440.0,1551.0 439.0,1551.0 439.0,1551.0 438.0,1551.0 438.0,1551.0 437.0,1551.0 437.0,1551.0 436.0,1551.0 436.0,1551.0 435.0,1551.0 435.0,1551.0 434.0,1551.0 434.0,1551.0 433.0,1551.0 433.0,1551.0 432.0,1551.0 432.0,1551.0 431.0,1551.0 431.0,1551.0 430.0,1551.0 430.0,1551.0 429.0,1551.0 429.0,1551.0 428.0,1551.0 428.0,1551.0 427.0,1551.0 427.0,1551.0 426.0,1551.0 426.0,1551.0 425.0,1551.0 425.0,1551.0 424.0,1551.0 424.0,1551.0 423.0,1551.0 423.0,1551.0 422.0,1551.0 422.0,1551.0 421.0,1551.0 421.0,1551.0 420.0,1551.0 420.0,1551.0 419.0,1551.0 419.0,1551.0 418.0,1551.0 418.0,1551.0 417.0,1551.0 417.0,1551.0 416.0,1551.0 416.0,1551.0 415.0,1551.0 415.0,1551.0 414.0,1551.0 414.0,1551.0 413.0,1551.0 413.0,1551.0 412.0,1551.0 412.0,1551.0 411.0,1551.0 411.0,1551.0 410.0,1551.0 410.0,1551.0 409.0,1551.0 409.0,1551.0 408.0,1551.0 408.0,1551.0 407.0,1551.0 407.0,1551.0 406.0,1551.0 406.0,1551.0 405.0,1551.0 405.0,1551.0 404.0,1551.0 404.0,1551.0 403.0,1551.0 403.0,1551.0 402.0,1551.0 402.0,1551.0 401.0,1551.0 401.0,1551.0 400.0,1551.0 400.0,1551.0 399.0,1551.0 399.0,1551.0 398.0,1551.0 398.0,1551.0 397.0,1551.0 397.0,1551.0 396.0,1551.0 396.0,1551.0 395.0,1551.0 395.0,1551.0 394.0,1551.0 394.0,1551.0 393.0,1551.0 393.0,1551.0 392.0,1551.0 392.0,1551.0 391.0,1551.0 391.0,1551.0 390.0,1551.0 390.0,1551.0 389.0,1551.0 389.0,1551.0 388.0,1551.0 388.0,1551.0 387.0,1551.0 387.0,1551.0 386.0,1551.0 386.0,1551.0 385.0,1551.0 385.0,1551.0 384.0,1551.0 384.0,1551.0 383.0,1551.0 383.0,1551.0 382.0,1551.0 382.0,1551.0 381.0,1551.0 381.0,1551.0 380.0,1551.0 380.0,1551.0 379.0,1551.0 379.0,1551.0 378.0,1551.0 378.0,1551.0 377.0,1551.0 377.0,1551.0 376.0,1551.0 376.0,1551.0 375.0,1551.0 375.0,1551.0 374.0,1551.0 374.0,1551.0 373.0,1551.0 373.0,1551.0 372.0,1551.0 372.0,1551.0 371.0,1551.0 371.0,1551.0 370.0,1551.0 370.0,1551.0 369.0,1551.0 369.0,1551.0 368.0,1551.0 368.0,1551.0 367.0,1551.0 367.0,1551.0 366.0,1551.0 366.0,1551.0 365.0,1551.0 365.0,1551.0 364.0,1551.0 364.0,1551.0 363.0,1551.0 363.0,1551.0 362.0,1551.0 362.0,1551.0 361.0,1551.0 361.0,1551.0 360.0,1551.0 360.0,1551.0 359.0,1551.0 359.0,1551.0 358.0,1551.0 358.0,1551.0 357.0,1551.0 357.0,1551.0 356.0,1551.0 356.0,1551.0 355.0,1551.0 355.0,1551.0 354.0,1551.0 354.0,1551.0 353.0,1551.0 353.0,1551.0 352.0,1551.0 352.0,1551.0 351.0,1551.0 351.0,1551.0 350.0,1551.0 350.0,1551.0 349.0,1551.0 349.0,1551.0 348.0,1551.0 348.0,1551.0 347.0,1551.0 347.0,1551.0 346.0,1551.0 346.0,1551.0 345.0,1551.0 345.0,1551.0 344.0,1551.0 344.0,1551.0 343.0,1551.0 343.0,1551.0 342.0,1551.0 342.0,1551.0 341.0,1551.0 341.0,1551.0 340.0,1551.0 340.0,1551.0 339.0,1551.0 339.0,1551.0 338.0,1551.0 338.0,1551.0 337.0,1551.0 337.0,1551.0 336.0,1551.0 336.0,1551.0 335.0,1551.0 335.0,1551.0 334.0,1551.0 334.0,1551.0 333.0,1551.0 333.0,1551.0 332.0,1551.0 332.0,1551.0 331.0,1551.0 331.0,1551.0 330.0,1551.0 330.0,1551.0 329.0,1551.0 329.0,1551.0 328.0,1551.0 328.0,1551.0 327.0,1551.0 327.0,1551.0 326.0,1551.0 326.0,1551.0 325.0,1551.0 325.0,1551.0 324.0,1551.0 324.0,1551.0 323.0,1551.0 323.0,1551.0 322.0,1551.0 322.0,1551.0 321.0,1551.0 321.0,1551.0 320.0,1551.0 320.0,1551.0 319.0,1551.0 319.0,1551.0 318.0,1551.0 318.0,1551.0 317.0,1551.0 317.0,1551.0 316.0,1551.0 316.0,1551.0 315.0,1551.0 315.0,1551.0 314.0,1551.0 314.0,1551.0 313.0,1551.0Z" fill="#000" stroke="#000" stroke-width="1.2" stroke-linejoin="round"/>
<rect x="308.8" y="851.0" width="1960.2" height="701.0" fill="none" stroke="#000" stroke-width="9"/>
<text x="509" y="932.5" font-size="72" font-weight="bold" textLength="376" lengthAdjust="spacingAndGlyphs">PtPd/Al<tspan dy="20" font-size="50">2</tspan><tspan dy="-20">O</tspan><tspan dy="20" font-size="50">3</tspan></text>
<rect x="312.0" y="846.3" width="250.0" height="705.2" fill="rgb(139,195,83)" fill-opacity="0.250"/>
<rect x="562.0" y="846.3" width="263.0" height="705.2" fill="rgb(195,147,243)" fill-opacity="0.250"/>
<rect x="825.0" y="846.3" width="235.0" height="705.2" fill="rgb(139,195,83)" fill-opacity="0.250"/>
<rect x="1060.0" y="846.3" width="238.5" height="705.2" fill="rgb(3,171,231)" fill-opacity="0.250"/>
<rect x="1298.5" y="846.3" width="236.0" height="705.2" fill="rgb(195,147,243)" fill-opacity="0.250"/>
<rect x="1534.5" y="846.3" width="241.5" height="705.2" fill="rgb(3,171,231)" fill-opacity="0.250"/>
<rect x="1776.0" y="846.3" width="241.0" height="705.2" fill="rgb(231,119,47)" fill-opacity="0.250"/>
<rect x="2017.0" y="846.3" width="247.0" height="705.2" fill="rgb(3,171,231)" fill-opacity="0.250"/>
<line x1="308.8" y1="846.5" x2="308.8" y2="1556.5" stroke="#000" stroke-width="9"/>
<line x1="2269.0" y1="846.5" x2="2269.0" y2="1556.5" stroke="#000" stroke-width="9"/>
<line x1="279.5" y1="1552.0" x2="308.8" y2="1552.0" stroke="#000" stroke-width="9"/>
<line x1="279.5" y1="1352.0" x2="308.8" y2="1352.0" stroke="#000" stroke-width="9"/>
<line x1="279.5" y1="1152.0" x2="308.8" y2="1152.0" stroke="#000" stroke-width="9"/>
<line x1="279.5" y1="952.0" x2="308.8" y2="952.0" stroke="#000" stroke-width="9"/>
<line x1="295.0" y1="1452.0" x2="308.8" y2="1452.0" stroke="#000" stroke-width="9"/>
<line x1="295.0" y1="1252.0" x2="308.8" y2="1252.0" stroke="#000" stroke-width="9"/>
<line x1="295.0" y1="1052.0" x2="308.8" y2="1052.0" stroke="#000" stroke-width="9"/>
<line x1="295.0" y1="852.0" x2="308.8" y2="852.0" stroke="#000" stroke-width="9"/>
<line x1="308.6" y1="1552.0" x2="308.6" y2="1583.5" stroke="#000" stroke-width="9"/>
<line x1="708.8" y1="1552.0" x2="708.8" y2="1583.5" stroke="#000" stroke-width="9"/>
<line x1="1108.9" y1="1552.0" x2="1108.9" y2="1583.5" stroke="#000" stroke-width="9"/>
<line x1="1509.1" y1="1552.0" x2="1509.1" y2="1583.5" stroke="#000" stroke-width="9"/>
<line x1="1909.3" y1="1552.0" x2="1909.3" y2="1583.5" stroke="#000" stroke-width="9"/>
<line x1="508.7" y1="1552.0" x2="508.7" y2="1568.0" stroke="#000" stroke-width="9"/>
<line x1="908.9" y1="1552.0" x2="908.9" y2="1568.0" stroke="#000" stroke-width="9"/>
<line x1="1309.0" y1="1552.0" x2="1309.0" y2="1568.0" stroke="#000" stroke-width="9"/>
<line x1="1709.2" y1="1552.0" x2="1709.2" y2="1568.0" stroke="#000" stroke-width="9"/>
<line x1="2109.4" y1="1552.0" x2="2109.4" y2="1568.0" stroke="#000" stroke-width="9"/>
<text transform="translate(260.3,1575.5) scale(0.962,1)" font-size="84" font-weight="bold" text-anchor="end">0</text>
<text transform="translate(260.3,1375.5) scale(0.962,1)" font-size="84" font-weight="bold" text-anchor="end">50</text>
<text transform="translate(260.3,1175.5) scale(0.962,1)" font-size="84" font-weight="bold" text-anchor="end">100</text>
<text transform="translate(260.3,975.5) scale(0.962,1)" font-size="84" font-weight="bold" text-anchor="end">150</text>
<text transform="translate(308.1,1669.4) scale(0.962,1)" font-size="84" font-weight="bold" text-anchor="middle">0</text>
<text transform="translate(708.3,1669.4) scale(0.962,1)" font-size="84" font-weight="bold" text-anchor="middle">100</text>
<text transform="translate(1108.4,1669.4) scale(0.962,1)" font-size="84" font-weight="bold" text-anchor="middle">200</text>
<text transform="translate(1508.6,1669.4) scale(0.962,1)" font-size="84" font-weight="bold" text-anchor="middle">300</text>
<text transform="translate(1908.8,1669.4) scale(0.962,1)" font-size="84" font-weight="bold" text-anchor="middle">400</text>
<text x="338" y="934" font-size="100" textLength="106" lengthAdjust="spacingAndGlyphs">(a)</text>
<circle cx="374.3" cy="1401.0" r="45.0" fill="none" stroke="#000" stroke-width="3.8"/><text x="374.3" y="1430.0" font-size="81.0" text-anchor="middle" stroke="rgb(226,240,212)" stroke-width="2.2">1</text>
<circle cx="632.9" cy="1401.0" r="45.0" fill="none" stroke="#000" stroke-width="3.8"/><text x="632.9" y="1430.0" font-size="81.0" text-anchor="middle" stroke="rgb(240,228,252)" stroke-width="2.2">2</text>
<circle cx="888.4" cy="1401.0" r="45.0" fill="none" stroke="#000" stroke-width="3.8"/><text x="888.4" y="1430.0" font-size="81.0" text-anchor="middle" stroke="rgb(226,240,212)" stroke-width="2.2">3</text>
<circle cx="1143.7" cy="1401.0" r="45.0" fill="none" stroke="#000" stroke-width="3.8"/><text x="1143.7" y="1430.0" font-size="81.0" text-anchor="middle" stroke="rgb(192,234,249)" stroke-width="2.2">4</text>
<circle cx="1402.4" cy="1401.0" r="45.0" fill="none" stroke="#000" stroke-width="3.8"/><text x="1402.4" y="1430.0" font-size="81.0" text-anchor="middle" stroke="rgb(240,228,252)" stroke-width="2.2">5</text>
<circle cx="1657.6" cy="1401.0" r="45.0" fill="none" stroke="#000" stroke-width="3.8"/><text x="1657.6" y="1430.0" font-size="81.0" text-anchor="middle" stroke="rgb(192,234,249)" stroke-width="2.2">6</text>
<circle cx="1916.0" cy="1401.0" r="45.0" fill="none" stroke="#000" stroke-width="3.8"/><text x="1916.0" y="1430.0" font-size="81.0" text-anchor="middle" stroke="rgb(249,221,203)" stroke-width="2.2">7</text>
<circle cx="2171.4" cy="1401.0" r="45.0" fill="none" stroke="#000" stroke-width="3.8"/><text x="2171.4" y="1430.0" font-size="81.0" text-anchor="middle" stroke="rgb(192,234,249)" stroke-width="2.2">8</text>
<line x1="313.8" y1="2265.3" x2="2263.0" y2="2265.3" stroke="#aaa" stroke-width="3" stroke-dasharray="8.5,8.9" fill="none"/>
<line x1="313.8" y1="2071.9" x2="2263.0" y2="2071.9" stroke="#aaa" stroke-width="3" stroke-dasharray="8.5,8.9" fill="none"/>
<line x1="313.8" y1="1876.5" x2="2263.0" y2="1876.5" stroke="#aaa" stroke-width="3" stroke-dasharray="8.5,8.9" fill="none"/>
<line x1="708.8" y1="1762.0" x2="708.8" y2="2452.9" stroke="#aaa" stroke-width="3" stroke-dasharray="8.5,8.9" fill="none"/>
<line x1="1108.9" y1="1762.0" x2="1108.9" y2="2452.9" stroke="#aaa" stroke-width="3" stroke-dasharray="8.5,8.9" fill="none"/>
<line x1="1509.1" y1="1762.0" x2="1509.1" y2="2452.9" stroke="#aaa" stroke-width="3" stroke-dasharray="8.5,8.9" fill="none"/>
<line x1="1909.3" y1="1762.0" x2="1909.3" y2="2452.9" stroke="#aaa" stroke-width="3" stroke-dasharray="8.5,8.9" fill="none"/>
<path d="M317.0,2449.8 318.0,2449.8 318.0,2449.7 319.0,2449.7 319.0,2449.7 320.0,2449.7 320.0,2449.4 321.0,2449.4 321.0,2449.2 322.0,2449.2 322.0,2448.9 323.0,2448.9 323.0,2448.6 324.0,2448.6 324.0,2449.1 325.0,2449.1 325.0,2448.8 326.0,2448.8 326.0,2448.8 327.0,2448.8 327.0,2446.3 328.0,2446.3 328.0,2447.0 329.0,2447.0 329.0,2446.9 330.0,2446.9 330.0,2447.9 331.0,2447.9 331.0,2448.3 332.0,2448.3 332.0,2448.4 333.0,2448.4 333.0,2448.4 334.0,2448.4 334.0,2448.3 335.0,2448.3 335.0,2446.9 336.0,2446.9 336.0,2447.1 337.0,2447.1 337.0,2448.3 338.0,2448.3 338.0,2448.1 339.0,2448.1 339.0,2447.5 340.0,2447.5 340.0,2448.0 341.0,2448.0 341.0,2448.2 342.0,2448.2 342.0,2448.2 343.0,2448.2 343.0,2448.1 344.0,2448.1 344.0,2448.1 345.0,2448.1 345.0,2446.1 346.0,2446.1 346.0,2448.1 347.0,2448.1 347.0,2448.1 348.0,2448.1 348.0,2446.4 349.0,2446.4 349.0,2446.9 350.0,2446.9 350.0,2447.8 351.0,2447.8 351.0,2447.9 352.0,2447.9 352.0,2448.0 353.0,2448.0 353.0,2447.8 354.0,2447.8 354.0,2446.5 355.0,2446.5 355.0,2447.1 356.0,2447.1 356.0,2447.4 357.0,2447.4 357.0,2447.5 358.0,2447.5 358.0,2447.5 359.0,2447.5 359.0,2447.5 360.0,2447.5 360.0,2447.4 361.0,2447.4 361.0,2447.7 362.0,2447.7 362.0,2447.7 363.0,2447.7 363.0,2447.6 364.0,2447.6 364.0,2447.8 365.0,2447.8 365.0,2447.4 366.0,2447.4 366.0,2447.0 367.0,2447.0 367.0,2447.5 368.0,2447.5 368.0,2447.7 369.0,2447.7 369.0,2447.4 370.0,2447.4 370.0,2447.4 371.0,2447.4 371.0,2447.3 372.0,2447.3 372.0,2445.0 373.0,2445.0 373.0,2447.5 374.0,2447.5 374.0,2447.4 375.0,2447.4 375.0,2447.1 376.0,2447.1 376.0,2447.5 377.0,2447.5 377.0,2447.6 378.0,2447.6 378.0,2447.5 379.0,2447.5 379.0,2447.4 380.0,2447.4 380.0,2445.1 381.0,2445.1 381.0,2444.9 382.0,2444.9 382.0,2446.1 383.0,2446.1 383.0,2444.9 384.0,2444.9 384.0,2445.3 385.0,2445.3 385.0,2447.2 386.0,2447.2 386.0,2447.1 387.0,2447.1 387.0,2447.1 388.0,2447.1 388.0,2447.1 389.0,2447.1 389.0,2447.2 390.0,2447.2 390.0,2446.5 391.0,2446.5 391.0,2447.2 392.0,2447.2 392.0,2445.4 393.0,2445.4 393.0,2445.9 394.0,2445.9 394.0,2446.8 395.0,2446.8 395.0,2445.4 396.0,2445.4 396.0,2445.7 397.0,2445.7 397.0,2446.1 398.0,2446.1 398.0,2447.0 399.0,2447.0 399.0,2446.8 400.0,2446.8 400.0,2447.1 401.0,2447.1 401.0,2447.0 402.0,2447.0 402.0,2446.6 403.0,2446.6 403.0,2446.9 404.0,2446.9 404.0,2446.7 405.0,2446.7 405.0,2445.9 406.0,2445.9 406.0,2446.8 407.0,2446.8 407.0,2447.0 408.0,2447.0 408.0,2446.8 409.0,2446.8 409.0,2446.8 410.0,2446.8 410.0,2446.8 411.0,2446.8 411.0,2446.9 412.0,2446.9 412.0,2446.7 413.0,2446.7 413.0,2446.6 414.0,2446.6 414.0,2446.8 415.0,2446.8 415.0,2446.6 416.0,2446.6 416.0,2446.5 417.0,2446.5 417.0,2446.6 418.0,2446.6 418.0,2446.1 419.0,2446.1 419.0,2446.2 420.0,2446.2 420.0,2446.7 421.0,2446.7 421.0,2446.4 422.0,2446.4 422.0,2446.4 423.0,2446.4 423.0,2446.6 424.0,2446.6 424.0,2446.4 425.0,2446.4 425.0,2446.3 426.0,2446.3 426.0,2446.6 427.0,2446.6 427.0,2446.5 428.0,2446.5 428.0,2446.5 429.0,2446.5 429.0,2446.5 430.0,2446.5 430.0,2446.4 431.0,2446.4 431.0,2446.5 432.0,2446.5 432.0,2446.0 433.0,2446.0 433.0,2446.4 434.0,2446.4 434.0,2445.2 435.0,2445.2 435.0,2444.1 436.0,2444.1 436.0,2445.3 437.0,2445.3 437.0,2446.1 438.0,2446.1 438.0,2446.1 439.0,2446.1 439.0,2446.4 440.0,2446.4 440.0,2446.2 441.0,2446.2 441.0,2446.3 442.0,2446.3 442.0,2446.3 443.0,2446.3 443.0,2446.3 444.0,2446.3 444.0,2446.0 445.0,2446.0 445.0,2446.2 446.0,2446.2 446.0,2446.1 447.0,2446.1 447.0,2446.2 448.0,2446.2 448.0,2445.9 449.0,2445.9 449.0,2445.9 450.0,2445.9 450.0,2446.2 451.0,2446.2 451.0,2446.0 452.0,2446.0 452.0,2446.1 453.0,2446.1 453.0,2446.0 454.0,2446.0 454.0,2446.0 455.0,2446.0 455.0,2445.6 456.0,2445.6 456.0,2443.6 457.0,2443.6 457.0,2445.9 458.0,2445.9 458.0,2445.8 459.0,2445.8 459.0,2445.4 460.0,2445.4 460.0,2445.4 461.0,2445.4 461.0,2445.6 462.0,2445.6 462.0,2445.9 463.0,2445.9 463.0,2445.7 464.0,2445.7 464.0,2445.9 465.0,2445.9 465.0,2445.4 466.0,2445.4 466.0,2445.9 467.0,2445.9 467.0,2445.6 468.0,2445.6 468.0,2445.5 469.0,2445.5 469.0,2445.3 470.0,2445.3 470.0,2445.5 471.0,2445.5 471.0,2445.4 472.0,2445.4 472.0,2445.1 473.0,2445.1 473.0,2445.3 474.0,2445.3 474.0,2445.4 475.0,2445.4 475.0,2445.6 476.0,2445.6 476.0,2445.6 477.0,2445.6 477.0,2444.3 478.0,2444.3 478.0,2444.8 479.0,2444.8 479.0,2445.2 480.0,2445.2 480.0,2444.7 481.0,2444.7 481.0,2444.3 482.0,2444.3 482.0,2444.0 483.0,2444.0 483.0,2443.7 484.0,2443.7 484.0,2444.1 485.0,2444.1 485.0,2444.6 486.0,2444.6 486.0,2443.6 487.0,2443.6 487.0,2443.5 488.0,2443.5 488.0,2445.0 489.0,2445.0 489.0,2443.5 490.0,2443.5 490.0,2444.1 491.0,2444.1 491.0,2445.1 492.0,2445.1 492.0,2445.3 493.0,2445.3 493.0,2445.1 494.0,2445.1 494.0,2445.1 495.0,2445.1 495.0,2445.0 496.0,2445.0 496.0,2445.0 497.0,2445.0 497.0,2444.9 498.0,2444.9 498.0,2444.8 499.0,2444.8 499.0,2444.7 500.0,2444.7 500.0,2444.9 501.0,2444.9 501.0,2445.2 502.0,2445.2 502.0,2444.8 503.0,2444.8 503.0,2444.9 504.0,2444.9 504.0,2445.0 505.0,2445.0 505.0,2444.8 506.0,2444.8 506.0,2443.7 507.0,2443.7 507.0,2444.1 508.0,2444.1 508.0,2444.8 509.0,2444.8 509.0,2444.7 510.0,2444.7 510.0,2444.9 511.0,2444.9 511.0,2444.5 512.0,2444.5 512.0,2444.6 513.0,2444.6 513.0,2444.9 514.0,2444.9 514.0,2444.5 515.0,2444.5 515.0,2444.4 516.0,2444.4 516.0,2444.6 517.0,2444.6 517.0,2444.6 518.0,2444.6 518.0,2444.8 519.0,2444.8 519.0,2443.1 520.0,2443.1 520.0,2443.7 521.0,2443.7 521.0,2444.8 522.0,2444.8 522.0,2444.5 523.0,2444.5 523.0,2441.9 524.0,2441.9 524.0,2442.8 525.0,2442.8 525.0,2444.1 526.0,2444.1 526.0,2444.5 527.0,2444.5 527.0,2444.7 528.0,2444.7 528.0,2444.6 529.0,2444.6 529.0,2444.4 530.0,2444.4 530.0,2444.6 531.0,2444.6 531.0,2444.2 532.0,2444.2 532.0,2444.6 533.0,2444.6 533.0,2444.4 534.0,2444.4 534.0,2442.2 535.0,2442.2 535.0,2443.9 536.0,2443.9 536.0,2444.0 537.0,2444.0 537.0,2444.4 538.0,2444.4 538.0,2444.4 539.0,2444.4 539.0,2444.5 540.0,2444.5 540.0,2444.3 541.0,2444.3 541.0,2444.2 542.0,2444.2 542.0,2444.3 543.0,2444.3 543.0,2444.1 544.0,2444.1 544.0,2444.2 545.0,2444.2 545.0,2444.3 546.0,2444.3 546.0,2442.0 547.0,2442.0 547.0,2442.0 548.0,2442.0 548.0,2443.5 549.0,2443.5 549.0,2444.3 550.0,2444.3 550.0,2444.1 551.0,2444.1 551.0,2443.9 552.0,2443.9 552.0,2443.9 553.0,2443.9 553.0,2444.1 554.0,2444.1 554.0,2444.1 555.0,2444.1 555.0,2444.0 556.0,2444.0 556.0,2443.9 557.0,2443.9 557.0,2443.9 558.0,2443.9 558.0,2444.1 559.0,2444.1 559.0,2443.6 560.0,2443.6 560.0,2443.8 561.0,2443.8 561.0,2443.5 562.0,2443.5 562.0,2443.8 563.0,2443.8 563.0,2442.3 564.0,2442.3 564.0,2442.9 565.0,2442.9 565.0,2443.4 566.0,2443.4 566.0,2442.7 567.0,2442.7 567.0,2447.9 567.5,2447.9 567.5,2453.4 567.0,2453.4 567.0,2450.8 566.0,2450.8 566.0,2454.0 565.0,2454.0 565.0,2454.0 564.0,2454.0 564.0,2454.0 563.0,2454.0 563.0,2454.0 562.0,2454.0 562.0,2454.0 561.0,2454.0 561.0,2454.0 560.0,2454.0 560.0,2454.0 559.0,2454.0 559.0,2454.0 558.0,2454.0 558.0,2454.0 557.0,2454.0 557.0,2454.0 556.0,2454.0 556.0,2454.0 555.0,2454.0 555.0,2454.0 554.0,2454.0 554.0,2454.0 553.0,2454.0 553.0,2454.0 552.0,2454.0 552.0,2454.0 551.0,2454.0 551.0,2454.0 550.0,2454.0 550.0,2454.0 549.0,2454.0 549.0,2454.0 548.0,2454.0 548.0,2454.0 547.0,2454.0 547.0,2454.0 546.0,2454.0 546.0,2454.0 545.0,2454.0 545.0,2454.0 544.0,2454.0 544.0,2454.0 543.0,2454.0 543.0,2454.0 542.0,2454.0 542.0,2454.0 541.0,2454.0 541.0,2454.0 540.0,2454.0 540.0,2454.0 539.0,2454.0 539.0,2454.0 538.0,2454.0 538.0,2454.0 537.0,2454.0 537.0,2454.0 536.0,2454.0 536.0,2454.0 535.0,2454.0 535.0,2454.0 534.0,2454.0 534.0,2454.0 533.0,2454.0 533.0,2454.0 532.0,2454.0 532.0,2454.0 531.0,2454.0 531.0,2454.0 530.0,2454.0 530.0,2454.0 529.0,2454.0 529.0,2454.0 528.0,2454.0 528.0,2454.0 527.0,2454.0 527.0,2454.0 526.0,2454.0 526.0,2454.0 525.0,2454.0 525.0,2454.0 524.0,2454.0 524.0,2454.0 523.0,2454.0 523.0,2454.0 522.0,2454.0 522.0,2454.0 521.0,2454.0 521.0,2454.0 520.0,2454.0 520.0,2454.0 519.0,2454.0 519.0,2454.0 518.0,2454.0 518.0,2454.0 517.0,2454.0 517.0,2454.0 516.0,2454.0 516.0,2454.0 515.0,2454.0 515.0,2454.0 514.0,2454.0 514.0,2454.0 513.0,2454.0 513.0,2454.0 512.0,2454.0 512.0,2454.0 511.0,2454.0 511.0,2454.0 510.0,2454.0 510.0,2454.0 509.0,2454.0 509.0,2454.0 508.0,2454.0 508.0,2454.0 507.0,2454.0 507.0,2454.0 506.0,2454.0 506.0,2454.0 505.0,2454.0 505.0,2454.0 504.0,2454.0 504.0,2454.0 503.0,2454.0 503.0,2454.0 502.0,2454.0 502.0,2454.0 501.0,2454.0 501.0,2454.0 500.0,2454.0 500.0,2454.0 499.0,2454.0 499.0,2454.0 498.0,2454.0 498.0,2454.0 497.0,2454.0 497.0,2454.0 496.0,2454.0 496.0,2454.0 495.0,2454.0 495.0,2454.0 494.0,2454.0 494.0,2454.0 493.0,2454.0 493.0,2454.0 492.0,2454.0 492.0,2454.0 491.0,2454.0 491.0,2454.0 490.0,2454.0 490.0,2454.0 489.0,2454.0 489.0,2454.0 488.0,2454.0 488.0,2454.0 487.0,2454.0 487.0,2454.0 486.0,2454.0 486.0,2454.0 485.0,2454.0 485.0,2454.0 484.0,2454.0 484.0,2454.0 483.0,2454.0 483.0,2454.0 482.0,2454.0 482.0,2454.0 481.0,2454.0 481.0,2454.0 480.0,2454.0 480.0,2454.0 479.0,2454.0 479.0,2454.0 478.0,2454.0 478.0,2454.0 477.0,2454.0 477.0,2454.0 476.0,2454.0 476.0,2454.0 475.0,2454.0 475.0,2454.0 474.0,2454.0 474.0,2454.0 473.0,2454.0 473.0,2454.0 472.0,2454.0 472.0,2454.0 471.0,2454.0 471.0,2454.0 470.0,2454.0 470.0,2454.0 469.0,2454.0 469.0,2454.0 468.0,2454.0 468.0,2454.0 467.0,2454.0 467.0,2454.0 466.0,2454.0 466.0,2454.0 465.0,2454.0 465.0,2454.0 464.0,2454.0 464.0,2454.0 463.0,2454.0 463.0,2454.0 462.0,2454.0 462.0,2454.0 461.0,2454.0 461.0,2454.0 460.0,2454.0 460.0,2454.0 459.0,2454.0 459.0,2454.0 458.0,2454.0 458.0,2454.0 457.0,2454.0 457.0,2454.0 456.0,2454.0 456.0,2454.0 455.0,2454.0 455.0,2454.0 454.0,2454.0 454.0,2454.0 453.0,2454.0 453.0,2454.0 452.0,2454.0 452.0,2454.0 451.0,2454.0 451.0,2454.0 450.0,2454.0 450.0,2454.0 449.0,2454.0 449.0,2454.0 448.0,2454.0 448.0,2454.0 447.0,2454.0 447.0,2454.0 446.0,2454.0 446.0,2454.0 445.0,2454.0 445.0,2454.0 444.0,2454.0 444.0,2454.0 443.0,2454.0 443.0,2454.0 442.0,2454.0 442.0,2454.0 441.0,2454.0 441.0,2454.0 440.0,2454.0 440.0,2454.0 439.0,2454.0 439.0,2454.0 438.0,2454.0 438.0,2454.0 437.0,2454.0 437.0,2454.0 436.0,2454.0 436.0,2454.0 435.0,2454.0 435.0,2454.0 434.0,2454.0 434.0,2454.0 433.0,2454.0 433.0,2454.0 432.0,2454.0 432.0,2454.0 431.0,2454.0 431.0,2454.0 430.0,2454.0 430.0,2454.0 429.0,2454.0 429.0,2454.0 428.0,2454.0 428.0,2454.0 427.0,2454.0 427.0,2454.0 426.0,2454.0 426.0,2454.0 425.0,2454.0 425.0,2454.0 424.0,2454.0 424.0,2454.0 423.0,2454.0 423.0,2454.0 422.0,2454.0 422.0,2454.0 421.0,2454.0 421.0,2454.0 420.0,2454.0 420.0,2454.0 419.0,2454.0 419.0,2454.0 418.0,2454.0 418.0,2454.0 417.0,2454.0 417.0,2454.0 416.0,2454.0 416.0,2454.0 415.0,2454.0 415.0,2454.0 414.0,2454.0 414.0,2454.0 413.0,2454.0 413.0,2454.0 412.0,2454.0 412.0,2454.0 411.0,2454.0 411.0,2454.0 410.0,2454.0 410.0,2454.0 409.0,2454.0 409.0,2454.0 408.0,2454.0 408.0,2454.0 407.0,2454.0 407.0,2454.0 406.0,2454.0 406.0,2454.0 405.0,2454.0 405.0,2454.0 404.0,2454.0 404.0,2454.0 403.0,2454.0 403.0,2454.0 402.0,2454.0 402.0,2454.0 401.0,2454.0 401.0,2454.0 400.0,2454.0 400.0,2454.0 399.0,2454.0 399.0,2454.0 398.0,2454.0 398.0,2454.0 397.0,2454.0 397.0,2454.0 396.0,2454.0 396.0,2454.0 395.0,2454.0 395.0,2454.0 394.0,2454.0 394.0,2454.0 393.0,2454.0 393.0,2454.0 392.0,2454.0 392.0,2454.0 391.0,2454.0 391.0,2454.0 390.0,2454.0 390.0,2454.0 389.0,2454.0 389.0,2454.0 388.0,2454.0 388.0,2454.0 387.0,2454.0 387.0,2454.0 386.0,2454.0 386.0,2454.0 385.0,2454.0 385.0,2454.0 384.0,2454.0 384.0,2454.0 383.0,2454.0 383.0,2454.0 382.0,2454.0 382.0,2454.0 381.0,2454.0 381.0,2454.0 380.0,2454.0 380.0,2454.0 379.0,2454.0 379.0,2454.0 378.0,2454.0 378.0,2454.0 377.0,2454.0 377.0,2454.0 376.0,2454.0 376.0,2454.0 375.0,2454.0 375.0,2454.0 374.0,2454.0 374.0,2454.0 373.0,2454.0 373.0,2454.0 372.0,2454.0 372.0,2454.0 371.0,2454.0 371.0,2454.0 370.0,2454.0 370.0,2454.0 369.0,2454.0 369.0,2454.0 368.0,2454.0 368.0,2454.0 367.0,2454.0 367.0,2454.0 366.0,2454.0 366.0,2454.0 365.0,2454.0 365.0,2454.0 364.0,2454.0 364.0,2454.0 363.0,2454.0 363.0,2454.0 362.0,2454.0 362.0,2454.0 361.0,2454.0 361.0,2454.0 360.0,2454.0 360.0,2454.0 359.0,2454.0 359.0,2454.0 358.0,2454.0 358.0,2454.0 357.0,2454.0 357.0,2454.0 356.0,2454.0 356.0,2454.0 355.0,2454.0 355.0,2454.0 354.0,2454.0 354.0,2454.0 353.0,2454.0 353.0,2454.0 352.0,2454.0 352.0,2454.0 351.0,2454.0 351.0,2454.0 350.0,2454.0 350.0,2454.0 349.0,2454.0 349.0,2454.0 348.0,2454.0 348.0,2454.0 347.0,2454.0 347.0,2454.0 346.0,2454.0 346.0,2454.0 345.0,2454.0 345.0,2454.0 344.0,2454.0 344.0,2454.0 343.0,2454.0 343.0,2454.0 342.0,2454.0 342.0,2454.0 341.0,2454.0 341.0,2454.0 340.0,2454.0 340.0,2454.0 339.0,2454.0 339.0,2454.0 338.0,2454.0 338.0,2454.0 337.0,2454.0 337.0,2454.0 336.0,2454.0 336.0,2454.0 335.0,2454.0 335.0,2454.0 334.0,2454.0 334.0,2454.0 333.0,2454.0 333.0,2454.0 332.0,2454.0 332.0,2454.0 331.0,2454.0 331.0,2454.0 330.0,2454.0 330.0,2454.0 329.0,2454.0 329.0,2454.0 328.0,2454.0 328.0,2454.0 327.0,2454.0 327.0,2454.0 326.0,2454.0 326.0,2454.0 325.0,2454.0 325.0,2454.0 324.0,2454.0 324.0,2454.0 323.0,2454.0 323.0,2454.0 322.0,2454.0 322.0,2454.0 321.0,2454.0 321.0,2454.0 320.0,2454.0 320.0,2454.0 319.0,2454.0 319.0,2454.0 318.0,2454.0 318.0,2454.0 317.0,2454.0Z M818.0,2428.7 819.0,2428.7 819.0,2423.0 820.0,2423.0 820.0,2421.6 821.0,2421.6 821.0,2420.4 822.0,2420.4 822.0,2419.2 823.0,2419.2 823.0,2417.2 824.0,2417.2 824.0,2416.9 825.0,2416.9 825.0,2417.0 826.0,2417.0 826.0,2417.1 827.0,2417.1 827.0,2417.7 828.0,2417.7 828.0,2418.3 829.0,2418.3 829.0,2418.2 830.0,2418.2 830.0,2418.1 831.0,2418.1 831.0,2418.0 832.0,2418.0 832.0,2417.9 833.0,2417.9 833.0,2417.4 834.0,2417.4 834.0,2416.8 835.0,2416.8 835.0,2417.9 836.0,2417.9 836.0,2419.0 837.0,2419.0 837.0,2418.1 838.0,2418.1 838.0,2417.2 839.0,2417.2 839.0,2417.9 840.0,2417.9 840.0,2418.5 841.0,2418.5 841.0,2418.3 842.0,2418.3 842.0,2418.1 843.0,2418.1 843.0,2417.6 844.0,2417.6 844.0,2417.1 845.0,2417.1 845.0,2417.5 846.0,2417.5 846.0,2417.8 847.0,2417.8 847.0,2417.5 848.0,2417.5 848.0,2417.2 849.0,2417.2 849.0,2417.8 850.0,2417.8 850.0,2418.4 851.0,2418.4 851.0,2418.8 852.0,2418.8 852.0,2417.9 853.0,2417.9 853.0,2418.4 854.0,2418.4 854.0,2417.7 855.0,2417.7 855.0,2417.6 856.0,2417.6 856.0,2417.5 857.0,2417.5 857.0,2418.1 858.0,2418.1 858.0,2418.7 859.0,2418.7 859.0,2418.5 860.0,2418.5 860.0,2418.4 861.0,2418.4 861.0,2418.3 862.0,2418.3 862.0,2418.2 863.0,2418.2 863.0,2417.9 864.0,2417.9 864.0,2417.6 865.0,2417.6 865.0,2417.5 866.0,2417.5 866.0,2417.4 867.0,2417.4 867.0,2417.6 868.0,2417.6 868.0,2417.9 869.0,2417.9 869.0,2417.3 870.0,2417.3 870.0,2416.8 871.0,2416.8 871.0,2417.3 872.0,2417.3 872.0,2417.7 873.0,2417.7 873.0,2417.9 874.0,2417.9 874.0,2418.1 875.0,2418.1 875.0,2418.1 876.0,2418.1 876.0,2418.1 877.0,2418.1 877.0,2416.0 878.0,2416.0 878.0,2416.2 879.0,2416.2 879.0,2417.5 880.0,2417.5 880.0,2417.6 881.0,2417.6 881.0,2417.9 882.0,2417.9 882.0,2418.2 883.0,2418.2 883.0,2416.8 884.0,2416.8 884.0,2416.5 885.0,2416.5 885.0,2417.6 886.0,2417.6 886.0,2418.1 887.0,2418.1 887.0,2418.2 888.0,2418.2 888.0,2418.3 889.0,2418.3 889.0,2417.6 890.0,2417.6 890.0,2416.9 891.0,2416.9 891.0,2416.5 892.0,2416.5 892.0,2416.2 893.0,2416.2 893.0,2416.9 894.0,2416.9 894.0,2417.7 895.0,2417.7 895.0,2417.7 896.0,2417.7 896.0,2417.7 897.0,2417.7 897.0,2417.7 898.0,2417.7 898.0,2417.7 899.0,2417.7 899.0,2417.0 900.0,2417.0 900.0,2416.3 901.0,2416.3 901.0,2416.8 902.0,2416.8 902.0,2417.2 903.0,2417.2 903.0,2417.0 904.0,2417.0 904.0,2416.8 905.0,2416.8 905.0,2417.1 906.0,2417.1 906.0,2417.5 907.0,2417.5 907.0,2417.8 908.0,2417.8 908.0,2418.1 909.0,2418.1 909.0,2417.5 910.0,2417.5 910.0,2416.9 911.0,2416.9 911.0,2417.1 912.0,2417.1 912.0,2417.2 913.0,2417.2 913.0,2417.0 914.0,2417.0 914.0,2416.9 915.0,2416.9 915.0,2417.3 916.0,2417.3 916.0,2417.8 917.0,2417.8 917.0,2417.2 918.0,2417.2 918.0,2416.6 919.0,2416.6 919.0,2416.3 920.0,2416.3 920.0,2416.0 921.0,2416.0 921.0,2416.5 922.0,2416.5 922.0,2416.9 923.0,2416.9 923.0,2417.2 924.0,2417.2 924.0,2417.5 925.0,2417.5 925.0,2417.5 926.0,2417.5 926.0,2417.5 927.0,2417.5 927.0,2417.2 928.0,2417.2 928.0,2416.9 929.0,2416.9 929.0,2417.1 930.0,2417.1 930.0,2417.3 931.0,2417.3 931.0,2417.4 932.0,2417.4 932.0,2417.5 933.0,2417.5 933.0,2417.0 934.0,2417.0 934.0,2416.5 935.0,2416.5 935.0,2417.1 936.0,2417.1 936.0,2417.6 937.0,2417.6 937.0,2417.5 938.0,2417.5 938.0,2417.5 939.0,2417.5 939.0,2417.6 940.0,2417.6 940.0,2417.7 941.0,2417.7 941.0,2417.3 942.0,2417.3 942.0,2416.9 943.0,2416.9 943.0,2416.9 944.0,2416.9 944.0,2416.9 945.0,2416.9 945.0,2417.1 946.0,2417.1 946.0,2417.3 947.0,2417.3 947.0,2417.3 948.0,2417.3 948.0,2417.3 949.0,2417.3 949.0,2417.2 950.0,2417.2 950.0,2417.2 951.0,2417.2 951.0,2417.0 952.0,2417.0 952.0,2416.8 953.0,2416.8 953.0,2417.1 954.0,2417.1 954.0,2417.4 955.0,2417.4 955.0,2417.2 956.0,2417.2 956.0,2417.0 957.0,2417.0 957.0,2416.5 958.0,2416.5 958.0,2416.1 959.0,2416.1 959.0,2416.5 960.0,2416.5 960.0,2417.0 961.0,2417.0 961.0,2417.4 962.0,2417.4 962.0,2417.8 963.0,2417.8 963.0,2416.9 964.0,2416.9 964.0,2416.0 965.0,2416.0 965.0,2416.2 966.0,2416.2 966.0,2416.5 967.0,2416.5 967.0,2416.5 968.0,2416.5 968.0,2416.5 969.0,2416.5 969.0,2417.2 970.0,2417.2 970.0,2417.9 971.0,2417.9 971.0,2417.1 972.0,2417.1 972.0,2416.2 973.0,2416.2 973.0,2416.6 974.0,2416.6 974.0,2416.9 975.0,2416.9 975.0,2416.6 976.0,2416.6 976.0,2416.3 977.0,2416.3 977.0,2416.2 978.0,2416.2 978.0,2416.0 979.0,2416.0 979.0,2416.6 980.0,2416.6 980.0,2417.2 981.0,2417.2 981.0,2417.2 982.0,2417.2 982.0,2417.1 983.0,2417.1 983.0,2417.1 984.0,2417.1 984.0,2417.0 985.0,2417.0 985.0,2416.9 986.0,2416.9 986.0,2416.7 987.0,2416.7 987.0,2416.8 988.0,2416.8 988.0,2416.9 989.0,2416.9 989.0,2416.9 990.0,2416.9 990.0,2416.8 991.0,2416.8 991.0,2416.2 992.0,2416.2 992.0,2415.5 993.0,2415.5 993.0,2415.8 994.0,2415.8 994.0,2416.1 995.0,2416.1 995.0,2416.6 996.0,2416.6 996.0,2417.0 997.0,2417.0 997.0,2416.8 998.0,2416.8 998.0,2415.3 999.0,2415.3 999.0,2416.7 1000.0,2416.7 1000.0,2417.0 1001.0,2417.0 1001.0,2417.3 1002.0,2417.3 1002.0,2417.6 1003.0,2417.6 1003.0,2416.9 1004.0,2416.9 1004.0,2416.1 1005.0,2416.1 1005.0,2416.2 1006.0,2416.2 1006.0,2416.2 1007.0,2416.2 1007.0,2416.5 1008.0,2416.5 1008.0,2416.9 1009.0,2416.9 1009.0,2416.4 1010.0,2416.4 1010.0,2416.0 1011.0,2416.0 1011.0,2416.0 1012.0,2416.0 1012.0,2416.1 1013.0,2416.1 1013.0,2416.8 1014.0,2416.8 1014.0,2417.5 1015.0,2417.5 1015.0,2417.0 1016.0,2417.0 1016.0,2416.6 1017.0,2416.6 1017.0,2416.5 1018.0,2416.5 1018.0,2416.4 1019.0,2416.4 1019.0,2416.3 1020.0,2416.3 1020.0,2416.3 1021.0,2416.3 1021.0,2416.1 1022.0,2416.1 1022.0,2415.9 1023.0,2415.9 1023.0,2415.9 1024.0,2415.9 1024.0,2415.9 1025.0,2415.9 1025.0,2416.3 1026.0,2416.3 1026.0,2416.7 1027.0,2416.7 1027.0,2415.5 1028.0,2415.5 1028.0,2415.7 1029.0,2415.7 1029.0,2416.4 1030.0,2416.4 1030.0,2416.4 1031.0,2416.4 1031.0,2416.4 1032.0,2416.4 1032.0,2414.4 1033.0,2414.4 1033.0,2414.7 1034.0,2414.7 1034.0,2415.0 1035.0,2415.0 1035.0,2416.3 1036.0,2416.3 1036.0,2416.5 1037.0,2416.5 1037.0,2416.5 1038.0,2416.5 1038.0,2416.5 1039.0,2416.5 1039.0,2416.2 1040.0,2416.2 1040.0,2415.8 1041.0,2415.8 1041.0,2416.1 1042.0,2416.1 1042.0,2416.5 1043.0,2416.5 1043.0,2416.5 1044.0,2416.5 1044.0,2415.2 1045.0,2415.2 1045.0,2416.4 1046.0,2416.4 1046.0,2416.3 1047.0,2416.3 1047.0,2416.3 1048.0,2416.3 1048.0,2416.3 1049.0,2416.3 1049.0,2416.1 1050.0,2416.1 1050.0,2415.8 1051.0,2415.8 1051.0,2415.6 1052.0,2415.6 1052.0,2415.3 1053.0,2415.3 1053.0,2415.4 1054.0,2415.4 1054.0,2415.5 1055.0,2415.5 1055.0,2415.5 1056.0,2415.5 1056.0,2415.5 1057.0,2415.5 1057.0,2415.7 1058.0,2415.7 1058.0,2416.0 1058.5,2416.0 1058.5,2397.7 1059.5,2397.7 1059.5,2338.8 1060.5,2338.8 1060.5,2333.5 1061.5,2333.5 1061.5,2328.2 1062.5,2328.2 1062.5,2322.6 1063.5,2322.6 1063.5,2318.1 1064.5,2318.1 1064.5,2314.9 1065.5,2314.9 1065.5,2311.8 1066.5,2311.8 1066.5,2309.1 1067.5,2309.1 1067.5,2306.7 1068.5,2306.7 1068.5,2305.4 1069.0,2305.4 1069.0,2300.6 1070.0,2300.6 1070.0,2298.4 1071.0,2298.4 1071.0,2295.5 1072.0,2295.5 1072.0,2292.6 1073.0,2292.6 1073.0,2289.2 1074.0,2289.2 1074.0,2285.9 1075.0,2285.9 1075.0,2283.2 1076.0,2283.2 1076.0,2280.7 1077.0,2280.7 1077.0,2278.6 1078.0,2278.6 1078.0,2276.7 1079.0,2276.7 1079.0,2275.8 1080.0,2275.8 1080.0,2275.0 1081.0,2275.0 1081.0,2271.4 1082.0,2271.4 1082.0,2266.9 1083.0,2266.9 1083.0,2266.6 1084.0,2266.6 1084.0,2265.9 1085.0,2265.9 1085.0,2264.3 1086.0,2264.3 1086.0,2263.3 1087.0,2263.3 1087.0,2261.1 1088.0,2261.1 1088.0,2259.0 1089.0,2259.0 1089.0,2258.5 1090.0,2258.5 1090.0,2258.0 1091.0,2258.0 1091.0,2256.3 1092.0,2256.3 1092.0,2254.7 1093.0,2254.7 1093.0,2253.1 1094.0,2253.1 1094.0,2251.5 1095.0,2251.5 1095.0,2251.5 1096.0,2251.5 1096.0,2251.6 1097.0,2251.6 1097.0,2249.9 1098.0,2249.9 1098.0,2248.2 1099.0,2248.2 1099.0,2247.7 1100.0,2247.7 1100.0,2247.2 1101.0,2247.2 1101.0,2244.6 1102.0,2244.6 1102.0,2241.9 1103.0,2241.9 1103.0,2241.0 1104.0,2241.0 1104.0,2240.1 1105.0,2240.1 1105.0,2239.1 1106.0,2239.1 1106.0,2238.1 1107.0,2238.1 1107.0,2236.6 1108.0,2236.6 1108.0,2235.0 1109.0,2235.0 1109.0,2234.2 1110.0,2234.2 1110.0,2233.4 1111.0,2233.4 1111.0,2232.0 1112.0,2232.0 1112.0,2230.6 1113.0,2230.6 1113.0,2229.3 1114.0,2229.3 1114.0,2227.9 1115.0,2227.9 1115.0,2226.3 1116.0,2226.3 1116.0,2224.6 1117.0,2224.6 1117.0,2223.6 1118.0,2223.6 1118.0,2222.5 1119.0,2222.5 1119.0,2221.6 1120.0,2221.6 1120.0,2220.7 1121.0,2220.7 1121.0,2219.2 1122.0,2219.2 1122.0,2216.6 1123.0,2216.6 1123.0,2216.1 1124.0,2216.1 1124.0,2214.5 1125.0,2214.5 1125.0,2213.1 1126.0,2213.1 1126.0,2211.8 1127.0,2211.8 1127.0,2211.0 1128.0,2211.0 1128.0,2210.1 1129.0,2210.1 1129.0,2208.6 1130.0,2208.6 1130.0,2207.1 1131.0,2207.1 1131.0,2204.7 1132.0,2204.7 1132.0,2200.7 1133.0,2200.7 1133.0,2201.8 1134.0,2201.8 1134.0,2201.3 1135.0,2201.3 1135.0,2199.7 1136.0,2199.7 1136.0,2198.0 1137.0,2198.0 1137.0,2197.5 1138.0,2197.5 1138.0,2196.9 1139.0,2196.9 1139.0,2195.1 1140.0,2195.1 1140.0,2193.3 1141.0,2193.3 1141.0,2192.7 1142.0,2192.7 1142.0,2192.1 1143.0,2192.1 1143.0,2191.1 1144.0,2191.1 1144.0,2190.1 1145.0,2190.1 1145.0,2188.9 1146.0,2188.9 1146.0,2187.8 1147.0,2187.8 1147.0,2186.2 1148.0,2186.2 1148.0,2184.5 1149.0,2184.5 1149.0,2183.7 1150.0,2183.7 1150.0,2182.8 1151.0,2182.8 1151.0,2181.7 1152.0,2181.7 1152.0,2180.6 1153.0,2180.6 1153.0,2179.3 1154.0,2179.3 1154.0,2178.1 1155.0,2178.1 1155.0,2177.0 1156.0,2177.0 1156.0,2176.0 1157.0,2176.0 1157.0,2175.6 1158.0,2175.6 1158.0,2175.2 1159.0,2175.2 1159.0,2173.9 1160.0,2173.9 1160.0,2172.5 1161.0,2172.5 1161.0,2171.5 1162.0,2171.5 1162.0,2169.1 1163.0,2169.1 1163.0,2169.1 1164.0,2169.1 1164.0,2169.8 1165.0,2169.8 1165.0,2168.8 1166.0,2168.8 1166.0,2167.7 1167.0,2167.7 1167.0,2167.0 1168.0,2167.0 1168.0,2166.4 1169.0,2166.4 1169.0,2165.9 1170.0,2165.9 1170.0,2165.4 1171.0,2165.4 1171.0,2163.2 1172.0,2163.2 1172.0,2161.0 1173.0,2161.0 1173.0,2160.3 1174.0,2160.3 1174.0,2159.5 1175.0,2159.5 1175.0,2158.9 1176.0,2158.9 1176.0,2158.2 1177.0,2158.2 1177.0,2157.5 1178.0,2157.5 1178.0,2156.7 1179.0,2156.7 1179.0,2155.9 1180.0,2155.9 1180.0,2155.1 1181.0,2155.1 1181.0,2153.9 1182.0,2153.9 1182.0,2152.7 1183.0,2152.7 1183.0,2151.5 1184.0,2151.5 1184.0,2150.4 1185.0,2150.4 1185.0,2149.4 1186.0,2149.4 1186.0,2148.4 1187.0,2148.4 1187.0,2147.0 1188.0,2147.0 1188.0,2145.6 1189.0,2145.6 1189.0,2145.7 1190.0,2145.7 1190.0,2145.8 1191.0,2145.8 1191.0,2144.8 1192.0,2144.8 1192.0,2143.8 1193.0,2143.8 1193.0,2143.0 1194.0,2143.0 1194.0,2142.2 1195.0,2142.2 1195.0,2141.0 1196.0,2141.0 1196.0,2139.9 1197.0,2139.9 1197.0,2139.1 1198.0,2139.1 1198.0,2138.3 1199.0,2138.3 1199.0,2137.0 1200.0,2137.0 1200.0,2135.8 1201.0,2135.8 1201.0,2134.9 1202.0,2134.9 1202.0,2134.0 1203.0,2134.0 1203.0,2132.9 1204.0,2132.9 1204.0,2131.8 1205.0,2131.8 1205.0,2131.3 1206.0,2131.3 1206.0,2130.7 1207.0,2130.7 1207.0,2129.7 1208.0,2129.7 1208.0,2128.6 1209.0,2128.6 1209.0,2127.6 1210.0,2127.6 1210.0,2126.7 1211.0,2126.7 1211.0,2125.6 1212.0,2125.6 1212.0,2124.5 1213.0,2124.5 1213.0,2123.1 1214.0,2123.1 1214.0,2121.8 1215.0,2121.8 1215.0,2121.5 1216.0,2121.5 1216.0,2121.2 1217.0,2121.2 1217.0,2118.6 1218.0,2118.6 1218.0,2118.1 1219.0,2118.1 1219.0,2117.1 1220.0,2117.1 1220.0,2116.6 1221.0,2116.6 1221.0,2115.9 1222.0,2115.9 1222.0,2115.2 1223.0,2115.2 1223.0,2114.8 1224.0,2114.8 1224.0,2114.5 1225.0,2114.5 1225.0,2112.4 1226.0,2112.4 1226.0,2110.3 1227.0,2110.3 1227.0,2110.2 1228.0,2110.2 1228.0,2110.0 1229.0,2110.0 1229.0,2109.5 1230.0,2109.5 1230.0,2109.1 1231.0,2109.1 1231.0,2107.3 1232.0,2107.3 1232.0,2105.5 1233.0,2105.5 1233.0,2104.2 1234.0,2104.2 1234.0,2103.0 1235.0,2103.0 1235.0,2103.3 1236.0,2103.3 1236.0,2103.6 1237.0,2103.6 1237.0,2102.0 1238.0,2102.0 1238.0,2100.3 1239.0,2100.3 1239.0,2099.6 1240.0,2099.6 1240.0,2098.9 1241.0,2098.9 1241.0,2098.6 1242.0,2098.6 1242.0,2098.3 1243.0,2098.3 1243.0,2097.0 1244.0,2097.0 1244.0,2095.7 1245.0,2095.7 1245.0,2094.6 1246.0,2094.6 1246.0,2093.6 1247.0,2093.6 1247.0,2092.7 1248.0,2092.7 1248.0,2091.9 1249.0,2091.9 1249.0,2091.5 1250.0,2091.5 1250.0,2090.2 1251.0,2090.2 1251.0,2088.6 1252.0,2088.6 1252.0,2089.7 1253.0,2089.7 1253.0,2089.1 1254.0,2089.1 1254.0,2088.5 1255.0,2088.5 1255.0,2087.5 1256.0,2087.5 1256.0,2086.5 1257.0,2086.5 1257.0,2086.0 1258.0,2086.0 1258.0,2085.4 1259.0,2085.4 1259.0,2083.1 1260.0,2083.1 1260.0,2082.9 1261.0,2082.9 1261.0,2083.1 1262.0,2083.1 1262.0,2082.1 1263.0,2082.1 1263.0,2081.4 1264.0,2081.4 1264.0,2080.8 1265.0,2080.8 1265.0,2080.1 1266.0,2080.1 1266.0,2079.5 1267.0,2079.5 1267.0,2078.9 1268.0,2078.9 1268.0,2078.3 1269.0,2078.3 1269.0,2077.2 1270.0,2077.2 1270.0,2076.1 1271.0,2076.1 1271.0,2075.3 1272.0,2075.3 1272.0,2074.5 1273.0,2074.5 1273.0,2071.9 1274.0,2071.9 1274.0,2071.7 1275.0,2071.7 1275.0,2071.4 1276.0,2071.4 1276.0,2071.6 1277.0,2071.6 1277.0,2071.1 1278.0,2071.1 1278.0,2070.6 1279.0,2070.6 1279.0,2070.2 1280.0,2070.2 1280.0,2069.9 1281.0,2069.9 1281.0,2068.6 1282.0,2068.6 1282.0,2067.3 1283.0,2067.3 1283.0,2067.2 1284.0,2067.2 1284.0,2067.2 1285.0,2067.2 1285.0,2065.4 1286.0,2065.4 1286.0,2063.5 1287.0,2063.5 1287.0,2063.6 1288.0,2063.6 1288.0,2063.6 1289.0,2063.6 1289.0,2061.5 1290.0,2061.5 1290.0,2059.3 1291.0,2059.3 1291.0,2059.1 1292.0,2059.1 1292.0,2058.8 1293.0,2058.8 1293.0,2057.9 1294.0,2057.9 1294.0,2056.9 1295.0,2056.9 1295.0,2055.6 1296.0,2055.6 1296.0,2054.3 1297.0,2054.3 1297.0,2054.5 1298.0,2054.5 1298.0,2119.6 1299.0,2119.6 1299.0,2187.5 1300.0,2187.5 1300.0,2260.0 1301.0,2260.0 1301.0,2332.5 1302.0,2332.5 1302.0,2405.0 1303.0,2405.0 1303.0,2449.9 1303.5,2449.9 1303.5,2454.5 1303.0,2454.5 1303.0,2452.8 1302.0,2452.8 1302.0,2407.9 1301.0,2407.9 1301.0,2335.4 1300.0,2335.4 1300.0,2262.9 1299.0,2262.9 1299.0,2190.5 1298.0,2190.5 1298.0,2122.4 1297.0,2122.4 1297.0,2061.1 1296.0,2061.1 1296.0,2063.5 1295.0,2063.5 1295.0,2065.8 1294.0,2065.8 1294.0,2066.7 1293.0,2066.7 1293.0,2067.3 1292.0,2067.3 1292.0,2067.7 1291.0,2067.7 1291.0,2068.0 1290.0,2068.0 1290.0,2068.6 1289.0,2068.6 1289.0,2069.3 1288.0,2069.3 1288.0,2070.6 1287.0,2070.6 1287.0,2071.9 1286.0,2071.9 1286.0,2072.8 1285.0,2072.8 1285.0,2073.8 1284.0,2073.8 1284.0,2075.0 1283.0,2075.0 1283.0,2076.2 1282.0,2076.2 1282.0,2075.9 1281.0,2075.9 1281.0,2075.7 1280.0,2075.7 1280.0,2076.5 1279.0,2076.5 1279.0,2077.3 1278.0,2077.3 1278.0,2079.2 1277.0,2079.2 1277.0,2081.0 1276.0,2081.0 1276.0,2080.6 1275.0,2080.6 1275.0,2080.3 1274.0,2080.3 1274.0,2081.3 1273.0,2081.3 1273.0,2082.4 1272.0,2082.4 1272.0,2083.9 1271.0,2083.9 1271.0,2085.4 1270.0,2085.4 1270.0,2084.8 1269.0,2084.8 1269.0,2084.2 1268.0,2084.2 1268.0,2085.2 1267.0,2085.2 1267.0,2086.2 1266.0,2086.2 1266.0,2087.2 1265.0,2087.2 1265.0,2088.1 1264.0,2088.1 1264.0,2089.0 1263.0,2089.0 1263.0,2089.9 1262.0,2089.9 1262.0,2090.5 1261.0,2090.5 1261.0,2091.2 1260.0,2091.2 1260.0,2093.7 1259.0,2093.7 1259.0,2093.3 1258.0,2093.3 1258.0,2093.8 1257.0,2093.8 1257.0,2094.4 1256.0,2094.4 1256.0,2094.8 1255.0,2094.8 1255.0,2095.3 1254.0,2095.3 1254.0,2096.8 1253.0,2096.8 1253.0,2098.4 1252.0,2098.4 1252.0,2099.0 1251.0,2099.0 1251.0,2099.7 1250.0,2099.7 1250.0,2100.3 1249.0,2100.3 1249.0,2100.9 1248.0,2100.9 1248.0,2101.5 1247.0,2101.5 1247.0,2102.1 1246.0,2102.1 1246.0,2102.3 1245.0,2102.3 1245.0,2102.4 1244.0,2102.4 1244.0,2104.0 1243.0,2104.0 1243.0,2105.6 1242.0,2105.6 1242.0,2106.4 1241.0,2106.4 1241.0,2107.2 1240.0,2107.2 1240.0,2108.3 1239.0,2108.3 1239.0,2109.4 1238.0,2109.4 1238.0,2109.9 1237.0,2109.9 1237.0,2110.5 1236.0,2110.5 1236.0,2112.9 1235.0,2112.9 1235.0,2114.7 1234.0,2114.7 1234.0,2113.4 1233.0,2113.4 1233.0,2113.4 1232.0,2113.4 1232.0,2114.6 1231.0,2114.6 1231.0,2115.8 1230.0,2115.8 1230.0,2116.4 1229.0,2116.4 1229.0,2117.1 1228.0,2117.1 1228.0,2118.4 1227.0,2118.4 1227.0,2119.8 1226.0,2119.8 1226.0,2119.9 1225.0,2119.9 1225.0,2120.1 1224.0,2120.1 1224.0,2122.0 1223.0,2122.0 1223.0,2123.9 1222.0,2123.9 1222.0,2124.0 1221.0,2124.0 1221.0,2124.1 1220.0,2124.1 1220.0,2125.4 1219.0,2125.4 1219.0,2126.8 1218.0,2126.8 1218.0,2127.7 1217.0,2127.7 1217.0,2128.7 1216.0,2128.7 1216.0,2128.6 1215.0,2128.6 1215.0,2128.6 1214.0,2128.6 1214.0,2130.3 1213.0,2130.3 1213.0,2131.9 1212.0,2131.9 1212.0,2133.5 1211.0,2133.5 1211.0,2134.6 1210.0,2134.6 1210.0,2134.7 1209.0,2134.7 1209.0,2135.7 1208.0,2135.7 1208.0,2137.7 1207.0,2137.7 1207.0,2139.7 1206.0,2139.7 1206.0,2139.9 1205.0,2139.9 1205.0,2140.2 1204.0,2140.2 1204.0,2140.2 1203.0,2140.2 1203.0,2140.3 1202.0,2140.3 1202.0,2142.1 1201.0,2142.1 1201.0,2145.6 1200.0,2145.6 1200.0,2144.2 1199.0,2144.2 1199.0,2144.6 1198.0,2144.6 1198.0,2147.1 1197.0,2147.1 1197.0,2149.0 1196.0,2149.0 1196.0,2150.1 1195.0,2150.1 1195.0,2148.8 1194.0,2148.8 1194.0,2150.5 1193.0,2150.5 1193.0,2152.1 1192.0,2152.1 1192.0,2152.1 1191.0,2152.1 1191.0,2152.1 1190.0,2152.1 1190.0,2152.5 1189.0,2152.5 1189.0,2153.0 1188.0,2153.0 1188.0,2154.5 1187.0,2154.5 1187.0,2156.1 1186.0,2156.1 1186.0,2156.4 1185.0,2156.4 1185.0,2156.7 1184.0,2156.7 1184.0,2158.6 1183.0,2158.6 1183.0,2160.5 1182.0,2160.5 1182.0,2161.4 1181.0,2161.4 1181.0,2163.6 1180.0,2163.6 1180.0,2165.2 1179.0,2165.2 1179.0,2164.7 1178.0,2164.7 1178.0,2166.8 1177.0,2166.8 1177.0,2167.0 1176.0,2167.0 1176.0,2167.5 1175.0,2167.5 1175.0,2167.9 1174.0,2167.9 1174.0,2168.2 1173.0,2168.2 1173.0,2168.5 1172.0,2168.5 1172.0,2169.3 1171.0,2169.3 1171.0,2170.2 1170.0,2170.2 1170.0,2170.9 1169.0,2170.9 1169.0,2173.7 1168.0,2173.7 1168.0,2173.2 1167.0,2173.2 1167.0,2174.8 1166.0,2174.8 1166.0,2176.3 1165.0,2176.3 1165.0,2177.7 1164.0,2177.7 1164.0,2177.8 1163.0,2177.8 1163.0,2178.0 1162.0,2178.0 1162.0,2179.2 1161.0,2179.2 1161.0,2180.4 1160.0,2180.4 1160.0,2181.1 1159.0,2181.1 1159.0,2181.9 1158.0,2181.9 1158.0,2182.3 1157.0,2182.3 1157.0,2182.7 1156.0,2182.7 1156.0,2183.6 1155.0,2183.6 1155.0,2184.6 1154.0,2184.6 1154.0,2186.2 1153.0,2186.2 1153.0,2187.7 1152.0,2187.7 1152.0,2189.0 1151.0,2189.0 1151.0,2190.3 1150.0,2190.3 1150.0,2191.1 1149.0,2191.1 1149.0,2192.0 1148.0,2192.0 1148.0,2193.9 1147.0,2193.9 1147.0,2195.9 1146.0,2195.9 1146.0,2196.3 1145.0,2196.3 1145.0,2196.8 1144.0,2196.8 1144.0,2197.9 1143.0,2197.9 1143.0,2199.1 1142.0,2199.1 1142.0,2200.5 1141.0,2200.5 1141.0,2202.0 1140.0,2202.0 1140.0,2203.4 1139.0,2203.4 1139.0,2204.8 1138.0,2204.8 1138.0,2206.3 1137.0,2206.3 1137.0,2207.8 1136.0,2207.8 1136.0,2208.7 1135.0,2208.7 1135.0,2209.5 1134.0,2209.5 1134.0,2210.5 1133.0,2210.5 1133.0,2211.5 1132.0,2211.5 1132.0,2212.9 1131.0,2212.9 1131.0,2214.3 1130.0,2214.3 1130.0,2215.6 1129.0,2215.6 1129.0,2216.9 1128.0,2216.9 1128.0,2217.5 1127.0,2217.5 1127.0,2218.1 1126.0,2218.1 1126.0,2220.1 1125.0,2220.1 1125.0,2222.1 1124.0,2222.1 1124.0,2224.0 1123.0,2224.0 1123.0,2225.4 1122.0,2225.4 1122.0,2228.3 1121.0,2228.3 1121.0,2229.8 1120.0,2229.8 1120.0,2230.8 1119.0,2230.8 1119.0,2230.0 1118.0,2230.0 1118.0,2231.6 1117.0,2231.6 1117.0,2233.3 1116.0,2233.3 1116.0,2234.6 1115.0,2234.6 1115.0,2235.8 1114.0,2235.8 1114.0,2237.0 1113.0,2237.0 1113.0,2239.2 1112.0,2239.2 1112.0,2239.6 1111.0,2239.6 1111.0,2241.1 1110.0,2241.1 1110.0,2241.6 1109.0,2241.6 1109.0,2242.1 1108.0,2242.1 1108.0,2244.5 1107.0,2244.5 1107.0,2247.0 1106.0,2247.0 1106.0,2247.3 1105.0,2247.3 1105.0,2247.6 1104.0,2247.6 1104.0,2249.7 1103.0,2249.7 1103.0,2251.8 1102.0,2251.8 1102.0,2252.3 1101.0,2252.3 1101.0,2252.9 1100.0,2252.9 1100.0,2254.3 1099.0,2254.3 1099.0,2255.6 1098.0,2255.6 1098.0,2257.3 1097.0,2257.3 1097.0,2258.9 1096.0,2258.9 1096.0,2259.8 1095.0,2259.8 1095.0,2260.6 1094.0,2260.6 1094.0,2262.7 1093.0,2262.7 1093.0,2262.8 1092.0,2262.8 1092.0,2264.0 1091.0,2264.0 1091.0,2265.2 1090.0,2265.2 1090.0,2266.4 1089.0,2266.4 1089.0,2267.6 1088.0,2267.6 1088.0,2270.9 1087.0,2270.9 1087.0,2273.9 1086.0,2273.9 1086.0,2274.7 1085.0,2274.7 1085.0,2273.8 1084.0,2273.8 1084.0,2275.2 1083.0,2275.2 1083.0,2276.6 1082.0,2276.6 1082.0,2279.3 1081.0,2279.3 1081.0,2282.1 1080.0,2282.1 1080.0,2284.2 1079.0,2284.2 1079.0,2286.3 1078.0,2286.3 1078.0,2288.9 1077.0,2288.9 1077.0,2291.6 1076.0,2291.6 1076.0,2294.2 1075.0,2294.2 1075.0,2296.9 1074.0,2296.9 1074.0,2299.8 1073.0,2299.8 1073.0,2302.1 1072.0,2302.1 1072.0,2303.8 1071.0,2303.8 1071.0,2306.8 1070.0,2306.8 1070.0,2309.4 1069.0,2309.4 1069.0,2310.2 1068.5,2310.2 1068.5,2313.4 1067.5,2313.4 1067.5,2317.0 1066.5,2317.0 1066.5,2320.0 1065.5,2320.0 1065.5,2322.5 1064.5,2322.5 1064.5,2326.5 1063.5,2326.5 1063.5,2332.2 1062.5,2332.2 1062.5,2337.7 1061.5,2337.7 1061.5,2343.2 1060.5,2343.2 1060.5,2402.1 1059.5,2402.1 1059.5,2421.0 1058.5,2421.0 1058.5,2421.7 1058.0,2421.7 1058.0,2422.2 1057.0,2422.2 1057.0,2422.8 1056.0,2422.8 1056.0,2422.7 1055.0,2422.7 1055.0,2422.6 1054.0,2422.6 1054.0,2422.4 1053.0,2422.4 1053.0,2422.2 1052.0,2422.2 1052.0,2421.8 1051.0,2421.8 1051.0,2421.4 1050.0,2421.4 1050.0,2421.4 1049.0,2421.4 1049.0,2421.3 1048.0,2421.3 1048.0,2421.5 1047.0,2421.5 1047.0,2421.7 1046.0,2421.7 1046.0,2421.8 1045.0,2421.8 1045.0,2421.9 1044.0,2421.9 1044.0,2421.7 1043.0,2421.7 1043.0,2421.5 1042.0,2421.5 1042.0,2421.6 1041.0,2421.6 1041.0,2421.7 1040.0,2421.7 1040.0,2421.6 1039.0,2421.6 1039.0,2421.5 1038.0,2421.5 1038.0,2421.9 1037.0,2421.9 1037.0,2422.3 1036.0,2422.3 1036.0,2422.1 1035.0,2422.1 1035.0,2421.9 1034.0,2421.9 1034.0,2422.3 1033.0,2422.3 1033.0,2422.8 1032.0,2422.8 1032.0,2422.8 1031.0,2422.8 1031.0,2422.9 1030.0,2422.9 1030.0,2422.4 1029.0,2422.4 1029.0,2422.0 1028.0,2422.0 1028.0,2422.0 1027.0,2422.0 1027.0,2421.9 1026.0,2421.9 1026.0,2424.6 1025.0,2424.6 1025.0,2423.7 1024.0,2423.7 1024.0,2422.6 1023.0,2422.6 1023.0,2421.5 1022.0,2421.5 1022.0,2421.6 1021.0,2421.6 1021.0,2421.7 1020.0,2421.7 1020.0,2422.2 1019.0,2422.2 1019.0,2422.6 1018.0,2422.6 1018.0,2422.5 1017.0,2422.5 1017.0,2422.4 1016.0,2422.4 1016.0,2422.5 1015.0,2422.5 1015.0,2422.7 1014.0,2422.7 1014.0,2422.7 1013.0,2422.7 1013.0,2422.7 1012.0,2422.7 1012.0,2422.5 1011.0,2422.5 1011.0,2422.3 1010.0,2422.3 1010.0,2421.8 1009.0,2421.8 1009.0,2421.3 1008.0,2421.3 1008.0,2422.2 1007.0,2422.2 1007.0,2423.2 1006.0,2423.2 1006.0,2423.0 1005.0,2423.0 1005.0,2422.8 1004.0,2422.8 1004.0,2422.7 1003.0,2422.7 1003.0,2422.6 1002.0,2422.6 1002.0,2422.2 1001.0,2422.2 1001.0,2421.7 1000.0,2421.7 1000.0,2421.6 999.0,2421.6 999.0,2421.4 998.0,2421.4 998.0,2422.2 997.0,2422.2 997.0,2422.9 996.0,2422.9 996.0,2422.1 995.0,2422.1 995.0,2421.4 994.0,2421.4 994.0,2421.9 993.0,2421.9 993.0,2422.4 992.0,2422.4 992.0,2422.3 991.0,2422.3 991.0,2422.3 990.0,2422.3 990.0,2422.5 989.0,2422.5 989.0,2422.8 988.0,2422.8 988.0,2422.6 987.0,2422.6 987.0,2422.5 986.0,2422.5 986.0,2422.4 985.0,2422.4 985.0,2422.2 984.0,2422.2 984.0,2422.2 983.0,2422.2 983.0,2422.2 982.0,2422.2 982.0,2422.3 981.0,2422.3 981.0,2422.4 980.0,2422.4 980.0,2422.5 979.0,2422.5 979.0,2422.6 978.0,2422.6 978.0,2422.7 977.0,2422.7 977.0,2422.9 976.0,2422.9 976.0,2422.9 975.0,2422.9 975.0,2423.0 974.0,2423.0 974.0,2422.6 973.0,2422.6 973.0,2422.3 972.0,2422.3 972.0,2422.0 971.0,2422.0 971.0,2421.7 970.0,2421.7 970.0,2421.8 969.0,2421.8 969.0,2421.9 968.0,2421.9 968.0,2422.4 967.0,2422.4 967.0,2422.8 966.0,2422.8 966.0,2422.8 965.0,2422.8 965.0,2422.9 964.0,2422.9 964.0,2422.6 963.0,2422.6 963.0,2422.3 962.0,2422.3 962.0,2422.2 961.0,2422.2 961.0,2422.1 960.0,2422.1 960.0,2422.9 959.0,2422.9 959.0,2423.6 958.0,2423.6 958.0,2423.1 957.0,2423.1 957.0,2422.6 956.0,2422.6 956.0,2422.6 955.0,2422.6 955.0,2422.6 954.0,2422.6 954.0,2422.8 953.0,2422.8 953.0,2423.0 952.0,2423.0 952.0,2422.6 951.0,2422.6 951.0,2422.2 950.0,2422.2 950.0,2422.9 949.0,2422.9 949.0,2423.7 948.0,2423.7 948.0,2423.6 947.0,2423.6 947.0,2425.0 946.0,2425.0 946.0,2425.4 945.0,2425.4 945.0,2423.3 944.0,2423.3 944.0,2423.5 943.0,2423.5 943.0,2423.7 942.0,2423.7 942.0,2423.3 941.0,2423.3 941.0,2422.9 940.0,2422.9 940.0,2423.7 939.0,2423.7 939.0,2424.5 938.0,2424.5 938.0,2424.3 937.0,2424.3 937.0,2424.2 936.0,2424.2 936.0,2423.7 935.0,2423.7 935.0,2423.1 934.0,2423.1 934.0,2423.4 933.0,2423.4 933.0,2423.7 932.0,2423.7 932.0,2423.1 931.0,2423.1 931.0,2422.5 930.0,2422.5 930.0,2423.1 929.0,2423.1 929.0,2423.7 928.0,2423.7 928.0,2423.9 927.0,2423.9 927.0,2424.0 926.0,2424.0 926.0,2423.2 925.0,2423.2 925.0,2422.4 924.0,2422.4 924.0,2422.8 923.0,2422.8 923.0,2423.2 922.0,2423.2 922.0,2423.1 921.0,2423.1 921.0,2423.0 920.0,2423.0 920.0,2423.1 919.0,2423.1 919.0,2423.1 918.0,2423.1 918.0,2422.9 917.0,2422.9 917.0,2422.7 916.0,2422.7 916.0,2422.8 915.0,2422.8 915.0,2422.9 914.0,2422.9 914.0,2422.7 913.0,2422.7 913.0,2422.4 912.0,2422.4 912.0,2422.9 911.0,2422.9 911.0,2423.4 910.0,2423.4 910.0,2422.8 909.0,2422.8 909.0,2422.2 908.0,2422.2 908.0,2422.9 907.0,2422.9 907.0,2423.5 906.0,2423.5 906.0,2423.4 905.0,2423.4 905.0,2423.2 904.0,2423.2 904.0,2423.2 903.0,2423.2 903.0,2423.2 902.0,2423.2 902.0,2423.5 901.0,2423.5 901.0,2423.8 900.0,2423.8 900.0,2423.5 899.0,2423.5 899.0,2423.1 898.0,2423.1 898.0,2423.2 897.0,2423.2 897.0,2423.3 896.0,2423.3 896.0,2423.7 895.0,2423.7 895.0,2424.0 894.0,2424.0 894.0,2423.2 893.0,2423.2 893.0,2422.3 892.0,2422.3 892.0,2422.9 891.0,2422.9 891.0,2423.4 890.0,2423.4 890.0,2423.7 889.0,2423.7 889.0,2423.9 888.0,2423.9 888.0,2424.1 887.0,2424.1 887.0,2424.2 886.0,2424.2 886.0,2423.7 885.0,2423.7 885.0,2423.2 884.0,2423.2 884.0,2423.0 883.0,2423.0 883.0,2422.8 882.0,2422.8 882.0,2423.2 881.0,2423.2 881.0,2423.7 880.0,2423.7 880.0,2422.8 879.0,2422.8 879.0,2421.9 878.0,2421.9 878.0,2423.0 877.0,2423.0 877.0,2424.1 876.0,2424.1 876.0,2424.7 875.0,2424.7 875.0,2424.8 874.0,2424.8 874.0,2424.8 873.0,2424.8 873.0,2423.8 872.0,2423.8 872.0,2424.7 871.0,2424.7 871.0,2425.7 870.0,2425.7 870.0,2423.8 869.0,2423.8 869.0,2423.7 868.0,2423.7 868.0,2424.0 867.0,2424.0 867.0,2424.4 866.0,2424.4 866.0,2424.0 865.0,2424.0 865.0,2423.5 864.0,2423.5 864.0,2423.7 863.0,2423.7 863.0,2423.8 862.0,2423.8 862.0,2423.6 861.0,2423.6 861.0,2423.4 860.0,2423.4 860.0,2423.5 859.0,2423.5 859.0,2423.5 858.0,2423.5 858.0,2424.0 857.0,2424.0 857.0,2424.4 856.0,2424.4 856.0,2424.1 855.0,2424.1 855.0,2423.8 854.0,2423.8 854.0,2423.6 853.0,2423.6 853.0,2424.2 852.0,2424.2 852.0,2423.1 851.0,2423.1 851.0,2422.8 850.0,2422.8 850.0,2423.8 849.0,2423.8 849.0,2424.7 848.0,2424.7 848.0,2424.3 847.0,2424.3 847.0,2423.9 846.0,2423.9 846.0,2423.5 845.0,2423.5 845.0,2423.1 844.0,2423.1 844.0,2423.5 843.0,2423.5 843.0,2423.8 842.0,2423.8 842.0,2424.2 841.0,2424.2 841.0,2424.5 840.0,2424.5 840.0,2424.2 839.0,2424.2 839.0,2423.8 838.0,2423.8 838.0,2425.0 837.0,2425.0 837.0,2425.6 836.0,2425.6 836.0,2423.9 835.0,2423.9 835.0,2423.3 834.0,2423.3 834.0,2423.7 833.0,2423.7 833.0,2424.0 832.0,2424.0 832.0,2424.4 831.0,2424.4 831.0,2424.8 830.0,2424.8 830.0,2424.1 829.0,2424.1 829.0,2423.4 828.0,2423.4 828.0,2424.0 827.0,2424.0 827.0,2424.6 826.0,2424.6 826.0,2424.2 825.0,2424.2 825.0,2423.8 824.0,2423.8 824.0,2423.9 823.0,2423.9 823.0,2424.1 822.0,2424.1 822.0,2425.4 821.0,2425.4 821.0,2426.7 820.0,2426.7 820.0,2432.5 819.0,2432.5 819.0,2455.3 818.0,2455.3Z M1539.0,2225.6 1540.0,2225.6 1540.0,2148.9 1541.0,2148.9 1541.0,2135.7 1542.0,2135.7 1542.0,2122.6 1543.0,2122.6 1543.0,2109.7 1544.0,2109.7 1544.0,2105.5 1545.0,2105.5 1545.0,2101.8 1546.0,2101.8 1546.0,2098.1 1547.0,2098.1 1547.0,2095.7 1548.0,2095.7 1548.0,2093.3 1549.0,2093.3 1549.0,2090.7 1550.0,2090.7 1550.0,2088.1 1551.0,2088.1 1551.0,2085.2 1552.0,2085.2 1552.0,2082.5 1553.0,2082.5 1553.0,2079.2 1554.0,2079.2 1554.0,2074.1 1555.0,2074.1 1555.0,2073.1 1556.0,2073.1 1556.0,2072.2 1557.0,2072.2 1557.0,2070.5 1558.0,2070.5 1558.0,2068.0 1559.0,2068.0 1559.0,2066.0 1560.0,2066.0 1560.0,2064.1 1561.0,2064.1 1561.0,2062.3 1562.0,2062.3 1562.0,2060.6 1563.0,2060.6 1563.0,2058.1 1564.0,2058.1 1564.0,2055.7 1565.0,2055.7 1565.0,2054.1 1566.0,2054.1 1566.0,2052.6 1567.0,2052.6 1567.0,2050.4 1568.0,2050.4 1568.0,2048.3 1569.0,2048.3 1569.0,2046.8 1570.0,2046.8 1570.0,2045.4 1571.0,2045.4 1571.0,2045.1 1572.0,2045.1 1572.0,2044.8 1573.0,2044.8 1573.0,2043.0 1574.0,2043.0 1574.0,2041.2 1575.0,2041.2 1575.0,2038.3 1576.0,2038.3 1576.0,2035.5 1577.0,2035.5 1577.0,2035.1 1578.0,2035.1 1578.0,2034.8 1579.0,2034.8 1579.0,2033.9 1580.0,2033.9 1580.0,2033.0 1581.0,2033.0 1581.0,2031.2 1582.0,2031.2 1582.0,2029.4 1583.0,2029.4 1583.0,2028.2 1584.0,2028.2 1584.0,2027.1 1585.0,2027.1 1585.0,2025.8 1586.0,2025.8 1586.0,2024.6 1587.0,2024.6 1587.0,2023.1 1588.0,2023.1 1588.0,2021.6 1589.0,2021.6 1589.0,2020.4 1590.0,2020.4 1590.0,2019.3 1591.0,2019.3 1591.0,2018.8 1592.0,2018.8 1592.0,2018.3 1593.0,2018.3 1593.0,2017.0 1594.0,2017.0 1594.0,2015.7 1595.0,2015.7 1595.0,2014.6 1596.0,2014.6 1596.0,2013.6 1597.0,2013.6 1597.0,2012.1 1598.0,2012.1 1598.0,2009.4 1599.0,2009.4 1599.0,2009.4 1600.0,2009.4 1600.0,2010.0 1601.0,2010.0 1601.0,2009.2 1602.0,2009.2 1602.0,2008.4 1603.0,2008.4 1603.0,2008.0 1604.0,2008.0 1604.0,2005.6 1605.0,2005.6 1605.0,2005.6 1606.0,2005.6 1606.0,2006.5 1607.0,2006.5 1607.0,2005.6 1608.0,2005.6 1608.0,2004.6 1609.0,2004.6 1609.0,2003.9 1610.0,2003.9 1610.0,2003.3 1611.0,2003.3 1611.0,2002.6 1612.0,2002.6 1612.0,2002.0 1613.0,2002.0 1613.0,2001.4 1614.0,2001.4 1614.0,2000.7 1615.0,2000.7 1615.0,2000.0 1616.0,2000.0 1616.0,1999.3 1617.0,1999.3 1617.0,1998.9 1618.0,1998.9 1618.0,1998.4 1619.0,1998.4 1619.0,1997.1 1620.0,1997.1 1620.0,1995.9 1621.0,1995.9 1621.0,1995.7 1622.0,1995.7 1622.0,1995.5 1623.0,1995.5 1623.0,1994.4 1624.0,1994.4 1624.0,1993.4 1625.0,1993.4 1625.0,1992.4 1626.0,1992.4 1626.0,1991.5 1627.0,1991.5 1627.0,1990.5 1628.0,1990.5 1628.0,1989.6 1629.0,1989.6 1629.0,1989.8 1630.0,1989.8 1630.0,1990.0 1631.0,1990.0 1631.0,1988.9 1632.0,1988.9 1632.0,1987.8 1633.0,1987.8 1633.0,1984.8 1634.0,1984.8 1634.0,1984.1 1635.0,1984.1 1635.0,1984.5 1636.0,1984.5 1636.0,1983.4 1637.0,1983.4 1637.0,1982.7 1638.0,1982.7 1638.0,1982.0 1639.0,1982.0 1639.0,1981.1 1640.0,1981.1 1640.0,1978.2 1641.0,1978.2 1641.0,1977.1 1642.0,1977.1 1642.0,1975.9 1643.0,1975.9 1643.0,1975.2 1644.0,1975.2 1644.0,1974.7 1645.0,1974.7 1645.0,1974.6 1646.0,1974.6 1646.0,1973.6 1647.0,1973.6 1647.0,1973.3 1648.0,1973.3 1648.0,1973.0 1649.0,1973.0 1649.0,1972.6 1650.0,1972.6 1650.0,1972.3 1651.0,1972.3 1651.0,1971.4 1652.0,1971.4 1652.0,1970.6 1653.0,1970.6 1653.0,1969.4 1654.0,1969.4 1654.0,1968.2 1655.0,1968.2 1655.0,1967.7 1656.0,1967.7 1656.0,1967.2 1657.0,1967.2 1657.0,1966.0 1658.0,1966.0 1658.0,1964.9 1659.0,1964.9 1659.0,1964.6 1660.0,1964.6 1660.0,1964.3 1661.0,1964.3 1661.0,1963.9 1662.0,1963.9 1662.0,1963.4 1663.0,1963.4 1663.0,1962.0 1664.0,1962.0 1664.0,1960.7 1665.0,1960.7 1665.0,1960.7 1666.0,1960.7 1666.0,1960.8 1667.0,1960.8 1667.0,1958.2 1668.0,1958.2 1668.0,1955.6 1669.0,1955.6 1669.0,1956.3 1670.0,1956.3 1670.0,1955.0 1671.0,1955.0 1671.0,1955.7 1672.0,1955.7 1672.0,1954.5 1673.0,1954.5 1673.0,1954.1 1674.0,1954.1 1674.0,1953.7 1675.0,1953.7 1675.0,1953.1 1676.0,1953.1 1676.0,1952.5 1677.0,1952.5 1677.0,1952.2 1678.0,1952.2 1678.0,1951.9 1679.0,1951.9 1679.0,1951.5 1680.0,1951.5 1680.0,1951.1 1681.0,1951.1 1681.0,1950.8 1682.0,1950.8 1682.0,1950.5 1683.0,1950.5 1683.0,1949.6 1684.0,1949.6 1684.0,1948.7 1685.0,1948.7 1685.0,1947.9 1686.0,1947.9 1686.0,1947.0 1687.0,1947.0 1687.0,1946.6 1688.0,1946.6 1688.0,1946.1 1689.0,1946.1 1689.0,1945.5 1690.0,1945.5 1690.0,1945.0 1691.0,1945.0 1691.0,1944.8 1692.0,1944.8 1692.0,1944.6 1693.0,1944.6 1693.0,1943.9 1694.0,1943.9 1694.0,1941.8 1695.0,1941.8 1695.0,1940.8 1696.0,1940.8 1696.0,1939.6 1697.0,1939.6 1697.0,1941.0 1698.0,1941.0 1698.0,1941.2 1699.0,1941.2 1699.0,1939.4 1700.0,1939.4 1700.0,1937.6 1701.0,1937.6 1701.0,1937.8 1702.0,1937.8 1702.0,1938.0 1703.0,1938.0 1703.0,1937.9 1704.0,1937.9 1704.0,1937.8 1705.0,1937.8 1705.0,1937.0 1706.0,1937.0 1706.0,1936.2 1707.0,1936.2 1707.0,1935.4 1708.0,1935.4 1708.0,1933.2 1709.0,1933.2 1709.0,1933.4 1710.0,1933.4 1710.0,1933.6 1711.0,1933.6 1711.0,1933.6 1712.0,1933.6 1712.0,1932.7 1713.0,1932.7 1713.0,1932.5 1714.0,1932.5 1714.0,1932.3 1715.0,1932.3 1715.0,1931.8 1716.0,1931.8 1716.0,1931.3 1717.0,1931.3 1717.0,1929.6 1718.0,1929.6 1718.0,1927.9 1719.0,1927.9 1719.0,1928.4 1720.0,1928.4 1720.0,1928.9 1721.0,1928.9 1721.0,1928.7 1722.0,1928.7 1722.0,1928.4 1723.0,1928.4 1723.0,1927.7 1724.0,1927.7 1724.0,1926.9 1725.0,1926.9 1725.0,1926.2 1726.0,1926.2 1726.0,1925.5 1727.0,1925.5 1727.0,1923.9 1728.0,1923.9 1728.0,1922.4 1729.0,1922.4 1729.0,1923.1 1730.0,1923.1 1730.0,1923.8 1731.0,1923.8 1731.0,1923.5 1732.0,1923.5 1732.0,1923.2 1733.0,1923.2 1733.0,1922.3 1734.0,1922.3 1734.0,1921.4 1735.0,1921.4 1735.0,1921.0 1736.0,1921.0 1736.0,1920.5 1737.0,1920.5 1737.0,1919.0 1738.0,1919.0 1738.0,1919.2 1739.0,1919.2 1739.0,1920.4 1740.0,1920.4 1740.0,1920.5 1741.0,1920.5 1741.0,1920.4 1742.0,1920.4 1742.0,1920.4 1743.0,1920.4 1743.0,1919.3 1744.0,1919.3 1744.0,1918.2 1745.0,1918.2 1745.0,1918.4 1746.0,1918.4 1746.0,1918.6 1747.0,1918.6 1747.0,1916.7 1748.0,1916.7 1748.0,1917.0 1749.0,1917.0 1749.0,1917.5 1750.0,1917.5 1750.0,1918.4 1751.0,1918.4 1751.0,1916.7 1752.0,1916.7 1752.0,1914.9 1753.0,1914.9 1753.0,1915.6 1754.0,1915.6 1754.0,1916.3 1755.0,1916.3 1755.0,1915.7 1756.0,1915.7 1756.0,1915.0 1757.0,1915.0 1757.0,1913.8 1758.0,1913.8 1758.0,1912.6 1759.0,1912.6 1759.0,1912.2 1760.0,1912.2 1760.0,1911.8 1761.0,1911.8 1761.0,1910.0 1762.0,1910.0 1762.0,1908.2 1763.0,1908.2 1763.0,1905.4 1764.0,1905.4 1764.0,1904.6 1765.0,1904.6 1765.0,1904.8 1766.0,1904.8 1766.0,1903.9 1767.0,1903.9 1767.0,1901.9 1768.0,1901.9 1768.0,1897.7 1769.0,1897.7 1769.0,1885.8 1770.0,1885.8 1770.0,1881.9 1771.0,1881.9 1771.0,1884.2 1772.0,1884.2 1772.0,1893.5 1773.0,1893.5 1773.0,1897.7 1774.0,1897.7 1774.0,1899.9 1775.0,1899.9 1775.0,1901.1 1776.0,1901.1 1776.0,1902.4 1777.0,1902.4 1777.0,1904.6 1778.0,1904.6 1778.0,2109.3 1779.0,2109.3 1779.0,2259.2 1780.0,2259.2 1780.0,2385.6 1781.0,2385.6 1781.0,2450.2 1781.5,2450.2 1781.5,2454.5 1781.0,2454.5 1781.0,2453.0 1780.0,2453.0 1780.0,2388.2 1779.0,2388.2 1779.0,2261.8 1778.0,2261.8 1778.0,2111.9 1777.0,2111.9 1777.0,1908.9 1776.0,1908.9 1776.0,1908.3 1775.0,1908.3 1775.0,1907.4 1774.0,1907.4 1774.0,1906.0 1773.0,1906.0 1773.0,1904.2 1772.0,1904.2 1772.0,1901.3 1771.0,1901.3 1771.0,1892.9 1770.0,1892.9 1770.0,1903.7 1769.0,1903.7 1769.0,1907.8 1768.0,1907.8 1768.0,1909.9 1767.0,1909.9 1767.0,1911.3 1766.0,1911.3 1766.0,1912.2 1765.0,1912.2 1765.0,1913.0 1764.0,1913.0 1764.0,1914.7 1763.0,1914.7 1763.0,1916.3 1762.0,1916.3 1762.0,1917.2 1761.0,1917.2 1761.0,1918.1 1760.0,1918.1 1760.0,1918.8 1759.0,1918.8 1759.0,1919.5 1758.0,1919.5 1758.0,1919.6 1757.0,1919.6 1757.0,1919.7 1756.0,1919.7 1756.0,1921.6 1755.0,1921.6 1755.0,1923.5 1754.0,1923.5 1754.0,1923.4 1753.0,1923.4 1753.0,1923.3 1752.0,1923.3 1752.0,1924.3 1751.0,1924.3 1751.0,1925.3 1750.0,1925.3 1750.0,1925.0 1749.0,1925.0 1749.0,1924.6 1748.0,1924.6 1748.0,1924.8 1747.0,1924.8 1747.0,1925.0 1746.0,1925.0 1746.0,1926.4 1745.0,1926.4 1745.0,1927.2 1744.0,1927.2 1744.0,1926.5 1743.0,1926.5 1743.0,1927.1 1742.0,1927.1 1742.0,1927.0 1741.0,1927.0 1741.0,1927.0 1740.0,1927.0 1740.0,1927.3 1739.0,1927.3 1739.0,1927.7 1738.0,1927.7 1738.0,1927.2 1737.0,1927.2 1737.0,1926.8 1736.0,1926.8 1736.0,1927.4 1735.0,1927.4 1735.0,1928.0 1734.0,1928.0 1734.0,1929.7 1733.0,1929.7 1733.0,1930.5 1732.0,1930.5 1732.0,1931.8 1731.0,1931.8 1731.0,1930.9 1730.0,1930.9 1730.0,1931.7 1729.0,1931.7 1729.0,1932.6 1728.0,1932.6 1728.0,1931.9 1727.0,1931.9 1727.0,1931.3 1726.0,1931.3 1726.0,1932.2 1725.0,1932.2 1725.0,1933.2 1724.0,1933.2 1724.0,1935.1 1723.0,1935.1 1723.0,1937.0 1722.0,1937.0 1722.0,1936.7 1721.0,1936.7 1721.0,1936.3 1720.0,1936.3 1720.0,1937.5 1719.0,1937.5 1719.0,1937.7 1718.0,1937.7 1718.0,1936.5 1717.0,1936.5 1717.0,1937.2 1716.0,1937.2 1716.0,1937.6 1715.0,1937.6 1715.0,1938.0 1714.0,1938.0 1714.0,1939.4 1713.0,1939.4 1713.0,1940.7 1712.0,1940.7 1712.0,1941.1 1711.0,1941.1 1711.0,1941.4 1710.0,1941.4 1710.0,1941.8 1709.0,1941.8 1709.0,1942.2 1708.0,1942.2 1708.0,1942.0 1707.0,1942.0 1707.0,1941.9 1706.0,1941.9 1706.0,1942.8 1705.0,1942.8 1705.0,1943.8 1704.0,1943.8 1704.0,1944.7 1703.0,1944.7 1703.0,1945.6 1702.0,1945.6 1702.0,1946.0 1701.0,1946.0 1701.0,1946.4 1700.0,1946.4 1700.0,1947.1 1699.0,1947.1 1699.0,1948.4 1698.0,1948.4 1698.0,1948.8 1697.0,1948.8 1697.0,1948.1 1696.0,1948.1 1696.0,1949.3 1695.0,1949.3 1695.0,1950.5 1694.0,1950.5 1694.0,1951.6 1693.0,1951.6 1693.0,1952.1 1692.0,1952.1 1692.0,1952.7 1691.0,1952.7 1691.0,1953.8 1690.0,1953.8 1690.0,1953.7 1689.0,1953.7 1689.0,1955.2 1688.0,1955.2 1688.0,1954.8 1687.0,1954.8 1687.0,1954.3 1686.0,1954.3 1686.0,1955.2 1685.0,1955.2 1685.0,1956.1 1684.0,1956.1 1684.0,1956.8 1683.0,1956.8 1683.0,1957.0 1682.0,1957.0 1682.0,1956.9 1681.0,1956.9 1681.0,1958.0 1680.0,1958.0 1680.0,1958.0 1679.0,1958.0 1679.0,1958.0 1678.0,1958.0 1678.0,1959.2 1677.0,1959.2 1677.0,1960.5 1676.0,1960.5 1676.0,1961.1 1675.0,1961.1 1675.0,1961.7 1674.0,1961.7 1674.0,1962.3 1673.0,1962.3 1673.0,1963.0 1672.0,1963.0 1672.0,1963.1 1671.0,1963.1 1671.0,1963.3 1670.0,1963.3 1670.0,1964.2 1669.0,1964.2 1669.0,1965.1 1668.0,1965.1 1668.0,1965.7 1667.0,1965.7 1667.0,1966.2 1666.0,1966.2 1666.0,1966.8 1665.0,1966.8 1665.0,1967.3 1664.0,1967.3 1664.0,1968.6 1663.0,1968.6 1663.0,1969.9 1662.0,1969.9 1662.0,1970.7 1661.0,1970.7 1661.0,1971.5 1660.0,1971.5 1660.0,1972.0 1659.0,1972.0 1659.0,1972.5 1658.0,1972.5 1658.0,1973.1 1657.0,1973.1 1657.0,1973.7 1656.0,1973.7 1656.0,1974.4 1655.0,1974.4 1655.0,1975.1 1654.0,1975.1 1654.0,1978.4 1653.0,1978.4 1653.0,1980.9 1652.0,1980.9 1652.0,1978.8 1651.0,1978.8 1651.0,1978.7 1650.0,1978.7 1650.0,1979.8 1649.0,1979.8 1649.0,1980.9 1648.0,1980.9 1648.0,1981.8 1647.0,1981.8 1647.0,1982.7 1646.0,1982.7 1646.0,1983.6 1645.0,1983.6 1645.0,1984.6 1644.0,1984.6 1644.0,1985.2 1643.0,1985.2 1643.0,1985.9 1642.0,1985.9 1642.0,1986.8 1641.0,1986.8 1641.0,1987.7 1640.0,1987.7 1640.0,1988.2 1639.0,1988.2 1639.0,1988.6 1638.0,1988.6 1638.0,1992.1 1637.0,1992.1 1637.0,1991.5 1636.0,1991.5 1636.0,1992.3 1635.0,1992.3 1635.0,1993.1 1634.0,1993.1 1634.0,1993.9 1633.0,1993.9 1633.0,1994.7 1632.0,1994.7 1632.0,1995.5 1631.0,1995.5 1631.0,1997.0 1630.0,1997.0 1630.0,1997.7 1629.0,1997.7 1629.0,1997.3 1628.0,1997.3 1628.0,1998.6 1627.0,1998.6 1627.0,1999.9 1626.0,1999.9 1626.0,2000.3 1625.0,2000.3 1625.0,2000.6 1624.0,2000.6 1624.0,2001.4 1623.0,2001.4 1623.0,2002.2 1622.0,2002.2 1622.0,2002.4 1621.0,2002.4 1621.0,2002.5 1620.0,2002.5 1620.0,2004.0 1619.0,2004.0 1619.0,2005.5 1618.0,2005.5 1618.0,2005.8 1617.0,2005.8 1617.0,2006.1 1616.0,2006.1 1616.0,2007.2 1615.0,2007.2 1615.0,2008.2 1614.0,2008.2 1614.0,2008.3 1613.0,2008.3 1613.0,2008.3 1612.0,2008.3 1612.0,2009.4 1611.0,2009.4 1611.0,2010.6 1610.0,2010.6 1610.0,2010.2 1609.0,2010.2 1609.0,2009.8 1608.0,2009.8 1608.0,2012.1 1607.0,2012.1 1607.0,2014.4 1606.0,2014.4 1606.0,2014.6 1605.0,2014.6 1605.0,2014.8 1604.0,2014.8 1604.0,2015.2 1603.0,2015.2 1603.0,2015.7 1602.0,2015.7 1602.0,2016.4 1601.0,2016.4 1601.0,2017.1 1600.0,2017.1 1600.0,2018.1 1599.0,2018.1 1599.0,2019.1 1598.0,2019.1 1598.0,2021.0 1597.0,2021.0 1597.0,2022.2 1596.0,2022.2 1596.0,2022.4 1595.0,2022.4 1595.0,2024.2 1594.0,2024.2 1594.0,2024.8 1593.0,2024.8 1593.0,2025.5 1592.0,2025.5 1592.0,2026.3 1591.0,2026.3 1591.0,2027.2 1590.0,2027.2 1590.0,2027.9 1589.0,2027.9 1589.0,2028.7 1588.0,2028.7 1588.0,2030.2 1587.0,2030.2 1587.0,2031.7 1586.0,2031.7 1586.0,2033.5 1585.0,2033.5 1585.0,2035.3 1584.0,2035.3 1584.0,2036.4 1583.0,2036.4 1583.0,2037.5 1582.0,2037.5 1582.0,2039.6 1581.0,2039.6 1581.0,2040.9 1580.0,2040.9 1580.0,2041.2 1579.0,2041.2 1579.0,2043.1 1578.0,2043.1 1578.0,2044.4 1577.0,2044.4 1577.0,2045.6 1576.0,2045.6 1576.0,2047.6 1575.0,2047.6 1575.0,2049.6 1574.0,2049.6 1574.0,2050.1 1573.0,2050.1 1573.0,2050.5 1572.0,2050.5 1572.0,2052.8 1571.0,2052.8 1571.0,2055.0 1570.0,2055.0 1570.0,2056.5 1569.0,2056.5 1569.0,2058.1 1568.0,2058.1 1568.0,2059.5 1567.0,2059.5 1567.0,2060.9 1566.0,2060.9 1566.0,2062.9 1565.0,2062.9 1565.0,2065.0 1564.0,2065.0 1564.0,2066.0 1563.0,2066.0 1563.0,2067.0 1562.0,2067.0 1562.0,2069.6 1561.0,2069.6 1561.0,2072.6 1560.0,2072.6 1560.0,2074.7 1559.0,2074.7 1559.0,2077.0 1558.0,2077.0 1558.0,2080.0 1557.0,2080.0 1557.0,2081.2 1556.0,2081.2 1556.0,2083.1 1555.0,2083.1 1555.0,2085.0 1554.0,2085.0 1554.0,2087.7 1553.0,2087.7 1553.0,2090.4 1552.0,2090.4 1552.0,2092.9 1551.0,2092.9 1551.0,2095.5 1550.0,2095.5 1550.0,2100.0 1549.0,2100.0 1549.0,2103.8 1548.0,2103.8 1548.0,2105.1 1547.0,2105.1 1547.0,2107.9 1546.0,2107.9 1546.0,2111.3 1545.0,2111.3 1545.0,2114.6 1544.0,2114.6 1544.0,2126.4 1543.0,2126.4 1543.0,2139.4 1542.0,2139.4 1542.0,2152.6 1541.0,2152.6 1541.0,2229.5 1540.0,2229.5 1540.0,2454.7 1539.0,2454.7Z M2018.5,2186.0 2019.5,2186.0 2019.5,2046.4 2020.5,2046.4 2020.5,2032.7 2021.5,2032.7 2021.5,2018.9 2022.5,2018.9 2022.5,2005.2 2023.5,2005.2 2023.5,1998.5 2024.0,1998.5 2024.0,1992.3 2025.0,1992.3 2025.0,1985.1 2026.0,1985.1 2026.0,1977.8 2027.0,1977.8 2027.0,1972.4 2028.0,1972.4 2028.0,1967.3 2029.0,1967.3 2029.0,1962.4 2030.0,1962.4 2030.0,1958.1 2031.0,1958.1 2031.0,1955.0 2032.0,1955.0 2032.0,1952.6 2033.0,1952.6 2033.0,1949.3 2034.0,1949.3 2034.0,1946.5 2035.0,1946.5 2035.0,1944.3 2036.0,1944.3 2036.0,1942.2 2037.0,1942.2 2037.0,1941.3 2038.0,1941.3 2038.0,1940.3 2039.0,1940.3 2039.0,1938.9 2040.0,1938.9 2040.0,1937.4 2041.0,1937.4 2041.0,1935.9 2042.0,1935.9 2042.0,1934.5 2043.0,1934.5 2043.0,1932.0 2044.0,1932.0 2044.0,1928.3 2045.0,1928.3 2045.0,1928.3 2046.0,1928.3 2046.0,1927.7 2047.0,1927.7 2047.0,1927.1 2048.0,1927.1 2048.0,1925.1 2049.0,1925.1 2049.0,1924.0 2050.0,1924.0 2050.0,1923.0 2051.0,1923.0 2051.0,1922.8 2052.0,1922.8 2052.0,1922.6 2053.0,1922.6 2053.0,1920.7 2054.0,1920.7 2054.0,1918.8 2055.0,1918.8 2055.0,1918.7 2056.0,1918.7 2056.0,1918.6 2057.0,1918.6 2057.0,1917.0 2058.0,1917.0 2058.0,1915.3 2059.0,1915.3 2059.0,1914.5 2060.0,1914.5 2060.0,1913.7 2061.0,1913.7 2061.0,1913.8 2062.0,1913.8 2062.0,1912.3 2063.0,1912.3 2063.0,1910.8 2064.0,1910.8 2064.0,1910.1 2065.0,1910.1 2065.0,1910.4 2066.0,1910.4 2066.0,1910.7 2067.0,1910.7 2067.0,1909.4 2068.0,1909.4 2068.0,1908.2 2069.0,1908.2 2069.0,1907.6 2070.0,1907.6 2070.0,1907.1 2071.0,1907.1 2071.0,1906.1 2072.0,1906.1 2072.0,1905.2 2073.0,1905.2 2073.0,1904.7 2074.0,1904.7 2074.0,1904.2 2075.0,1904.2 2075.0,1904.2 2076.0,1904.2 2076.0,1904.2 2077.0,1904.2 2077.0,1903.8 2078.0,1903.8 2078.0,1903.3 2079.0,1903.3 2079.0,1902.4 2080.0,1902.4 2080.0,1900.6 2081.0,1900.6 2081.0,1900.3 2082.0,1900.3 2082.0,1899.2 2083.0,1899.2 2083.0,1898.8 2084.0,1898.8 2084.0,1898.5 2085.0,1898.5 2085.0,1897.9 2086.0,1897.9 2086.0,1897.4 2087.0,1897.4 2087.0,1897.4 2088.0,1897.4 2088.0,1897.3 2089.0,1897.3 2089.0,1897.0 2090.0,1897.0 2090.0,1896.8 2091.0,1896.8 2091.0,1894.7 2092.0,1894.7 2092.0,1892.7 2093.0,1892.7 2093.0,1892.8 2094.0,1892.8 2094.0,1892.9 2095.0,1892.9 2095.0,1891.8 2096.0,1891.8 2096.0,1890.7 2097.0,1890.7 2097.0,1889.5 2098.0,1889.5 2098.0,1888.3 2099.0,1888.3 2099.0,1888.7 2100.0,1888.7 2100.0,1889.0 2101.0,1889.0 2101.0,1887.7 2102.0,1887.7 2102.0,1886.3 2103.0,1886.3 2103.0,1885.9 2104.0,1885.9 2104.0,1885.5 2105.0,1885.5 2105.0,1884.3 2106.0,1884.3 2106.0,1883.1 2107.0,1883.1 2107.0,1883.2 2108.0,1883.2 2108.0,1882.1 2109.0,1882.1 2109.0,1881.3 2110.0,1881.3 2110.0,1880.5 2111.0,1880.5 2111.0,1880.7 2112.0,1880.7 2112.0,1879.1 2113.0,1879.1 2113.0,1879.0 2114.0,1879.0 2114.0,1879.6 2115.0,1879.6 2115.0,1878.7 2116.0,1878.7 2116.0,1877.9 2117.0,1877.9 2117.0,1877.2 2118.0,1877.2 2118.0,1876.5 2119.0,1876.5 2119.0,1876.8 2120.0,1876.8 2120.0,1877.0 2121.0,1877.0 2121.0,1876.0 2122.0,1876.0 2122.0,1875.0 2123.0,1875.0 2123.0,1873.3 2124.0,1873.3 2124.0,1875.7 2125.0,1875.7 2125.0,1874.6 2126.0,1874.6 2126.0,1873.6 2127.0,1873.6 2127.0,1873.4 2128.0,1873.4 2128.0,1871.2 2129.0,1871.2 2129.0,1870.6 2130.0,1870.6 2130.0,1870.1 2131.0,1870.1 2131.0,1871.1 2132.0,1871.1 2132.0,1869.1 2133.0,1869.1 2133.0,1869.4 2134.0,1869.4 2134.0,1870.6 2135.0,1870.6 2135.0,1870.0 2136.0,1870.0 2136.0,1869.3 2137.0,1869.3 2137.0,1869.0 2138.0,1869.0 2138.0,1868.8 2139.0,1868.8 2139.0,1868.3 2140.0,1868.3 2140.0,1867.8 2141.0,1867.8 2141.0,1866.4 2142.0,1866.4 2142.0,1863.6 2143.0,1863.6 2143.0,1864.0 2144.0,1864.0 2144.0,1864.4 2145.0,1864.4 2145.0,1865.2 2146.0,1865.2 2146.0,1865.2 2147.0,1865.2 2147.0,1863.4 2148.0,1863.4 2148.0,1863.5 2149.0,1863.5 2149.0,1863.6 2150.0,1863.6 2150.0,1863.7 2151.0,1863.7 2151.0,1863.5 2152.0,1863.5 2152.0,1863.3 2153.0,1863.3 2153.0,1862.3 2154.0,1862.3 2154.0,1861.3 2155.0,1861.3 2155.0,1859.8 2156.0,1859.8 2156.0,1860.5 2157.0,1860.5 2157.0,1859.8 2158.0,1859.8 2158.0,1859.1 2159.0,1859.1 2159.0,1858.7 2160.0,1858.7 2160.0,1858.4 2161.0,1858.4 2161.0,1858.4 2162.0,1858.4 2162.0,1858.4 2163.0,1858.4 2163.0,1857.4 2164.0,1857.4 2164.0,1856.3 2165.0,1856.3 2165.0,1856.6 2166.0,1856.6 2166.0,1856.9 2167.0,1856.9 2167.0,1856.5 2168.0,1856.5 2168.0,1856.2 2169.0,1856.2 2169.0,1855.7 2170.0,1855.7 2170.0,1855.2 2171.0,1855.2 2171.0,1854.7 2172.0,1854.7 2172.0,1854.3 2173.0,1854.3 2173.0,1853.4 2174.0,1853.4 2174.0,1852.5 2175.0,1852.5 2175.0,1852.9 2176.0,1852.9 2176.0,1853.3 2177.0,1853.3 2177.0,1852.1 2178.0,1852.1 2178.0,1850.9 2179.0,1850.9 2179.0,1851.4 2180.0,1851.4 2180.0,1851.9 2181.0,1851.9 2181.0,1851.4 2182.0,1851.4 2182.0,1850.9 2183.0,1850.9 2183.0,1850.6 2184.0,1850.6 2184.0,1850.3 2185.0,1850.3 2185.0,1849.7 2186.0,1849.7 2186.0,1849.1 2187.0,1849.1 2187.0,1849.3 2188.0,1849.3 2188.0,1849.4 2189.0,1849.4 2189.0,1848.7 2190.0,1848.7 2190.0,1847.9 2191.0,1847.9 2191.0,1847.6 2192.0,1847.6 2192.0,1847.3 2193.0,1847.3 2193.0,1847.2 2194.0,1847.2 2194.0,1847.2 2195.0,1847.2 2195.0,1846.3 2196.0,1846.3 2196.0,1845.5 2197.0,1845.5 2197.0,1845.0 2198.0,1845.0 2198.0,1844.5 2199.0,1844.5 2199.0,1844.3 2200.0,1844.3 2200.0,1844.2 2201.0,1844.2 2201.0,1844.8 2202.0,1844.8 2202.0,1845.5 2203.0,1845.5 2203.0,1844.6 2204.0,1844.6 2204.0,1843.7 2205.0,1843.7 2205.0,1843.7 2206.0,1843.7 2206.0,1843.7 2207.0,1843.7 2207.0,1843.7 2208.0,1843.7 2208.0,1843.8 2209.0,1843.8 2209.0,1843.0 2210.0,1843.0 2210.0,1842.3 2211.0,1842.3 2211.0,1842.4 2212.0,1842.4 2212.0,1842.5 2213.0,1842.5 2213.0,1842.0 2214.0,1842.0 2214.0,1841.5 2215.0,1841.5 2215.0,1841.3 2216.0,1841.3 2216.0,1839.6 2217.0,1839.6 2217.0,1839.4 2218.0,1839.4 2218.0,1839.9 2219.0,1839.9 2219.0,1840.2 2220.0,1840.2 2220.0,1840.5 2221.0,1840.5 2221.0,1838.9 2222.0,1838.9 2222.0,1840.4 2223.0,1840.4 2223.0,1839.5 2224.0,1839.5 2224.0,1838.6 2225.0,1838.6 2225.0,1838.5 2226.0,1838.5 2226.0,1838.5 2227.0,1838.5 2227.0,1837.7 2228.0,1837.7 2228.0,1835.0 2229.0,1835.0 2229.0,1836.0 2230.0,1836.0 2230.0,1837.0 2231.0,1837.0 2231.0,1838.1 2232.0,1838.1 2232.0,1838.2 2233.0,1838.2 2233.0,1837.2 2234.0,1837.2 2234.0,1834.9 2235.0,1834.9 2235.0,1835.4 2236.0,1835.4 2236.0,1836.5 2237.0,1836.5 2237.0,1836.9 2238.0,1836.9 2238.0,1837.4 2239.0,1837.4 2239.0,1836.9 2240.0,1836.9 2240.0,1836.4 2241.0,1836.4 2241.0,1835.6 2242.0,1835.6 2242.0,1833.0 2243.0,1833.0 2243.0,1833.5 2244.0,1833.5 2244.0,1833.9 2245.0,1833.9 2245.0,1834.4 2246.0,1834.4 2246.0,1834.1 2247.0,1834.1 2247.0,1834.0 2248.0,1834.0 2248.0,1833.9 2249.0,1833.9 2249.0,1834.4 2250.0,1834.4 2250.0,1834.9 2251.0,1834.9 2251.0,1834.2 2252.0,1834.2 2252.0,1833.5 2253.0,1833.5 2253.0,1833.0 2254.0,1833.0 2254.0,1832.6 2255.0,1832.6 2255.0,1832.9 2256.0,1832.9 2256.0,1833.2 2257.0,1833.2 2257.0,1838.4 2256.0,1838.4 2256.0,1839.0 2255.0,1839.0 2255.0,1839.5 2254.0,1839.5 2254.0,1839.3 2253.0,1839.3 2253.0,1839.2 2252.0,1839.2 2252.0,1839.8 2251.0,1839.8 2251.0,1840.4 2250.0,1840.4 2250.0,1842.1 2249.0,1842.1 2249.0,1842.9 2248.0,1842.9 2248.0,1841.7 2247.0,1841.7 2247.0,1842.1 2246.0,1842.1 2246.0,1842.4 2245.0,1842.4 2245.0,1842.7 2244.0,1842.7 2244.0,1842.7 2243.0,1842.7 2243.0,1844.0 2242.0,1844.0 2242.0,1844.1 2241.0,1844.1 2241.0,1841.9 2240.0,1841.9 2240.0,1842.3 2239.0,1842.3 2239.0,1842.7 2238.0,1842.7 2238.0,1842.7 2237.0,1842.7 2237.0,1842.8 2236.0,1842.8 2236.0,1843.6 2235.0,1843.6 2235.0,1844.4 2234.0,1844.4 2234.0,1844.6 2233.0,1844.6 2233.0,1844.8 2232.0,1844.8 2232.0,1846.3 2231.0,1846.3 2231.0,1847.4 2230.0,1847.4 2230.0,1846.9 2229.0,1846.9 2229.0,1844.3 2228.0,1844.3 2228.0,1845.4 2227.0,1845.4 2227.0,1846.5 2226.0,1846.5 2226.0,1846.6 2225.0,1846.6 2225.0,1846.7 2224.0,1846.7 2224.0,1846.1 2223.0,1846.1 2223.0,1845.4 2222.0,1845.4 2222.0,1846.4 2221.0,1846.4 2221.0,1847.3 2220.0,1847.3 2220.0,1847.0 2219.0,1847.0 2219.0,1846.6 2218.0,1846.6 2218.0,1847.3 2217.0,1847.3 2217.0,1848.1 2216.0,1848.1 2216.0,1848.2 2215.0,1848.2 2215.0,1848.3 2214.0,1848.3 2214.0,1848.3 2213.0,1848.3 2213.0,1848.4 2212.0,1848.4 2212.0,1849.0 2211.0,1849.0 2211.0,1849.5 2210.0,1849.5 2210.0,1850.1 2209.0,1850.1 2209.0,1850.6 2208.0,1850.6 2208.0,1850.5 2207.0,1850.5 2207.0,1850.4 2206.0,1850.4 2206.0,1851.2 2205.0,1851.2 2205.0,1852.1 2204.0,1852.1 2204.0,1851.6 2203.0,1851.6 2203.0,1851.6 2202.0,1851.6 2202.0,1852.3 2201.0,1852.3 2201.0,1853.1 2200.0,1853.1 2200.0,1852.7 2199.0,1852.7 2199.0,1854.1 2198.0,1854.1 2198.0,1854.4 2197.0,1854.4 2197.0,1853.6 2196.0,1853.6 2196.0,1854.2 2195.0,1854.2 2195.0,1854.8 2194.0,1854.8 2194.0,1857.1 2193.0,1857.1 2193.0,1856.1 2192.0,1856.1 2192.0,1855.9 2191.0,1855.9 2191.0,1855.7 2190.0,1855.7 2190.0,1855.4 2189.0,1855.4 2189.0,1855.2 2188.0,1855.2 2188.0,1855.1 2187.0,1855.1 2187.0,1854.9 2186.0,1854.9 2186.0,1855.4 2185.0,1855.4 2185.0,1855.9 2184.0,1855.9 2184.0,1857.0 2183.0,1857.0 2183.0,1858.2 2182.0,1858.2 2182.0,1857.9 2181.0,1857.9 2181.0,1857.6 2180.0,1857.6 2180.0,1858.2 2179.0,1858.2 2179.0,1858.9 2178.0,1858.9 2178.0,1859.3 2177.0,1859.3 2177.0,1859.7 2176.0,1859.7 2176.0,1860.1 2175.0,1860.1 2175.0,1860.5 2174.0,1860.5 2174.0,1861.1 2173.0,1861.1 2173.0,1861.8 2172.0,1861.8 2172.0,1861.5 2171.0,1861.5 2171.0,1861.3 2170.0,1861.3 2170.0,1862.2 2169.0,1862.2 2169.0,1863.1 2168.0,1863.1 2168.0,1863.6 2167.0,1863.6 2167.0,1864.0 2166.0,1864.0 2166.0,1864.9 2165.0,1864.9 2165.0,1864.9 2164.0,1864.9 2164.0,1864.3 2163.0,1864.3 2163.0,1865.2 2162.0,1865.2 2162.0,1865.7 2161.0,1865.7 2161.0,1866.1 2160.0,1866.1 2160.0,1866.4 2159.0,1866.4 2159.0,1866.7 2158.0,1866.7 2158.0,1867.7 2157.0,1867.7 2157.0,1868.7 2156.0,1868.7 2156.0,1869.0 2155.0,1869.0 2155.0,1869.3 2154.0,1869.3 2154.0,1868.7 2153.0,1868.7 2153.0,1868.1 2152.0,1868.1 2152.0,1869.2 2151.0,1869.2 2151.0,1870.3 2150.0,1870.3 2150.0,1870.6 2149.0,1870.6 2149.0,1871.0 2148.0,1871.0 2148.0,1870.8 2147.0,1870.8 2147.0,1870.6 2146.0,1870.6 2146.0,1871.5 2145.0,1871.5 2145.0,1872.4 2144.0,1872.4 2144.0,1872.4 2143.0,1872.4 2143.0,1872.3 2142.0,1872.3 2142.0,1873.3 2141.0,1873.3 2141.0,1874.2 2140.0,1874.2 2140.0,1874.2 2139.0,1874.2 2139.0,1874.3 2138.0,1874.3 2138.0,1875.1 2137.0,1875.1 2137.0,1875.9 2136.0,1875.9 2136.0,1876.3 2135.0,1876.3 2135.0,1876.7 2134.0,1876.7 2134.0,1876.8 2133.0,1876.8 2133.0,1876.9 2132.0,1876.9 2132.0,1878.6 2131.0,1878.6 2131.0,1879.4 2130.0,1879.4 2130.0,1878.3 2129.0,1878.3 2129.0,1878.7 2128.0,1878.7 2128.0,1880.3 2127.0,1880.3 2127.0,1881.8 2126.0,1881.8 2126.0,1881.7 2125.0,1881.7 2125.0,1881.5 2124.0,1881.5 2124.0,1883.1 2123.0,1883.1 2123.0,1884.6 2122.0,1884.6 2122.0,1884.0 2121.0,1884.0 2121.0,1883.4 2120.0,1883.4 2120.0,1883.9 2119.0,1883.9 2119.0,1884.5 2118.0,1884.5 2118.0,1885.0 2117.0,1885.0 2117.0,1885.5 2116.0,1885.5 2116.0,1887.3 2115.0,1887.3 2115.0,1889.2 2114.0,1889.2 2114.0,1888.8 2113.0,1888.8 2113.0,1888.5 2112.0,1888.5 2112.0,1889.3 2111.0,1889.3 2111.0,1890.1 2110.0,1890.1 2110.0,1889.7 2109.0,1889.7 2109.0,1889.3 2108.0,1889.3 2108.0,1891.7 2107.0,1891.7 2107.0,1893.8 2106.0,1893.8 2106.0,1894.5 2105.0,1894.5 2105.0,1893.6 2104.0,1893.6 2104.0,1893.9 2103.0,1893.9 2103.0,1895.3 2102.0,1895.3 2102.0,1896.4 2101.0,1896.4 2101.0,1895.6 2100.0,1895.6 2100.0,1896.3 2099.0,1896.3 2099.0,1897.0 2098.0,1897.0 2098.0,1897.0 2097.0,1897.0 2097.0,1897.0 2096.0,1897.0 2096.0,1898.1 2095.0,1898.1 2095.0,1899.3 2094.0,1899.3 2094.0,1899.6 2093.0,1899.6 2093.0,1900.0 2092.0,1900.0 2092.0,1900.6 2091.0,1900.6 2091.0,1901.3 2090.0,1901.3 2090.0,1901.8 2089.0,1901.8 2089.0,1902.4 2088.0,1902.4 2088.0,1903.3 2087.0,1903.3 2087.0,1904.2 2086.0,1904.2 2086.0,1904.2 2085.0,1904.2 2085.0,1904.3 2084.0,1904.3 2084.0,1905.2 2083.0,1905.2 2083.0,1906.1 2082.0,1906.1 2082.0,1906.8 2081.0,1906.8 2081.0,1907.5 2080.0,1907.5 2080.0,1908.2 2079.0,1908.2 2079.0,1908.8 2078.0,1908.8 2078.0,1909.4 2077.0,1909.4 2077.0,1909.9 2076.0,1909.9 2076.0,1911.4 2075.0,1911.4 2075.0,1913.0 2074.0,1913.0 2074.0,1915.0 2073.0,1915.0 2073.0,1916.2 2072.0,1916.2 2072.0,1913.8 2071.0,1913.8 2071.0,1914.5 2070.0,1914.5 2070.0,1914.1 2069.0,1914.1 2069.0,1914.9 2068.0,1914.9 2068.0,1915.8 2067.0,1915.8 2067.0,1916.7 2066.0,1916.7 2066.0,1917.8 2065.0,1917.8 2065.0,1918.9 2064.0,1918.9 2064.0,1919.3 2063.0,1919.3 2063.0,1919.7 2062.0,1919.7 2062.0,1921.2 2061.0,1921.2 2061.0,1922.7 2060.0,1922.7 2060.0,1923.0 2059.0,1923.0 2059.0,1923.2 2058.0,1923.2 2058.0,1924.2 2057.0,1924.2 2057.0,1925.2 2056.0,1925.2 2056.0,1925.1 2055.0,1925.1 2055.0,1925.0 2054.0,1925.0 2054.0,1927.4 2053.0,1927.4 2053.0,1929.8 2052.0,1929.8 2052.0,1930.2 2051.0,1930.2 2051.0,1930.6 2050.0,1930.6 2050.0,1932.5 2049.0,1932.5 2049.0,1934.5 2048.0,1934.5 2048.0,1935.4 2047.0,1935.4 2047.0,1936.2 2046.0,1936.2 2046.0,1937.7 2045.0,1937.7 2045.0,1939.3 2044.0,1939.3 2044.0,1940.2 2043.0,1940.2 2043.0,1941.1 2042.0,1941.1 2042.0,1943.2 2041.0,1943.2 2041.0,1945.4 2040.0,1945.4 2040.0,1946.7 2039.0,1946.7 2039.0,1947.9 2038.0,1947.9 2038.0,1950.7 2037.0,1950.7 2037.0,1953.5 2036.0,1953.5 2036.0,1954.4 2035.0,1954.4 2035.0,1955.7 2034.0,1955.7 2034.0,1957.8 2033.0,1957.8 2033.0,1960.4 2032.0,1960.4 2032.0,1964.2 2031.0,1964.2 2031.0,1968.8 2030.0,1968.8 2030.0,1974.1 2029.0,1974.1 2029.0,1979.9 2028.0,1979.9 2028.0,1986.1 2027.0,1986.1 2027.0,1992.5 2026.0,1992.5 2026.0,1998.4 2025.0,1998.4 2025.0,2004.0 2024.0,2004.0 2024.0,2009.1 2023.5,2009.1 2023.5,2022.9 2022.5,2022.9 2022.5,2036.5 2021.5,2036.5 2021.5,2050.0 2020.5,2050.0 2020.5,2189.4 2019.5,2189.4 2019.5,2454.6 2018.5,2454.6Z" fill="#000" stroke="#000" stroke-width="0.8" stroke-linejoin="round"/><polyline points="2258,1836 2259.5,2196 2262,2384" fill="none" stroke="#2a5060" stroke-width="3"/>
<rect x="308.8" y="1757.0" width="1960.2" height="700.9" fill="none" stroke="#000" stroke-width="9"/>
<text x="509" y="1840" font-size="72" font-weight="bold" textLength="299" lengthAdjust="spacingAndGlyphs">Pd/Al<tspan dy="20" font-size="50">2</tspan><tspan dy="-20">O</tspan><tspan dy="20" font-size="50">3</tspan></text>
<rect x="319.7" y="1752.3" width="242.3" height="703.7" fill="rgb(139,195,83)" fill-opacity="0.250"/>
<rect x="562.0" y="1752.3" width="240.4" height="703.7" fill="rgb(195,147,243)" fill-opacity="0.250"/>
<rect x="802.4" y="1752.3" width="244.6" height="703.7" fill="rgb(139,195,83)" fill-opacity="0.250"/>
<rect x="1047.0" y="1752.3" width="247.1" height="703.7" fill="rgb(3,171,231)" fill-opacity="0.250"/>
<rect x="1294.1" y="1752.3" width="240.9" height="703.7" fill="rgb(195,147,243)" fill-opacity="0.250"/>
<rect x="1535.0" y="1752.3" width="241.3" height="703.7" fill="rgb(3,171,231)" fill-opacity="0.250"/>
<rect x="1776.3" y="1752.3" width="241.3" height="703.7" fill="rgb(231,119,47)" fill-opacity="0.250"/>
<rect x="2017.6" y="1752.3" width="247.1" height="703.7" fill="rgb(3,171,231)" fill-opacity="0.250"/>
<line x1="308.8" y1="1752.5" x2="308.8" y2="2462.4" stroke="#000" stroke-width="9"/>
<line x1="2269.0" y1="1752.5" x2="2269.0" y2="2462.4" stroke="#000" stroke-width="9"/>
<line x1="279.5" y1="2457.9" x2="308.8" y2="2457.9" stroke="#000" stroke-width="9"/>
<line x1="279.5" y1="2265.3" x2="308.8" y2="2265.3" stroke="#000" stroke-width="9"/>
<line x1="279.5" y1="2071.9" x2="308.8" y2="2071.9" stroke="#000" stroke-width="9"/>
<line x1="279.5" y1="1876.5" x2="308.8" y2="1876.5" stroke="#000" stroke-width="9"/>
<line x1="295.0" y1="2361.6" x2="308.8" y2="2361.6" stroke="#000" stroke-width="9"/>
<line x1="295.0" y1="2168.6" x2="308.8" y2="2168.6" stroke="#000" stroke-width="9"/>
<line x1="295.0" y1="1974.2" x2="308.8" y2="1974.2" stroke="#000" stroke-width="9"/>
<line x1="295.0" y1="1778.8" x2="308.8" y2="1778.8" stroke="#000" stroke-width="9"/>
<line x1="308.6" y1="2457.9" x2="308.6" y2="2489.4" stroke="#000" stroke-width="9"/>
<line x1="708.8" y1="2457.9" x2="708.8" y2="2489.4" stroke="#000" stroke-width="9"/>
<line x1="1108.9" y1="2457.9" x2="1108.9" y2="2489.4" stroke="#000" stroke-width="9"/>
<line x1="1509.1" y1="2457.9" x2="1509.1" y2="2489.4" stroke="#000" stroke-width="9"/>
<line x1="1909.3" y1="2457.9" x2="1909.3" y2="2489.4" stroke="#000" stroke-width="9"/>
<line x1="508.7" y1="2457.9" x2="508.7" y2="2473.9" stroke="#000" stroke-width="9"/>
<line x1="908.9" y1="2457.9" x2="908.9" y2="2473.9" stroke="#000" stroke-width="9"/>
<line x1="1309.0" y1="2457.9" x2="1309.0" y2="2473.9" stroke="#000" stroke-width="9"/>
<line x1="1709.2" y1="2457.9" x2="1709.2" y2="2473.9" stroke="#000" stroke-width="9"/>
<line x1="2109.4" y1="2457.9" x2="2109.4" y2="2473.9" stroke="#000" stroke-width="9"/>
<text transform="translate(260.3,2481.4) scale(0.962,1)" font-size="84" font-weight="bold" text-anchor="end">0</text>
<text transform="translate(260.3,2288.8) scale(0.962,1)" font-size="84" font-weight="bold" text-anchor="end">200</text>
<text transform="translate(260.3,2095.4) scale(0.962,1)" font-size="84" font-weight="bold" text-anchor="end">400</text>
<text transform="translate(260.3,1900.0) scale(0.962,1)" font-size="84" font-weight="bold" text-anchor="end">600</text>
<text transform="translate(308.1,2575.3) scale(0.962,1)" font-size="84" font-weight="bold" text-anchor="middle">0</text>
<text transform="translate(708.3,2575.3) scale(0.962,1)" font-size="84" font-weight="bold" text-anchor="middle">100</text>
<text transform="translate(1108.4,2575.3) scale(0.962,1)" font-size="84" font-weight="bold" text-anchor="middle">200</text>
<text transform="translate(1508.6,2575.3) scale(0.962,1)" font-size="84" font-weight="bold" text-anchor="middle">300</text>
<text transform="translate(1908.8,2575.3) scale(0.962,1)" font-size="84" font-weight="bold" text-anchor="middle">400</text>
<text x="331" y="1840" font-size="100" textLength="118" lengthAdjust="spacingAndGlyphs">(b)</text>
<circle cx="371.4" cy="2311.3" r="45.0" fill="none" stroke="#000" stroke-width="3.8"/><text x="371.4" y="2340.3" font-size="81.0" text-anchor="middle" stroke="rgb(226,240,212)" stroke-width="2.2">1</text>
<circle cx="627.2" cy="2311.3" r="45.0" fill="none" stroke="#000" stroke-width="3.8"/><text x="627.2" y="2340.3" font-size="81.0" text-anchor="middle" stroke="rgb(240,228,252)" stroke-width="2.2">2</text>
<circle cx="885.4" cy="2311.3" r="45.0" fill="none" stroke="#000" stroke-width="3.8"/><text x="885.4" y="2340.3" font-size="81.0" text-anchor="middle" stroke="rgb(226,240,212)" stroke-width="2.2">3</text>
<circle cx="1140.5" cy="2311.3" r="45.0" fill="none" stroke="#000" stroke-width="3.8"/><text x="1140.5" y="2340.3" font-size="81.0" text-anchor="middle" stroke="rgb(192,234,249)" stroke-width="2.2">4</text>
<circle cx="1398.9" cy="2311.3" r="45.0" fill="none" stroke="#000" stroke-width="3.8"/><text x="1398.9" y="2340.3" font-size="81.0" text-anchor="middle" stroke="rgb(240,228,252)" stroke-width="2.2">5</text>
<circle cx="1654.7" cy="2311.3" r="45.0" fill="none" stroke="#000" stroke-width="3.8"/><text x="1654.7" y="2340.3" font-size="81.0" text-anchor="middle" stroke="rgb(192,234,249)" stroke-width="2.2">6</text>
<circle cx="1912.0" cy="2311.3" r="45.0" fill="none" stroke="#000" stroke-width="3.8"/><text x="1912.0" y="2340.3" font-size="81.0" text-anchor="middle" stroke="rgb(249,221,203)" stroke-width="2.2">7</text>
<circle cx="2167.0" cy="2311.3" r="45.0" fill="none" stroke="#000" stroke-width="3.8"/><text x="2167.0" y="2340.3" font-size="81.0" text-anchor="middle" stroke="rgb(192,234,249)" stroke-width="2.2">8</text>
<text x="1103" y="2709" font-size="75" font-weight="bold" textLength="375" lengthAdjust="spacingAndGlyphs">Time (min)</text>
<text transform="translate(80.0,2228.5) rotate(-90)" font-size="75.0" font-weight="bold" textLength="601.8" lengthAdjust="spacingAndGlyphs">Concentration of</text>
<text transform="translate(80.0,1612.0) rotate(-90)" font-size="75.0" font-weight="bold" textLength="110.0" lengthAdjust="spacingAndGlyphs">CH</text>
<text transform="translate(99.7,1501.7) rotate(-90)" font-size="52.5" font-weight="bold" textLength="29.8" lengthAdjust="spacingAndGlyphs">4</text>
<text transform="translate(80.0,1460.0) rotate(-90)" font-size="75.0" font-weight="bold" textLength="209.5" lengthAdjust="spacingAndGlyphs">(ppm)</text>
</svg>
</body></html>
